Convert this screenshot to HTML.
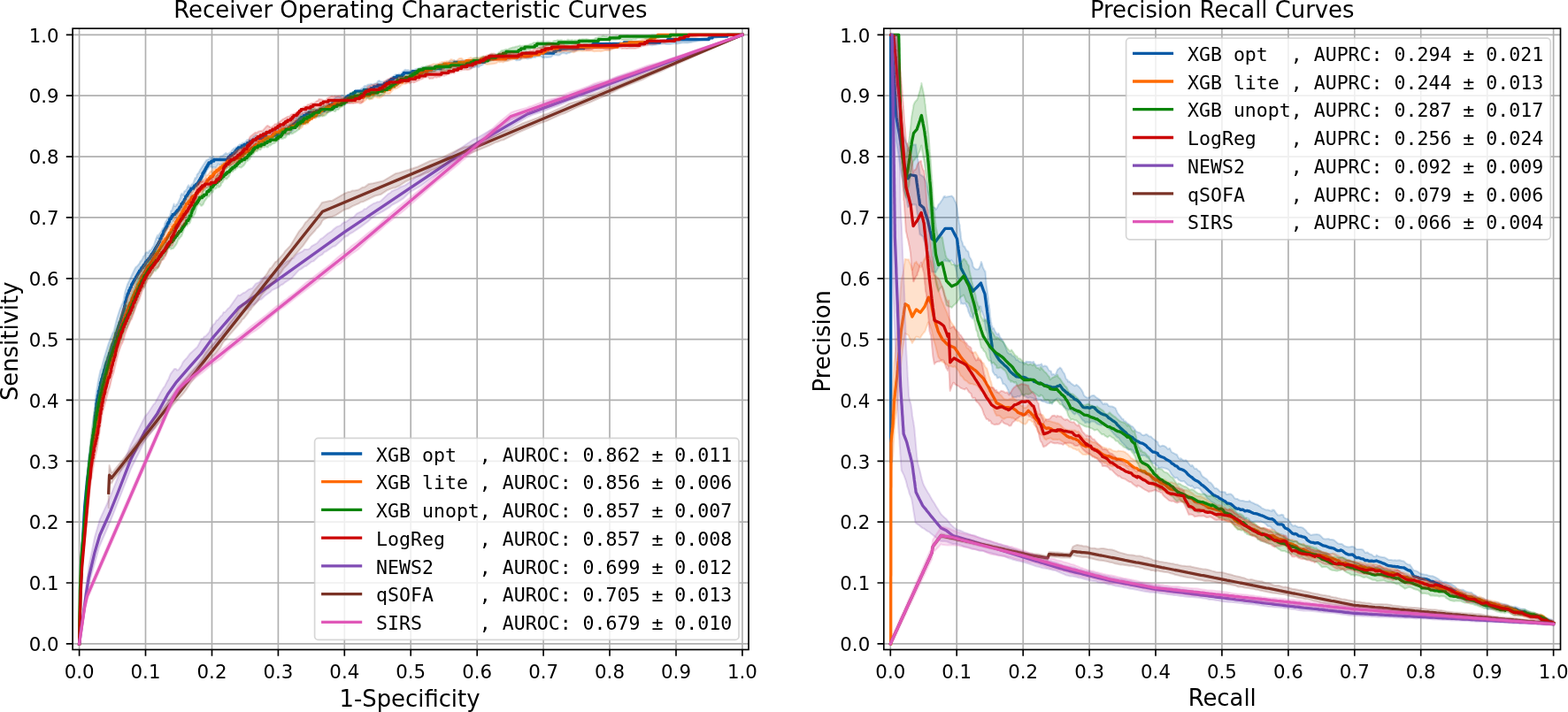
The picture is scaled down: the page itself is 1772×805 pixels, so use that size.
<!DOCTYPE html><html><head><meta charset="utf-8"><title>ROC and PR curves</title>
<style>html,body{margin:0;padding:0;background:#fff;width:1772px;height:805px;overflow:hidden}svg{display:block}text{font-family:"DejaVu Sans","Liberation Sans",sans-serif;fill:#000}.mono{font-family:"DejaVu Sans Mono","Liberation Mono",monospace;white-space:pre}</style></head><body>
<svg width="1772" height="805" viewBox="0 0 1772 805">
<rect width="1772" height="805" fill="#fff"/>
<clipPath id="clip_roc"><rect x="82.1" y="32.2" width="763.9" height="702.3"/></clipPath>
<clipPath id="clip_pr"><rect x="998.8" y="32.2" width="764.7" height="702.3"/></clipPath>
<path d="M89.6 32.2 V734.5 M82.1 727.8 H846 M164.5 32.2 V734.5 M82.1 659 H846 M239.5 32.2 V734.5 M82.1 590.1 H846 M314.4 32.2 V734.5 M82.1 521.3 H846 M389.3 32.2 V734.5 M82.1 452.4 H846 M464.2 32.2 V734.5 M82.1 383.6 H846 M539.2 32.2 V734.5 M82.1 314.8 H846 M614.1 32.2 V734.5 M82.1 245.9 H846 M689 32.2 V734.5 M82.1 177.1 H846 M764 32.2 V734.5 M82.1 108.2 H846 M838.9 32.2 V734.5 M82.1 39.4 H846" stroke="#b0b0b0" stroke-width="1.67" fill="none"/>
<g clip-path="url(#clip_roc)">
<path d="M89.6 727.8 L90.9 672.7 L93.2 615.9 L95.7 572.9 L98.5 543.7 L101.5 521.3 L101.5 517.8 L104.1 502.3 L104.6 495.5 L105.1 495.5 L105.1 492 L105.6 492 L105.6 488.6 L106.1 488.6 L106.1 485.1 L106.5 485.1 L107.5 469.6 L108 469.6 L108 466.2 L108.5 466.2 L108.5 461 L109 461 L109 455.9 L109.5 455.9 L109.5 452.4 L110 452.4 L110 450.7 L110.5 450.7 L110.5 447.3 L111 447.3 L111 445.6 L111.4 445.6 L111.4 442.1 L111.9 442.1 L112.9 437 L113.4 437 L113.4 433.5 L113.9 433.5 L113.9 431.8 L114.4 431.8 L114.9 428.3 L115.4 428.3 L116.3 423.2 L116.8 423.2 L117.8 418 L118.3 418 L119.3 412.9 L119.8 412.9 L119.8 411.1 L120.3 411.1 L120.3 409.4 L121.2 409.4 L121.2 407.7 L121.7 407.7 L122.2 404.3 L122.7 404.3 L123.7 399.1 L124.7 399.1 L125.2 395.6 L125.7 395.6 L125.7 393.9 L126.1 393.9 L126.1 392.2 L126.6 392.2 L126.6 390.5 L127.1 390.5 L127.1 388.8 L128.1 388.8 L128.1 387 L128.6 387 L128.6 385.3 L129.1 385.3 L129.1 383.6 L129.6 383.6 L129.6 381.9 L130.1 381.9 L131 376.7 L132 376.7 L132.5 373.3 L133 373.3 L133 371.6 L133.5 371.6 L133.5 369.8 L134 369.8 L134 368.1 L134.5 368.1 L135 364.7 L135.9 364.7 L135.9 362.9 L136.4 362.9 L136.9 359.5 L137.4 359.5 L137.4 357.8 L137.9 357.8 L137.9 356.1 L138.4 356.1 L138.4 354.3 L138.9 354.3 L138.9 352.6 L139.4 352.6 L139.4 350.9 L139.9 350.9 L139.9 349.2 L140.3 349.2 L140.8 345.7 L141.3 345.7 L141.3 342.3 L141.8 342.3 L141.8 340.6 L142.3 340.6 L143.3 335.4 L143.8 335.4 L143.8 333.7 L144.3 333.7 L144.3 332 L145.2 332 L145.7 328.5 L146.7 328.5 L146.7 326.8 L147.2 326.8 L147.2 325.1 L148.2 325.1 L148.7 321.6 L149.7 321.6 L149.7 319.9 L150.6 319.9 L150.6 318.2 L151.6 318.2 L151.6 316.5 L152.6 316.5 L152.6 314.8 L153.6 314.8 L153.6 313 L154.6 313 L154.6 311.3 L155.5 311.3 L155.5 309.6 L156.5 309.6 L156.5 307.9 L157.5 307.9 L157.5 306.2 L159 306.2 L159 304.4 L159.9 304.4 L159.9 302.7 L161.4 302.7 L161.4 301 L162.4 301 L162.4 299.3 L163.9 299.3 L163.9 297.5 L164.8 297.5 L164.8 295.8 L166.3 295.8 L166.3 294.1 L167.8 294.1 L167.8 292.4 L169.2 292.4 L169.2 290.7 L170.2 290.7 L170.2 288.9 L171.2 288.9 L171.2 287.2 L172.7 287.2 L172.7 285.5 L173.7 285.5 L173.7 283.8 L174.6 283.8 L174.6 282.1 L175.6 282.1 L175.6 280.3 L176.6 280.3 L176.6 278.6 L177.6 278.6 L177.6 276.9 L178.6 276.9 L178.6 275.2 L179.5 275.2 L179.5 273.5 L180.5 273.5 L181 270 L182 270 L182.5 266.6 L183.5 266.6 L183.5 264.9 L184.4 264.9 L184.9 261.4 L185.9 261.4 L185.9 259.7 L186.9 259.7 L186.9 258 L187.9 258 L187.9 256.2 L188.8 256.2 L189.3 252.8 L190.3 252.8 L190.3 251.1 L191.3 251.1 L191.8 247.6 L193.3 247.6 L193.3 245.9 L194.2 245.9 L194.2 244.2 L195.2 244.2 L195.2 242.5 L197.7 242.5 L197.7 240.8 L199.1 240.8 L199.1 239 L200.6 239 L200.6 237.3 L202.1 237.3 L202.1 235.6 L203 235.6 L203 233.9 L204.5 233.9 L205 230.4 L206.5 230.4 L206.5 228.7 L207.9 228.7 L207.9 227 L208.4 227 L208.4 225.3 L209.4 225.3 L209.9 221.8 L211.4 221.8 L211.4 220.1 L212.4 220.1 L212.4 218.4 L213.3 218.4 L213.3 216.7 L214.8 216.7 L214.8 214.9 L215.8 214.9 L215.8 213.2 L218.7 213.2 L218.7 211.5 L219.7 211.5 L219.7 209.8 L221.7 209.8 L221.7 208.1 L223.6 208.1 L223.6 206.3 L224.6 206.3 L224.6 204.6 L225.6 204.6 L225.6 202.9 L226.6 202.9 L226.6 201.2 L227.5 201.2 L227.5 199.5 L228.5 199.5 L229 196 L230 196 L230 194.3 L231 194.3 L231 192.6 L232 192.6 L232 190.8 L232.9 190.8 L232.9 189.1 L233.9 189.1 L233.9 187.4 L234.9 187.4 L234.9 185.7 L235.9 185.7 L235.9 184 L238.8 184 L238.8 182.2 L241.7 182.2 L241.7 180.5 L257.4 180.5 L257.4 178.8 L258.4 178.8 L258.4 177.1 L260.4 177.1 L260.4 175.4 L262.3 175.4 L262.3 173.6 L264.8 173.6 L264.8 171.9 L266.2 171.9 L266.2 170.2 L267.7 170.2 L267.7 168.5 L269.2 168.5 L269.2 166.8 L273.1 166.8 L273.1 165 L276 165 L276 163.3 L279.5 163.3 L279.5 161.6 L282.4 161.6 L282.4 159.9 L285.8 159.9 L285.8 158.1 L289.3 158.1 L289.3 156.4 L297.6 156.4 L297.6 154.7 L307.9 154.7 L307.9 153 L312.8 153 L312.8 151.3 L314.7 151.3 L314.7 149.5 L318.7 149.5 L318.7 147.8 L321.6 147.8 L321.6 146.1 L326 146.1 L326 144.4 L328.5 144.4 L328.5 142.7 L330.9 142.7 L330.9 140.9 L332.9 140.9 L332.9 139.2 L334.8 139.2 L334.8 137.5 L336.8 137.5 L336.8 135.8 L338.7 135.8 L338.7 134.1 L340.7 134.1 L340.7 132.3 L343.2 132.3 L343.2 130.6 L346.1 130.6 L346.1 128.9 L349 128.9 L349 127.2 L357.4 127.2 L357.4 125.4 L366.2 125.4 L366.2 123.7 L368.1 123.7 L368.1 122 L370.6 122 L370.6 120.3 L372.1 120.3 L372.1 118.6 L375.5 118.6 L375.5 116.8 L378.4 116.8 L378.4 115.1 L385.8 115.1 L385.8 113.4 L389.7 113.4 L389.7 111.7 L391.2 111.7 L391.2 110 L393.1 110 L393.1 108.2 L396.5 108.2 L396.5 106.5 L399.5 106.5 L399.5 104.8 L401.4 104.8 L401.4 103.1 L411.2 103.1 L411.2 101.4 L419.1 101.4 L419.1 99.6 L422.5 99.6 L422.5 97.9 L426.9 97.9 L426.9 96.2 L434.3 96.2 L434.3 94.5 L437.2 94.5 L437.2 92.8 L440.1 92.8 L440.1 91 L442.1 91 L442.1 89.3 L445 89.3 L445 87.6 L448.5 87.6 L448.5 85.9 L454.8 85.9 L454.8 84.1 L456.3 84.1 L456.3 82.4 L466.1 82.4 L466.1 80.7 L475.4 80.7 L475.4 79 L479.3 79 L479.3 77.3 L498.4 77.3 L498.4 75.5 L502.4 75.5 L502.4 73.8 L507.3 73.8 L507.3 72.1 L513.6 72.1 L513.6 70.4 L547.4 70.4 L547.4 68.7 L550.9 68.7 L550.9 66.9 L554.3 66.9 L554.3 65.2 L574.9 65.2 L574.9 63.5 L589.6 63.5 L589.6 61.8 L594 61.8 L594 60.1 L625.8 60.1 L625.8 58.3 L628.3 58.3 L628.3 56.6 L633.2 56.6 L633.2 54.9 L659.6 54.9 L659.6 53.2 L666.5 53.2 L666.5 51.4 L669.9 51.4 L669.9 49.7 L705.2 49.7 L705.2 48 L745.8 48 L745.8 46.3 L754.6 46.3 L754.6 44.6 L801.2 44.6 L801.2 42.8 L805.1 42.8 L805.1 41.1 L821.8 41.1 L821.8 39.4 L838.9 39.4" fill="none" stroke="#065aa6" stroke-width="3.3" stroke-linejoin="round" stroke-linecap="square"/>
<path d="M89.6 727.8 L90.4 686.6 L93.3 608.7 L94.6 582.9 L96.5 557.1 L99.5 524.4 L106.4 466.3 L108.2 447.6 L111.3 428.4 L113.5 418.7 L114.7 416.2 L117.5 405.1 L122.6 388.6 L127.4 376.4 L128.5 374.8 L132.1 360.3 L135.9 348.3 L135.9 349 L137.7 343.8 L138.1 344.1 L139.6 339.3 L141.4 329.8 L143.9 321.7 L152.4 303.8 L153.6 301.9 L154.8 301.2 L157.4 298.1 L158.8 295.3 L159.8 294.6 L161.6 291.4 L161.7 290.4 L163.5 288.5 L164.6 285.8 L166.1 285.1 L167.5 285.9 L169 283 L169 283.6 L170.8 282.3 L172.7 278.9 L173.2 279.3 L176.4 269.6 L178.2 265.8 L178.3 269.1 L180 264.5 L181.9 262.1 L183.9 258 L185 257.3 L185.6 256.2 L186.1 253 L187.4 250.2 L189.4 247 L190.6 246.8 L191.1 244.8 L191.8 244.6 L192.9 240.7 L193 238.6 L194.3 237.8 L196.6 230.5 L196.9 233.1 L198.3 232.9 L198.4 233.3 L199.7 230.8 L200.3 231.2 L201.1 229.5 L204 222.9 L204 221.2 L205.4 218.7 L205.8 219.6 L206.9 220.4 L208.4 216 L209.5 216.2 L210 214.9 L211.3 213.6 L211.5 212 L213.1 209.3 L213.2 211.6 L214.6 210.5 L215 211.6 L216.8 208.2 L217.8 208.5 L220.5 201.1 L220.9 201.8 L222.4 199.6 L222.4 197.8 L223.9 195.8 L224.2 196 L226.1 192.1 L233.4 180.9 L235 180.4 L235.3 179.7 L236.7 179.9 L237.1 178 L238.7 178.5 L238.9 179 L240.8 176.6 L241 178 L243.4 179.8 L244.5 178.9 L246.3 179.3 L248.1 179.1 L248.4 177.7 L250 176.4 L250.9 176.6 L255.5 172.9 L255.7 174.1 L257.9 173.7 L259.2 172.9 L261 171.7 L261.8 170.2 L264.7 167.6 L265.4 168.4 L266.5 166.5 L268.4 166.1 L269 164.9 L270.9 163.3 L272.9 163.1 L273.9 161.5 L275 161.8 L277.2 160.6 L279.4 158 L279.4 158.7 L281.6 157.5 L283.1 157.7 L283.9 156.7 L284.9 156.7 L286.8 154.2 L288.6 153.5 L288.6 152.5 L290.5 153.1 L290.9 153.9 L292.3 154.4 L294.1 153 L295.8 152.9 L298.2 149.7 L300.6 149.5 L301.5 150.1 L303.1 149.7 L303.3 150.3 L307 148.6 L307.9 147.5 L308.9 147.7 L310.3 145.8 L310.7 147 L312.5 146.2 L312.6 147.7 L314.4 146.8 L314.9 145.3 L316.2 145.6 L319.5 141.7 L321.7 142.7 L323.6 141.6 L326.1 141.5 L330.3 137.3 L331 135.5 L332.3 134.5 L332.8 133.4 L334.3 132.8 L334.6 133.4 L336.2 132.7 L338.2 130.3 L338.3 131.9 L340.2 129 L342 127.6 L342.1 128.7 L343.8 128 L344.2 127.1 L346.3 125.7 L349.4 124.6 L350.9 123 L355.7 123.7 L356.7 124.4 L360.4 123 L360.6 122.1 L363 120.5 L364.1 121.3 L365.9 119.6 L367.5 119.3 L367.8 120 L369.6 118.5 L369.6 117.8 L373.3 116.9 L373.8 115.7 L376.1 114.2 L378.8 110.3 L382.5 109.2 L382.8 109.7 L384.3 110 L386.2 107.5 L387.4 107.7 L388 108.3 L389.7 108.4 L389.8 108.8 L391.7 108.8 L393.5 108 L395.4 105.1 L396.7 105.7 L397.2 104.7 L399 104.1 L399 105.1 L400.9 103.9 L401.3 104.7 L404.6 101.9 L406.4 102.1 L408.2 100.1 L410.1 99.4 L411.9 97.2 L412.8 97 L413.8 97.5 L415.6 95.8 L417.5 95.4 L417.5 95.8 L419.3 94.9 L422.2 95.7 L423 94.5 L424.8 94.3 L426.7 92.9 L426.9 91.8 L428.5 91.1 L430.3 92.3 L434.1 92.6 L435.9 91.7 L437.7 89.9 L438.7 90.3 L441.4 88.7 L446.9 84.3 L450 84.3 L450.6 83.6 L452.3 83.9 L452.4 83.4 L454.3 82.8 L454.5 81.5 L457.9 78.7 L459.8 79.2 L461.5 78.9 L461.6 79.4 L464 80.1 L465.3 79.7 L466.4 78.7 L467.1 79.2 L468.9 79 L469 78.3 L474.5 76.9 L478.2 76.6 L480 77.4 L481.9 76.2 L483.7 75.9 L483.8 75.4 L485.5 74.3 L487.4 75 L491.1 75 L491.2 75.8 L492.9 74.6 L494.7 74.4 L496.6 73.4 L498.4 73.1 L500.8 71.3 L502.1 71.8 L503.9 70.8 L507.6 70.5 L507.9 69.5 L509.5 69.2 L510.3 69.7 L513.2 68.1 L515.2 69.4 L516.8 68.7 L518.7 69.8 L520.2 69.7 L520.5 69 L522.4 68.2 L522.7 68.9 L524.2 68.8 L525.2 67.9 L526 68.9 L527.9 69.9 L529.7 68.9 L533.4 68.9 L535.1 70.2 L535.2 71.1 L537.1 71 L537.6 71.3 L538.9 71 L542.6 67.7 L548.3 66.1 L553.6 61.8 L559.2 63.1 L561 61.9 L562.8 62.4 L562.9 62 L564.7 61.2 L566.5 61.4 L568.4 60.7 L572.9 60.2 L579.4 61.7 L580.3 60.8 L582.8 60.4 L583.1 60 L585.3 60.8 L587.8 61 L590.3 60.5 L590.4 59.5 L595.3 58.8 L597.8 59.9 L597.8 59.1 L601.5 61.1 L603.3 60.5 L605.2 60.8 L605.3 60.2 L610.3 59.1 L610.7 59.7 L612.5 60.1 L615.3 59.9 L617.7 59.2 L618.1 58.6 L623.6 58.8 L627.3 57.8 L627.6 57.1 L630.9 57.5 L634.6 56.8 L636.5 55.7 L638.3 55.5 L639.9 54.6 L640.1 54 L642.3 54 L644.8 52.9 L647.5 53.2 L651.2 52.6 L652.2 53.3 L656.7 52.5 L660.4 49.9 L662.2 49.8 L664.5 50.6 L665.9 50.1 L667.7 50.1 L669.5 50.6 L669.6 49.9 L671.4 49.6 L671.9 50.2 L675.1 48.8 L676.9 49.6 L678.8 49.1 L681.9 49.8 L682.5 48.8 L684.3 48.9 L684.4 48.5 L689.4 48.6 L691.7 49.1 L691.9 48.4 L693.5 48.1 L699 48.5 L699.4 47.9 L700.9 47.4 L701.9 48.1 L706.9 48.8 L711.9 47.4 L719.3 48.4 L726.9 47 L734 47.3 L734.4 47.9 L735.8 47.4 L736.9 47.9 L739.4 47.6 L744.4 46.5 L745 46.9 L752.4 47.2 L759.4 46.1 L765.3 47 L771.9 45.9 L774.5 46.5 L778.2 46.3 L783.7 45.7 L784.3 45.2 L792.9 43.6 L813.1 41.1 L838.9 39.4 L838.9 39.4 L811.5 42.3 L806.5 43.5 L791.7 45.6 L785.5 47.1 L781.9 47.4 L781.8 47.8 L776.9 48.5 L771.9 48.2 L765.3 49.5 L761.9 49 L756.9 50 L752.4 49.9 L750.6 49.2 L736.9 51.2 L734.4 51.1 L734 50.3 L730.3 50.1 L728.5 50.3 L726.6 51.2 L721.1 51 L715.6 52.2 L711.9 52.4 L708.2 51.8 L706.9 52.2 L704.6 51.5 L702.7 52 L700.9 51.2 L697.2 51.6 L691.9 53.1 L691.7 53.5 L689.4 53 L686.1 53.2 L684.4 52.7 L682.5 52.9 L681.9 52.4 L679.4 52.4 L678.8 53.4 L674.4 53.5 L673.3 54 L669.5 53.6 L667 53.9 L665.9 54.7 L664.5 54.5 L664.1 55.1 L662 55.5 L660.4 55.6 L659.5 54.7 L652.2 56.3 L651.2 57.3 L649.3 58 L647.5 58.2 L647.2 57.6 L643.8 59.7 L642.3 59.8 L640.1 60.9 L637.4 60.1 L635 60.3 L632.5 62.2 L630.9 62.5 L625.4 62.1 L622.7 64.4 L620.2 64.8 L617.7 65 L616.2 64.6 L615.3 65.5 L614.4 64.9 L612.8 65 L612.5 64.4 L610.3 63.4 L607 63.7 L605.3 64.2 L605.2 65 L602.8 64.8 L599.6 66.1 L597.8 65.5 L597.8 66.3 L596 66.5 L592.8 65.3 L592.3 65.7 L590.4 65.4 L590.3 66.1 L588.6 66.8 L587.8 67.9 L583.1 68.2 L582.8 67.5 L580.3 66.2 L579.4 66.8 L577.6 66.3 L572.9 68.6 L572 68.2 L570.4 68.8 L570.2 68.4 L566.5 68 L565.4 68.4 L561 67.8 L560.4 67.2 L557.9 67.4 L557.3 68.1 L550.5 69.5 L548.3 71.4 L548.1 70.8 L546.3 71.9 L546.3 72.6 L544.4 73.9 L542.6 74.4 L540.8 76.3 L540 75.1 L537.6 75.4 L535.2 76.3 L535.1 75.7 L533.4 77 L531.6 77 L530.1 76.4 L529.7 75.6 L527.9 75.4 L527.6 74.3 L522.4 73.8 L520.2 75.9 L518.7 75.6 L517.7 76.3 L515.2 76.4 L515 74.9 L511.3 74.2 L509.5 74.7 L507.6 76.6 L505.8 77.2 L502.1 77.4 L498.4 79.5 L496.1 79.9 L494.7 79.4 L492.9 80.3 L486.3 81 L485.5 81.8 L478.8 83.7 L476.3 85.4 L471.4 86 L470.8 85 L469 85.2 L467.1 84.6 L463.5 87.1 L461.6 86.7 L459.8 86.9 L457.9 88.3 L456.8 88.1 L456.1 88.9 L452.4 89 L452.3 88.4 L450 89.5 L448.7 91 L447.8 90.8 L445.1 93.6 L443.3 94.4 L443.2 94 L441.4 95.2 L438.7 96 L437.7 97.3 L435.9 97.8 L431.7 100.6 L429.3 101.2 L428.5 100.8 L426.9 101.3 L426.7 101 L424.8 101.3 L423 103.2 L422.2 103.5 L421.1 103.2 L419.8 104.3 L419.3 103.9 L417.5 105.4 L417.5 105.9 L415.6 106.7 L411.9 107.9 L410.1 107.3 L408.2 108.5 L408.2 107.5 L406.4 108.5 L405.9 107.9 L404.6 108.2 L401.3 111.9 L399 113.2 L399 114 L394.4 115.9 L393.5 115.7 L391.7 117.2 L386.2 119.4 L384.3 118.1 L382.8 120.6 L382.5 119.9 L380.6 121.9 L378.3 123.2 L375.1 123.7 L373.8 125.5 L371.7 126.7 L371.4 126.3 L369.6 127.4 L367.5 125.7 L365.9 126.5 L364.1 129.1 L363 129.3 L362.2 130.6 L360.6 131 L360.4 132.6 L358.2 131.8 L354.9 132.2 L351.2 131.4 L349.4 132.6 L347.5 135.1 L345.7 134.9 L344.2 136.8 L342.1 137.5 L342 137 L340.2 140 L340.1 141.4 L338.2 143 L336.2 143.1 L334.6 143.8 L334.3 143 L331 147.6 L326.1 151.9 L323.6 151.3 L321.8 152.7 L321.7 151.3 L319.9 150.8 L317.2 154 L316.2 153.9 L314.9 154.9 L314.4 156.4 L312.6 157.2 L312.5 156.3 L310.7 156.8 L308.9 158.2 L307.9 158.3 L307 157.8 L305.5 159 L303.3 158.4 L303.1 157.7 L301.5 157.9 L299.7 160.5 L298.2 160.3 L297.8 161.1 L296 161.6 L295.8 162.4 L294.1 161.3 L293.3 161.4 L292.3 162.7 L290.5 162.1 L288.6 162.2 L288.6 162.9 L286.8 163.9 L286.2 162.4 L283.9 164.9 L283.1 166.7 L281.6 168 L281.3 167.2 L279.4 168.9 L277.6 168.7 L277.2 167.9 L275.7 167.4 L272.9 170.1 L272.1 172.6 L270.9 172.5 L270.2 175.2 L269 175.8 L267.2 178.8 L266.5 178.9 L265.4 180.6 L264.7 179.7 L263.6 182.3 L261.8 181.8 L261 182.3 L259.9 181.5 L259.2 183.3 L257.3 183.7 L253.7 187.3 L251.8 185.7 L248.4 186 L248.1 186.5 L246.3 185.3 L245.9 187.1 L243.4 189.7 L241 188.9 L240.8 190.2 L238.9 188.8 L238.7 187.7 L237.1 188.4 L233.4 193.3 L232 197.8 L230.6 199.1 L229.7 199.4 L229.3 202.3 L228 204.7 L227.9 205.9 L226.7 205.6 L225.3 208 L222.4 209.7 L222.4 211.9 L220.9 211.7 L220.5 213.4 L219.3 215.6 L218.7 215.7 L216.8 218.6 L216.2 221.2 L215 223.1 L214.6 225.4 L213.2 227.9 L210 232.2 L209.5 231.3 L208.4 232.4 L207.6 235.3 L206.9 236.3 L204 238.8 L202.5 239.3 L200.3 244 L199.7 246.8 L198.4 248.3 L198.3 246.8 L195.6 250.6 L194.8 250.4 L194.3 250.7 L192.9 253.6 L189.4 257.5 L183.9 269.6 L182.8 276.3 L179.4 284.1 L178.3 285.1 L178.2 283.7 L176.4 286.2 L174.5 286.8 L173.2 291.2 L172.7 291.6 L171.8 291.1 L169 297.1 L169 295.4 L167.5 298.2 L167.2 300.8 L166.1 302.9 L160.2 311.5 L158.8 312.5 L154.8 318.7 L153.6 322.7 L150 329.7 L147.8 335.3 L143.2 348.6 L143.1 347.6 L141.2 354.9 L139.6 364 L137.4 369.4 L135.2 377.2 L133.6 380.5 L131.3 390.1 L121.9 420.2 L121.1 421.7 L121.1 420.9 L117.5 436.7 L117.5 436.2 L116.1 438 L115.4 439.6 L110.8 459.6 L109.2 469.7 L106.4 497.4 L99.2 547.3 L95.7 579.5 L94.2 599.2 L92.7 630.6 L90.4 688.1 L89.6 727.8 Z" fill="#065aa6" fill-opacity="0.2" stroke="#065aa6" stroke-opacity="0.2" stroke-width="2" stroke-linejoin="round"/>
<path d="M89.6 727.8 L90.9 665.8 L92.4 633.1 L98.5 559.1 L102 523 L103.6 514.4 L104.6 504.1 L105.1 504.1 L105.1 500.6 L105.6 500.6 L105.6 497.2 L106.1 497.2 L106.1 493.7 L106.5 493.7 L106.5 490.3 L107 490.3 L107 488.6 L107.5 488.6 L108.5 478.3 L109 478.3 L109 476.5 L109.5 476.5 L109.5 473.1 L110 473.1 L110 471.4 L110.5 471.4 L110.5 467.9 L111 467.9 L111.4 462.8 L111.9 462.8 L111.9 461 L112.4 461 L112.4 457.6 L112.9 457.6 L112.9 455.9 L113.4 455.9 L113.4 452.4 L113.9 452.4 L114.9 447.3 L115.4 447.3 L115.4 443.8 L115.9 443.8 L115.9 442.1 L116.3 442.1 L116.3 440.4 L116.8 440.4 L116.8 438.7 L117.3 438.7 L117.3 435.2 L117.8 435.2 L117.8 433.5 L118.3 433.5 L118.3 431.8 L118.8 431.8 L118.8 430.1 L119.3 430.1 L119.3 428.3 L119.8 428.3 L119.8 426.6 L120.3 426.6 L120.3 424.9 L120.8 424.9 L120.8 421.5 L121.2 421.5 L121.2 419.7 L121.7 419.7 L121.7 418 L122.2 418 L122.2 416.3 L122.7 416.3 L122.7 414.6 L123.2 414.6 L123.7 411.1 L124.2 411.1 L124.2 409.4 L124.7 409.4 L125.2 406 L125.7 406 L125.7 404.3 L126.1 404.3 L126.1 402.5 L126.6 402.5 L126.6 400.8 L127.1 400.8 L127.6 397.4 L128.6 397.4 L128.6 395.6 L129.1 395.6 L129.1 393.9 L129.6 393.9 L129.6 392.2 L130.1 392.2 L131 387 L131.5 387 L132 383.6 L133 383.6 L133 381.9 L133.5 381.9 L134 378.4 L134.5 378.4 L134.5 376.7 L135 376.7 L135 375 L135.4 375 L135.4 373.3 L136.4 373.3 L136.9 369.8 L137.4 369.8 L137.4 368.1 L137.9 368.1 L137.9 366.4 L138.9 366.4 L139.9 361.2 L140.8 361.2 L141.8 356.1 L142.8 356.1 L143.8 350.9 L144.8 350.9 L145.7 345.7 L146.7 345.7 L147.2 342.3 L148.2 342.3 L149.2 337.1 L150.1 337.1 L150.1 335.4 L150.6 335.4 L150.6 333.7 L151.6 333.7 L152.1 330.2 L153.1 330.2 L153.1 328.5 L154.1 328.5 L154.1 326.8 L154.6 326.8 L154.6 325.1 L155.5 325.1 L156 321.6 L157 321.6 L157 319.9 L158 319.9 L158 318.2 L159 318.2 L159.5 314.8 L160.4 314.8 L160.4 313 L161.4 313 L161.4 311.3 L162.9 311.3 L163.4 307.9 L164.4 307.9 L164.4 306.2 L165.8 306.2 L166.3 302.7 L167.3 302.7 L167.3 301 L168.8 301 L168.8 299.3 L169.7 299.3 L169.7 297.5 L170.7 297.5 L170.7 295.8 L172.2 295.8 L172.2 294.1 L173.2 294.1 L173.2 292.4 L174.6 292.4 L174.6 290.7 L175.6 290.7 L175.6 288.9 L176.6 288.9 L176.6 287.2 L177.6 287.2 L177.6 285.5 L178.6 285.5 L178.6 283.8 L179.5 283.8 L179.5 282.1 L180.5 282.1 L180.5 280.3 L181.5 280.3 L181.5 278.6 L182.5 278.6 L182.5 276.9 L183.5 276.9 L183.5 275.2 L184.4 275.2 L184.4 273.5 L185.9 273.5 L185.9 271.7 L186.9 271.7 L186.9 270 L188.4 270 L188.4 268.3 L189.3 268.3 L189.3 266.6 L190.3 266.6 L190.3 264.9 L191.3 264.9 L191.3 263.1 L192.8 263.1 L193.3 259.7 L194.7 259.7 L195.2 256.2 L196.7 256.2 L196.7 254.5 L198.2 254.5 L198.6 251.1 L199.6 251.1 L199.6 249.4 L200.6 249.4 L200.6 247.6 L202.1 247.6 L202.1 245.9 L203 245.9 L203 244.2 L204 244.2 L204 242.5 L205 242.5 L205 240.8 L206 240.8 L206 239 L207 239 L207 237.3 L207.9 237.3 L207.9 235.6 L208.9 235.6 L208.9 233.9 L209.9 233.9 L210.4 230.4 L212.4 230.4 L212.4 228.7 L213.8 228.7 L213.8 227 L215.3 227 L215.3 225.3 L216.3 225.3 L216.3 223.5 L217.7 223.5 L217.7 221.8 L220.2 221.8 L220.2 220.1 L221.7 220.1 L221.7 218.4 L223.6 218.4 L223.6 216.7 L225.1 216.7 L225.1 214.9 L226.1 214.9 L226.1 213.2 L228.5 213.2 L228.5 211.5 L230 211.5 L230 209.8 L231.5 209.8 L231.5 208.1 L232.9 208.1 L232.9 206.3 L233.9 206.3 L233.9 204.6 L234.9 204.6 L234.9 202.9 L236.4 202.9 L236.4 201.2 L237.8 201.2 L237.8 199.5 L240.3 199.5 L240.3 197.7 L241.3 197.7 L241.3 196 L242.7 196 L242.7 194.3 L244.7 194.3 L244.7 192.6 L247.1 192.6 L247.1 190.8 L249.1 190.8 L249.1 189.1 L251.5 189.1 L251.5 187.4 L253.5 187.4 L253.5 185.7 L256 185.7 L256 184 L257.4 184 L257.4 182.2 L261.3 182.2 L261.3 180.5 L265.3 180.5 L265.3 178.8 L270.7 178.8 L270.7 177.1 L272.6 177.1 L272.6 175.4 L274.6 175.4 L274.6 173.6 L277 173.6 L277 171.9 L280.4 171.9 L280.4 170.2 L281.4 170.2 L281.4 168.5 L284.9 168.5 L284.9 166.8 L287.3 166.8 L287.3 165 L289.3 165 L289.3 163.3 L292.2 163.3 L292.7 159.9 L297.6 159.9 L297.6 158.1 L299.6 158.1 L299.6 156.4 L303 156.4 L303 154.7 L307.9 154.7 L307.9 153 L308.9 153 L308.9 151.3 L310.8 151.3 L310.8 149.5 L315.7 149.5 L315.7 147.8 L319.1 147.8 L319.1 146.1 L326.5 146.1 L326.5 144.4 L329.9 144.4 L329.9 142.7 L334.3 142.7 L334.3 140.9 L338.3 140.9 L338.3 139.2 L344.1 139.2 L344.1 137.5 L347.6 137.5 L347.6 135.8 L349.5 135.8 L349.5 134.1 L352.5 134.1 L352.5 132.3 L354.9 132.3 L354.9 130.6 L357.4 130.6 L357.4 128.9 L358.3 128.9 L358.3 127.2 L361.8 127.2 L361.8 125.4 L364.2 125.4 L364.2 123.7 L368.1 123.7 L368.1 122 L370.6 122 L370.6 120.3 L374.5 120.3 L374.5 118.6 L377.9 118.6 L377.9 116.8 L385.8 116.8 L385.8 115.1 L391.6 115.1 L391.6 113.4 L393.6 113.4 L393.6 111.7 L398.5 111.7 L398.5 110 L411.2 110 L411.2 108.2 L417.6 108.2 L417.6 106.5 L422 106.5 L422 104.8 L427.4 104.8 L427.4 103.1 L434.8 103.1 L434.8 101.4 L440.6 101.4 L440.6 99.6 L442.1 99.6 L442.1 97.9 L445.5 97.9 L445.5 96.2 L448 96.2 L448 94.5 L449.9 94.5 L449.9 92.8 L454.8 92.8 L454.8 91 L461.7 91 L461.7 89.3 L464.2 89.3 L464.2 87.6 L466.6 87.6 L466.6 85.9 L469.5 85.9 L469.5 84.1 L473.5 84.1 L473.5 82.4 L477.4 82.4 L477.4 80.7 L482.8 80.7 L482.8 79 L487.7 79 L487.7 77.3 L492.1 77.3 L492.1 75.5 L496 75.5 L496 73.8 L501.9 73.8 L501.9 72.1 L518.5 72.1 L518.5 70.4 L526.9 70.4 L526.9 68.7 L543.5 68.7 L543.5 66.9 L571.4 66.9 L571.4 65.2 L584.7 65.2 L584.7 63.5 L600.8 63.5 L600.8 61.8 L609.6 61.8 L609.6 60.1 L614.1 60.1 L614.1 58.3 L616.5 58.3 L616.5 56.6 L619.4 56.6 L619.4 54.9 L630.2 54.9 L630.2 53.2 L697.8 53.2 L697.8 51.4 L701.2 51.4 L701.2 49.7 L711 49.7 L711 48 L731.1 48 L731.1 46.3 L734.1 46.3 L734.1 44.6 L736 44.6 L736 42.8 L740.4 42.8 L740.4 41.1 L743.4 41.1 L743.4 39.4 L838.9 39.4" fill="none" stroke="#ff6a00" stroke-width="3.3" stroke-linejoin="round" stroke-linecap="square"/>
<path d="M89.6 727.8 L90.8 668.6 L92.3 632 L99.2 540.8 L101.8 513.4 L104.4 489.5 L106.4 479.5 L108.6 461.7 L110.1 454.4 L110.9 452.6 L113.8 435.9 L118.9 417.1 L119.5 413.1 L121.4 405 L122.8 401.8 L123.4 397.6 L128.5 380.5 L132.2 372.2 L138 352 L139.6 347.9 L139.7 348.6 L142.3 342.6 L143.2 341.6 L143.2 340.5 L146.8 331.8 L149.7 326.4 L153.7 315.2 L155.8 311.1 L156.1 311.7 L158 309 L163.8 297.8 L166.4 294.8 L170.4 288.6 L170.8 288.7 L174.5 283.4 L175.9 281 L176.4 278.7 L177.3 277.7 L180 271.7 L181.3 271.6 L181.9 272.4 L182.6 272.2 L185.2 266.3 L187.4 258.5 L187.8 259.4 L189 258.3 L189.2 258.8 L190.3 257.3 L191.1 255 L191.6 256.9 L192.9 255.8 L192.9 253.3 L194.8 253.1 L195.5 252.1 L196.8 246 L198.1 246.1 L198.4 243.5 L200.3 240.7 L202.1 239.3 L202.2 238.3 L203.5 237 L207.6 230 L207.6 228.8 L209.5 225.8 L210.5 226.8 L212 222.5 L213.5 222 L215 220 L215.1 218 L216.6 217 L216.8 218.2 L218.2 216.6 L218.7 214.9 L220.5 213 L222.4 208.6 L224.2 206.5 L226.1 204.5 L226.1 206.6 L227.9 206 L229.7 202.9 L231 203 L231.6 201.1 L233.4 198.3 L235.3 197.3 L237.8 193.6 L238.9 194.1 L239.6 193.8 L240.8 191.8 L242.6 191 L243.2 191.7 L244.5 189.8 L245.1 190.5 L248.1 187.4 L250 186.5 L250.8 185 L252.8 183.5 L253.7 183.7 L258.9 178.2 L262.9 175.8 L263.1 174.4 L265.2 171.5 L266.5 170.9 L267.4 169.6 L268.4 170 L270.2 168.6 L271.7 168.5 L275.7 165.2 L276 166.9 L277.6 165.9 L278.2 164.3 L280.4 162.3 L283.1 160.7 L284.7 160.2 L284.9 161.2 L286.8 160.6 L286.9 160 L288.6 160.4 L291.2 159.4 L293.4 159.5 L296 155.2 L297.7 153.5 L297.8 154.3 L299.7 153 L299.9 153.9 L301.5 154 L302.1 154.8 L308.9 150.6 L314.4 148.3 L318.1 144.3 L319.8 143.1 L319.9 142.1 L321.8 140.1 L329.1 136.6 L334.6 136 L337.8 134.6 L338.3 133.5 L340 134 L342 132.7 L343.8 132.1 L344.5 132.5 L346.7 130.8 L347.5 131.2 L349.4 130.9 L351.2 128.6 L351.2 127.3 L354.9 124.1 L356.7 126.2 L357.8 125.5 L358.6 126 L360.4 125.1 L362.2 122.6 L364.1 122.9 L364.4 121.9 L366.5 120.3 L367.8 118.5 L368.7 118.6 L369.6 117.8 L373.3 117.5 L375.4 115.4 L377 114.7 L382.4 114.3 L384.3 112.7 L384.8 113.4 L386.2 113.3 L388 112.2 L389.8 112.2 L391.7 111.3 L392 109.9 L394.5 109.9 L396.9 108.5 L397.2 107.5 L399 108.8 L400.9 107.1 L401.8 107.6 L404.2 107 L404.6 105.4 L406.4 106 L408.2 104.7 L411.6 104.4 L411.9 103.7 L413.8 103.9 L414 104.3 L417.5 105.4 L421.1 103.3 L421.3 102.7 L423.7 100.7 L435.7 97.4 L437.7 96.3 L438 97.7 L440.3 96.1 L443.2 96.2 L446.9 93.7 L446.9 92.6 L449.1 92.2 L451.3 91 L453.5 90.8 L455.7 88.6 L457.9 88.6 L457.9 88 L459.8 87.7 L463.5 84.2 L464.6 83.7 L465.3 82.2 L466.8 81.5 L467.1 81.9 L470.8 79.6 L472.7 79.5 L473.6 78.7 L474.5 78.9 L475.8 78.1 L476.3 78.8 L478.1 79.2 L480 77.8 L480.3 77 L481.9 76.4 L483.7 74.7 L489.5 72.3 L492.9 72.6 L494.7 71.9 L496.6 72 L496.7 71.1 L498.4 70.8 L499.2 70 L501.6 70.1 L502.1 69.6 L503.9 70.2 L504.1 69.3 L506.6 69.2 L509.1 67.8 L509.5 67.1 L511.3 67.5 L511.5 68.1 L514 68.6 L515 69.4 L519 65.9 L521.5 65.7 L524 67.7 L524.2 68.5 L526.5 68.1 L529.7 66.1 L531.5 65.6 L531.6 64.9 L534 66 L539 65.5 L541.5 65.7 L542.6 64.5 L544.4 64.8 L546.5 63.9 L548.1 63.8 L549 65.3 L550 65.4 L551.8 64.2 L554 64.7 L555.5 64 L556.5 64 L557.3 65.1 L561.5 65.5 L564 64.7 L564.7 65.1 L566.5 64.3 L566.5 63.6 L570.2 62.9 L571.4 62 L579.4 61.1 L581.2 61.1 L581.4 61.6 L583.1 60.8 L584.9 61.8 L588.6 61.4 L588.8 62.1 L590.4 61.2 L592.3 61 L594.1 59.1 L596 58.4 L597.8 58.4 L598.6 57.9 L605.2 58.4 L606 57.9 L608.4 57.8 L608.9 57.3 L614.4 55.2 L615.6 55.1 L616.2 55.6 L618 54.7 L618.1 55.3 L623 53.2 L623.6 53.6 L628 53.2 L629.1 53.7 L630.5 53.1 L630.9 53.7 L632.8 53.1 L634.6 53.3 L635.5 52.8 L636.5 53.3 L638 52.9 L638.3 54.2 L642 54.7 L647.5 54.5 L648 54 L650.5 53.4 L655.5 53.1 L656.7 53.4 L658 53.1 L658.5 53.8 L660.4 53.3 L660.5 53.7 L664.1 54.7 L668 54.7 L673.3 53.6 L675.1 53.6 L675.5 54.3 L676.9 54.6 L678.8 54.5 L683 53 L688 52.9 L690.4 51.4 L695.2 49.8 L695.3 50.2 L697.2 50.1 L697.7 49.5 L699 49.4 L700.1 50 L707.4 47 L719.3 46.7 L723 45.7 L724.8 45.7 L724.8 45.1 L726.6 44.4 L727.2 44.9 L730.3 43.6 L732.2 44 L739.4 41.4 L746.9 39.5 L838.9 39.4 L838.9 39.4 L818.7 39.6 L811.3 40.1 L805.8 39.9 L798.8 40.4 L791 39.9 L783.7 41 L776.3 40.2 L767.1 40.6 L761.6 42 L756.3 41.8 L756.1 41 L753.8 41.8 L752.4 41.3 L746.9 41.7 L739.5 44.7 L734.7 47.2 L730.3 47.1 L727.2 47.7 L722.3 49.1 L719.8 49.4 L717.4 50.6 L717.3 50.2 L712.4 51.4 L711.9 51 L706.4 51.2 L704.6 52.1 L700.9 52.6 L695.3 54.3 L695.2 54 L689.8 56.7 L688 57.2 L684.3 56.9 L678.8 58.2 L676.9 57.8 L671.4 58.3 L667.7 57.3 L658 57.7 L654.9 57.3 L650.5 58.2 L649.3 59 L648 59.3 L645.7 58.4 L642 57.9 L638.3 57.8 L638 58.2 L635.5 58.1 L634.6 58.7 L632.8 58.9 L630.9 58.5 L629.1 59.2 L625.5 58.5 L623.6 58.8 L621.7 58.1 L619.9 59.8 L618.1 60.1 L618 59.6 L615.6 60.5 L613.3 60.2 L612.5 60.9 L608.9 61.8 L607 62.9 L606 62.6 L603.3 63.5 L601.1 63.5 L599.6 64.4 L596.2 64.9 L592.3 66.2 L590.4 66.2 L588.8 66.9 L586.8 66 L581.2 66.8 L573.9 69.1 L570.2 69.5 L568.9 70.4 L566.5 69.9 L564.7 70.4 L562.8 69.7 L561 71.5 L559.2 71.7 L559 72.1 L550 72.9 L546.5 71.6 L546.3 70.6 L544.4 70.5 L542.6 72.1 L541.5 72.1 L540.8 72.5 L538.9 72.5 L535.2 71 L534 71.4 L531.6 71.3 L531.5 72 L529.7 71.5 L527.9 71.8 L526 73.5 L524.2 73.8 L524 75 L519 75.5 L518.7 74.7 L516.8 74.6 L515 73.7 L514 74.7 L511.5 75.6 L511.3 74.8 L509.5 74.8 L509.1 74.1 L507.6 73.8 L504.1 74.3 L503.9 75.1 L501.6 77.3 L500.3 77.3 L499.2 78 L496.6 77.2 L494.7 78 L494.3 77.4 L492.9 77.4 L491.9 78.2 L491.1 77.7 L489.5 77.9 L485.5 79.7 L482.6 83 L474.5 87.7 L469.1 88.8 L466.8 88.7 L464.6 89.6 L462.3 91.5 L461.6 92.8 L460.1 93.2 L459.8 94.2 L457.9 95 L455.7 95 L453.5 96.1 L452.4 97.6 L449.1 99.7 L448.7 99.4 L446.9 100.6 L446.9 99.7 L444.7 100.8 L440.3 106 L439.5 105.8 L438 106.4 L437.7 105.5 L435.7 105.9 L430.9 109.9 L428.5 110.7 L428.5 110 L426.7 110.5 L423.7 109.3 L421.3 111.2 L421.1 111.9 L419.3 111.9 L417.5 112.6 L416.4 110.9 L414 111.2 L413.8 112.7 L410.1 115.6 L408.2 115.7 L406.7 114.6 L401.8 115.8 L399.3 115.2 L399 115.5 L397.2 115.5 L396.9 115 L395.4 115.3 L389.8 116.7 L389.6 117.5 L386.2 120.3 L384.3 120.8 L382.5 120.3 L382.4 119.3 L377 121.2 L375.4 122.7 L375.1 124.4 L373.2 125 L369.6 127.4 L367.8 128.1 L364.4 130.9 L364.1 130.1 L362.2 130.3 L360.4 131.5 L360 131.1 L358.6 131.4 L357.8 133 L356.7 133.8 L355.6 134.3 L354.9 133.3 L353.4 134 L353 134.9 L351.2 135.2 L351.2 136 L349.4 136.9 L348.9 139.4 L347.5 140.2 L346.7 139.2 L345.7 140.9 L344.5 139.7 L343.8 140.9 L342.2 141.7 L342 143.2 L340.2 145 L340 144.3 L338.3 145.9 L335.5 143.6 L334.6 143.5 L333.3 144.5 L332.8 144.4 L331.1 145.4 L327.3 149.4 L326.6 150.9 L322.1 152.3 L321.8 151 L319.9 151.5 L319.8 153.1 L318.1 154.2 L317.6 153.4 L316.2 154.5 L314.4 157.5 L313.1 157.2 L310.9 159.6 L310.7 158.9 L306.5 159.1 L304.3 161.5 L303.3 160.9 L297.8 163.6 L297.7 164.8 L293.4 167.3 L286.9 172.1 L286.8 170.1 L281.3 172.6 L280.4 175.2 L279.4 175.2 L277.6 177.2 L275.7 176.5 L273.9 177.2 L273.8 178.4 L272.1 178.9 L269.5 183.6 L268.4 184 L267.4 185.4 L265.2 184.1 L262.9 185.4 L261 185.7 L259.2 188.6 L258.9 187.7 L257.3 188.5 L256.9 189.4 L255.5 189.7 L254.8 191.3 L252.8 193.1 L251.8 193.7 L250.8 192.2 L248.9 195.1 L247 196 L244.5 201.4 L242.6 200.8 L240.8 204.1 L238.9 205.9 L237.8 205.3 L237.1 207 L236.1 207.3 L235.3 206.5 L233.4 208.4 L232.7 211.2 L229.7 215.7 L227.9 220.5 L226.1 221.8 L226.1 222.8 L224.5 223.8 L224.2 223.4 L222.4 226.6 L220.5 227.6 L219.7 230.7 L218.7 232.3 L218.2 230.5 L216.8 231.3 L215.1 234.7 L215 233.7 L213.5 234 L213.2 236.3 L210.5 239 L209.1 242.8 L206.3 247.2 L205.8 249.5 L203.5 250.9 L202.2 254.3 L202.1 256.2 L200.8 256.7 L199.5 256.4 L198.4 258.3 L198.1 258 L196.8 258.3 L195.5 260.6 L194.8 263.1 L194.2 262.8 L192.9 264.7 L192.9 266 L191.6 267 L189.2 271 L185.2 283.7 L183.7 284.6 L182.6 286.6 L181.9 286.2 L180 290.3 L180 292 L178.6 295.6 L178.2 295.3 L177.3 298 L176.4 298.6 L175.9 299.8 L174.5 300.7 L172.7 303.2 L171.8 302.8 L170.8 305.1 L167.7 308.6 L167.2 310.9 L165.1 313.6 L162.6 319.3 L161.4 320.3 L160.2 323.1 L159.1 324.4 L156.9 330.2 L156.1 330.6 L152.4 342 L150.6 345 L147.8 354 L141.4 368.1 L139.6 375.6 L138 379.6 L137.7 378.6 L137.2 380.1 L133.1 395.4 L130.7 402.3 L130.4 402.3 L130 403.4 L127 415.1 L125.5 418.5 L122.8 430.6 L117.7 448.4 L111.8 473.7 L106.2 506.1 L101.3 541.5 L92.4 635.4 L90.8 671.1 L89.6 727.8 Z" fill="#ff6a00" fill-opacity="0.2" stroke="#ff6a00" stroke-opacity="0.2" stroke-width="2" stroke-linejoin="round"/>
<path d="M89.6 727.8 L90.4 667.6 L91.9 629.7 L94.9 598.7 L98.2 552.3 L100.8 524.7 L103.1 509.2 L103.1 505.8 L104.6 495.5 L105.1 495.5 L105.1 492 L105.6 492 L105.6 488.6 L106.1 488.6 L106.1 485.1 L106.5 485.1 L106.5 483.4 L107 483.4 L107.5 476.5 L108 476.5 L108 474.8 L108.5 474.8 L109 469.6 L109.5 469.6 L109.5 466.2 L110 466.2 L110 464.5 L110.5 464.5 L110.5 461 L111 461 L111 459.3 L111.4 459.3 L111.4 455.9 L111.9 455.9 L111.9 454.2 L112.4 454.2 L112.4 452.4 L112.9 452.4 L112.9 449 L113.4 449 L113.4 447.3 L113.9 447.3 L113.9 445.6 L114.4 445.6 L114.4 443.8 L114.9 443.8 L114.9 440.4 L115.4 440.4 L116.3 435.2 L116.8 435.2 L116.8 433.5 L117.3 433.5 L117.3 431.8 L117.8 431.8 L117.8 428.3 L118.3 428.3 L119.3 423.2 L119.8 423.2 L120.8 418 L121.2 418 L121.2 416.3 L121.7 416.3 L122.2 412.9 L122.7 412.9 L123.7 407.7 L124.2 407.7 L125.2 402.5 L126.1 402.5 L126.6 399.1 L127.1 399.1 L127.1 397.4 L127.6 397.4 L128.1 393.9 L128.6 393.9 L128.6 392.2 L129.6 392.2 L130.5 387 L131 387 L131 385.3 L132 385.3 L133 380.2 L134 380.2 L135 375 L135.9 375 L135.9 373.3 L136.9 373.3 L137.4 369.8 L138.4 369.8 L138.9 366.4 L139.9 366.4 L139.9 364.7 L140.8 364.7 L141.3 361.2 L142.3 361.2 L142.3 359.5 L143.3 359.5 L143.8 356.1 L144.8 356.1 L144.8 354.3 L145.7 354.3 L145.7 352.6 L146.2 352.6 L146.2 350.9 L147.2 350.9 L147.7 347.5 L148.7 347.5 L148.7 345.7 L149.2 345.7 L149.2 344 L150.1 344 L150.6 340.6 L151.6 340.6 L152.6 335.4 L153.6 335.4 L154.1 332 L155 332 L156 326.8 L157 326.8 L157.5 323.4 L158.5 323.4 L158.5 321.6 L159.5 321.6 L159.9 318.2 L160.9 318.2 L160.9 316.5 L161.9 316.5 L162.4 313 L163.4 313 L163.4 311.3 L164.8 311.3 L164.8 309.6 L165.8 309.6 L165.8 307.9 L166.8 307.9 L166.8 306.2 L167.8 306.2 L167.8 304.4 L169.2 304.4 L169.2 302.7 L170.7 302.7 L170.7 301 L172.2 301 L172.2 299.3 L173.7 299.3 L173.7 297.5 L175.1 297.5 L175.1 295.8 L176.6 295.8 L176.6 294.1 L178.6 294.1 L178.6 292.4 L179.5 292.4 L179.5 290.7 L181 290.7 L181 288.9 L182 288.9 L182 287.2 L183 287.2 L183 285.5 L184.9 285.5 L184.9 283.8 L186.4 283.8 L186.4 282.1 L187.4 282.1 L187.4 280.3 L188.8 280.3 L188.8 278.6 L190.3 278.6 L190.3 276.9 L191.3 276.9 L191.3 275.2 L192.3 275.2 L192.3 273.5 L194.7 273.5 L194.7 271.7 L196.2 271.7 L196.2 270 L197.2 270 L197.2 268.3 L198.6 268.3 L198.6 266.6 L200.1 266.6 L200.1 264.9 L201.1 264.9 L201.1 263.1 L202.6 263.1 L202.6 261.4 L204.5 261.4 L204.5 259.7 L205.5 259.7 L205.5 258 L206.5 258 L206.5 256.2 L207.9 256.2 L207.9 254.5 L208.9 254.5 L208.9 252.8 L210.4 252.8 L210.9 249.4 L212.8 249.4 L212.8 247.6 L213.8 247.6 L214.3 244.2 L215.8 244.2 L216.3 240.8 L216.8 240.8 L216.8 239 L217.3 239 L217.3 237.3 L218.2 237.3 L218.2 235.6 L219.2 235.6 L219.2 233.9 L219.7 233.9 L219.7 232.2 L220.7 232.2 L220.7 230.4 L222.2 230.4 L222.2 228.7 L223.6 228.7 L223.6 227 L224.6 227 L224.6 225.3 L225.6 225.3 L225.6 223.5 L228.5 223.5 L228.5 221.8 L230.5 221.8 L230.5 220.1 L233.4 220.1 L233.9 216.7 L235.9 216.7 L235.9 214.9 L237.8 214.9 L238.3 211.5 L240.3 211.5 L240.3 209.8 L241.7 209.8 L241.7 208.1 L243.7 208.1 L243.7 206.3 L245.7 206.3 L245.7 204.6 L247.6 204.6 L247.6 202.9 L249.6 202.9 L249.6 201.2 L251.1 201.2 L251.1 199.5 L253 199.5 L253 197.7 L255 197.7 L255 196 L256.9 196 L256.9 194.3 L259.4 194.3 L259.4 192.6 L260.9 192.6 L260.9 190.8 L262.8 190.8 L262.8 189.1 L265.3 189.1 L265.3 187.4 L267.2 187.4 L267.2 185.7 L268.7 185.7 L268.7 184 L270.7 184 L270.7 182.2 L273.1 182.2 L273.1 180.5 L276.5 180.5 L276.5 178.8 L279 178.8 L279 177.1 L280.4 177.1 L280.4 175.4 L281.9 175.4 L281.9 173.6 L283.9 173.6 L283.9 171.9 L285.3 171.9 L285.3 170.2 L286.3 170.2 L286.3 168.5 L287.8 168.5 L287.8 166.8 L291.2 166.8 L291.2 165 L295.1 165 L295.1 163.3 L299.1 163.3 L299.1 161.6 L302 161.6 L302 159.9 L305.4 159.9 L305.4 158.1 L312.3 158.1 L312.3 156.4 L314.3 156.4 L314.3 154.7 L317.2 154.7 L317.2 153 L318.7 153 L318.7 151.3 L319.6 151.3 L319.6 149.5 L322.1 149.5 L322.1 147.8 L323.1 147.8 L323.1 146.1 L328.9 146.1 L328.9 144.4 L333.8 144.4 L333.8 142.7 L335.3 142.7 L335.3 140.9 L336.8 140.9 L336.8 139.2 L339.7 139.2 L339.7 137.5 L342.2 137.5 L342.2 135.8 L343.6 135.8 L343.6 134.1 L347.1 134.1 L347.1 132.3 L350 132.3 L350 130.6 L352.9 130.6 L352.9 128.9 L354.9 128.9 L354.9 127.2 L360.3 127.2 L360.3 125.4 L361.8 125.4 L361.8 123.7 L375.5 123.7 L375.5 122 L377.4 122 L377.4 120.3 L380.9 120.3 L380.9 118.6 L385.8 118.6 L385.8 116.8 L389.2 116.8 L389.2 115.1 L391.6 115.1 L391.6 113.4 L393.6 113.4 L393.6 111.7 L396.1 111.7 L396.1 110 L401 110 L401 108.2 L407.8 108.2 L407.8 106.5 L418.1 106.5 L418.1 104.8 L426.9 104.8 L426.9 103.1 L432.3 103.1 L432.3 101.4 L437.2 101.4 L437.2 99.6 L440.1 99.6 L440.1 97.9 L442.1 97.9 L442.1 96.2 L444.6 96.2 L444.6 94.5 L447 94.5 L447 92.8 L449 92.8 L449 91 L452.9 91 L452.9 89.3 L458.3 89.3 L458.3 87.6 L463.2 87.6 L463.2 85.9 L466.1 85.9 L466.1 84.1 L469 84.1 L469 82.4 L471.5 82.4 L471.5 80.7 L473 80.7 L473 79 L478.4 79 L478.4 77.3 L491.6 77.3 L491.6 75.5 L509.2 75.5 L509.2 73.8 L527.3 73.8 L527.3 72.1 L532.2 72.1 L532.2 70.4 L535.2 70.4 L535.2 68.7 L551.3 68.7 L551.3 66.9 L552.8 66.9 L552.8 65.2 L560.2 65.2 L560.2 63.5 L563.6 63.5 L563.6 61.8 L568.5 61.8 L568.5 60.1 L571.9 60.1 L571.9 58.3 L586.1 58.3 L586.1 56.6 L588.6 56.6 L588.6 54.9 L593 54.9 L593 53.2 L604.3 53.2 L604.3 51.4 L606.7 51.4 L606.7 49.7 L631.2 49.7 L631.2 48 L654.2 48 L654.2 46.3 L676.3 46.3 L676.3 44.6 L689 44.6 L689 42.8 L700.3 42.8 L700.3 41.1 L757.6 41.1 L757.6 39.4 L838.9 39.4" fill="none" stroke="#0a850a" stroke-width="3.3" stroke-linejoin="round" stroke-linecap="square"/>
<path d="M89.6 727.8 L90.4 666.9 L91.5 634.9 L93.1 610.6 L100.7 514.1 L102.7 495.1 L106.4 466.7 L110.9 446.3 L113.8 429.9 L120.9 402.3 L121.6 401.9 L124.8 390.6 L127.5 384.6 L130.4 374.2 L135.3 363 L136.3 359.4 L140.5 351.6 L142.6 346.5 L146.9 340.2 L148.8 334.8 L152.4 326.9 L154.5 319.9 L157.4 313.2 L159.5 310.5 L160.6 309.8 L165.3 299.7 L166.9 299.1 L167.2 297.5 L168.4 295.9 L169 296.3 L172.7 290.6 L174.3 286.1 L175.8 284 L176.4 284.3 L178.2 283.1 L179 283.3 L180 281.7 L180.5 282.1 L181.9 278 L182.1 279.2 L183.7 277.8 L187.4 273.1 L189.2 268.2 L189.7 268.7 L192.9 261.9 L194.3 262.3 L195.9 258.3 L200.3 253.1 L202.1 251.1 L202.1 251.8 L204 249.9 L205.8 249.4 L206.6 248.7 L208.1 245.7 L209.5 245.3 L209.5 246.1 L210.9 244.3 L211.3 245.1 L214.8 238.1 L216.8 231.8 L217 232.6 L218.7 230.2 L220.4 226.6 L220.5 227.9 L223.5 222.6 L226.1 221 L227 220.9 L228.9 216.6 L230.8 214.6 L231.6 214.5 L233.4 211.9 L234.5 212.1 L235.3 210.4 L236.2 210.9 L237.1 208.6 L238 209.9 L239.7 209.5 L240.8 207.8 L241.4 205.1 L242.6 204.3 L243.1 201.7 L244.5 200.6 L244.8 198.8 L246.3 197.1 L246.4 198.2 L248.1 197.6 L249.8 193.9 L250 194.6 L251.5 193.4 L253.3 189.7 L255 189.4 L255.5 190.3 L257.3 188.5 L258.6 188.8 L260.5 186.1 L261 183.6 L262.9 182.8 L264.4 180.8 L264.7 181.3 L268.4 178.5 L270.2 178.2 L270.4 177.4 L272.1 175.8 L272.4 176 L273.9 174.9 L275.7 172.8 L278.3 174 L279.4 173.4 L280.2 171.8 L284.9 165.9 L285.9 167.4 L286.8 167 L288.6 165.1 L290.5 164.5 L292.3 161.3 L294.1 161 L294.3 162 L296 161.3 L296.5 160.1 L298.7 158.9 L301.5 155.9 L303.1 155.6 L303.3 156.1 L305.2 156.5 L305.3 156 L307 155.8 L307.5 154.7 L308.9 154.1 L311.9 150.7 L314.1 150.9 L314.4 150 L316.2 149.9 L316.3 148.9 L318.5 146.7 L319.9 146.9 L323.6 144.9 L325 145.2 L325.4 143.8 L327.3 141.3 L329.1 140.3 L329.2 141.5 L331 139.5 L331.2 140.3 L333.2 140.3 L334.6 139.3 L338.3 132.2 L340.2 131.2 L343.8 132.4 L347.5 128.6 L347.5 127.4 L349.4 125.9 L349.6 126.9 L351.8 123.5 L353 122.7 L354 123.2 L356.3 122.3 L356.7 123.5 L358.6 123.4 L358.6 124.5 L360.4 122.2 L361 122.4 L365.8 119.4 L365.9 121.4 L367.8 120.3 L370.6 119.9 L371.4 120.2 L373 118.2 L373.3 118.4 L375.1 117.7 L375.4 118.8 L377 119.3 L378.8 118.7 L380.1 117.8 L382.5 114.2 L384.3 112.6 L386.2 111.6 L388 111.4 L389.8 110 L390.9 110.7 L392.8 109.7 L396.9 105.1 L397.2 105.2 L399 103.7 L399.2 104.2 L400.9 103.4 L401.6 104.2 L404.1 104.3 L404.6 104.8 L406.4 103.8 L408.2 103.5 L411.9 100.8 L416.5 100.4 L419 102.3 L419.3 103.3 L421.1 102.5 L421.4 103.2 L423.9 102.3 L426.7 102.1 L428.5 101 L428.7 100 L430.3 99.8 L433.3 97.7 L435.6 97.9 L435.9 96.9 L437.7 95.6 L437.8 95.9 L439.5 94.2 L442.2 94.1 L444.4 93.1 L446.5 91.6 L450.6 86.8 L450.8 87.2 L452.9 85.8 L454.3 85.9 L456.1 86.8 L464 82.3 L465.3 82.3 L468.7 80.2 L470.8 80.1 L471 79.1 L473.4 77.6 L475.8 77 L476.3 75.9 L478.2 75.4 L478.2 75.8 L480 75.9 L480.7 75.1 L481.9 74.6 L490.5 75.4 L492.9 73.9 L492.9 73.4 L498.4 72.7 L500.3 71.8 L502.1 72.5 L503.9 72.3 L505.3 72.8 L505.8 73.5 L509.5 72.7 L511.3 70.9 L515 70.3 L515.2 69.8 L516.8 69.9 L517.7 71.1 L520.2 70.3 L522.6 71 L524.2 70.3 L526 70.7 L532.4 68.2 L535.2 65.8 L538.9 65.2 L542.2 66.2 L544.4 64.9 L544.6 64 L546.3 63.6 L547 64.3 L549.4 64.7 L551.8 63.9 L555.5 61.4 L556.6 61.1 L557.3 62.5 L559.2 61.4 L562.8 60.8 L563.6 59.3 L564.7 59.1 L566.5 57.2 L568.3 56.7 L568.4 57.1 L572 55.7 L573.9 56.1 L575.4 55 L579.4 53.6 L581.2 53.6 L582.7 52.7 L584.9 52.6 L587.5 51.4 L588.6 51.9 L596 51.3 L599.6 49.7 L601.5 49.5 L602.2 48.6 L603.3 48.2 L605.2 48.3 L607 47.5 L607.2 47 L610.7 47.4 L612.1 46.8 L614.6 47.4 L619.9 46.9 L623.6 47.7 L624.5 47.6 L625.4 46.5 L627.3 45.9 L629.1 46 L629.5 45.2 L630.9 45.2 L632 45.8 L632.8 45.2 L634.5 45.3 L636.5 46 L638.3 45.7 L639.5 46.2 L642 44.7 L643.8 45.4 L647 45.1 L647.5 46.1 L649.5 45.2 L652 45.4 L654.9 44.5 L656.7 44.9 L657 44.4 L658.5 44.2 L662 44.6 L662.2 44 L667 45.2 L671.4 44.6 L673.3 42.8 L674.3 43 L676.7 41.8 L679 41.7 L681.5 40.5 L684.3 41.2 L686.1 41.1 L686.5 41.9 L694 41.1 L696.5 40.4 L702.7 41.2 L709 40 L711.9 41.1 L719 40.4 L726.5 40.7 L726.6 41 L730.3 40.4 L731.5 40.6 L734 39.9 L735.8 40 L736.5 39.6 L741.4 39.5 L743.2 40.2 L744 39.8 L746.4 40 L748.7 39.4 L838.9 39.4 L838.9 39.4 L820.5 39.6 L813.1 40.1 L805.8 39.8 L796.6 40.5 L791 39.9 L783.7 40.1 L781.8 40.7 L774.5 40.5 L769 40.9 L768.9 41.2 L765.3 41.9 L761.4 42.2 L753.9 42.2 L751.4 41.6 L746.9 41.9 L744 42.7 L741.4 42.8 L739 43.7 L734 44.3 L728.5 43.7 L726.6 43.1 L721.1 43.3 L719.3 43.8 L719 44.4 L715.6 44.4 L713.8 45.1 L711.9 44.7 L710.1 45.1 L702.7 44.9 L701.5 44.1 L695.3 44.9 L691.7 44.9 L691.5 44.6 L689 45 L686.5 44.2 L679 45 L675.1 47.7 L674.3 47.1 L673.3 47.8 L669.5 47.8 L664.5 49.4 L664.1 49.9 L657 49 L656.7 49.5 L653 50.1 L647 49.7 L645.7 50.2 L644.5 49.9 L642 50.8 L638.3 51.4 L636.5 50.8 L632.8 51.1 L629.5 52.1 L623.6 51.1 L619.6 51.3 L617.1 51.9 L612.1 54.6 L610.7 54.7 L608.9 53.9 L607.2 54.3 L604.7 53.1 L602.2 54.7 L599.8 54.7 L599.6 55.8 L597.8 56.4 L597.3 55.9 L596 55.9 L594.1 57.2 L590.4 57.1 L590 57.5 L587.5 56.6 L585.1 57.6 L584.9 57.3 L580.3 59.9 L579.4 59.5 L577.8 60.7 L575.4 61.4 L573.9 61.3 L573 61.9 L570.7 61.9 L570.2 61.5 L568.4 62 L562.8 64.1 L561 66 L556.6 68 L555.5 67.6 L554.2 68.8 L551.8 69.8 L549.4 70.4 L548.1 69.9 L544.6 71.2 L544.4 70.4 L542.6 71.9 L538.9 72.7 L537.3 73.6 L537.1 73.3 L535.2 73.7 L534.9 73.1 L531.6 74.4 L530 74.1 L527.5 74.9 L525.1 76.4 L522.6 76.3 L522.4 77.4 L520.5 77.7 L520.2 77.2 L518.7 77.1 L516.8 78.2 L515.2 77.4 L515 78 L513.2 77.3 L507.6 79.5 L505.8 79.3 L502.8 80.7 L502.1 80.2 L500.3 80.8 L498.4 80.2 L497.9 79.1 L496.6 78.4 L492.9 79.5 L490.5 81.4 L489.2 81.3 L485.5 83.5 L483.1 83 L478.2 83.3 L476.3 85.3 L474.5 84.8 L471 86.5 L470.8 87.3 L469 87.5 L467.1 86.6 L464 86.8 L461.7 88.8 L461.6 90.2 L459.8 91.7 L459.4 91.1 L457.9 92.1 L457.2 91.3 L456.1 91 L455.1 92 L454.3 91.8 L452.9 93.3 L452.4 92.9 L450.8 94.8 L450.6 95.8 L446.9 97.2 L446.5 99 L445.1 99.1 L444.4 98.5 L443.2 99 L442.2 100.5 L441.4 100.9 L440.1 100.4 L437.7 103 L435.9 103.3 L434 105.9 L433.3 105.8 L428.7 108.7 L428.5 107.4 L426.7 108.4 L426.3 107.6 L424.8 107 L419 111.6 L416.5 111.4 L415.6 110.5 L414 111.3 L413.8 110.2 L411.5 109.2 L406.6 109.6 L406.4 110.5 L402.7 112.3 L401.6 111.9 L400.9 113.6 L397.2 115.3 L396.9 114.3 L395.4 114.6 L394.8 113.6 L390.9 116.6 L389.8 118.6 L388.9 118.2 L386.9 120.7 L386.2 120.2 L384.3 121.7 L382.5 124 L380.6 123.9 L378.8 126.1 L375.4 124.9 L373.3 126.2 L373 125.2 L370.6 127.1 L368.2 130.1 L365.9 131.3 L365.8 131 L364.1 131.5 L363.4 131 L362.2 131.5 L358.6 130.6 L358.6 131.5 L356.7 132.8 L356.3 132.1 L354 131.9 L353 132.9 L351.8 132.6 L349.4 135.8 L347.5 137.3 L347.5 138.7 L345.7 139.4 L343.8 138.6 L342 141.2 L341.3 140.6 L339.3 143.2 L338.3 145.9 L333.2 149.8 L332.8 149.4 L331 151 L329.2 151.4 L329.1 150 L327.3 151.3 L327.1 152.4 L325.4 151.4 L322.8 155.4 L321.8 156.1 L320.7 155.7 L319.9 156.8 L318.5 157.1 L318.1 156.3 L316.2 157 L310.7 161.7 L309.7 162.2 L308.9 162 L305.3 164.6 L305.2 163.7 L303.3 165.1 L303.1 166.2 L301.5 166.4 L300.9 165.4 L299.7 165.7 L298.7 166.7 L297.8 166.1 L296 167.1 L294.3 169.4 L292.3 169.1 L290.5 171.3 L289.9 170.8 L288.6 171.2 L287.8 171.8 L286.8 174.1 L284.9 175.1 L282.1 180.1 L281.3 179.6 L280.2 181.7 L279.4 182.2 L278.3 181.8 L277.6 184 L275.7 187 L272.4 189.6 L270.4 189.1 L270.2 188.6 L268.4 188.9 L268.4 189.8 L266.5 190.2 L266.4 191.8 L264.4 192.4 L262.9 194.3 L262.4 193.5 L260.5 195.4 L258.6 200 L257.3 200.8 L256.8 202.1 L255.5 202.7 L255 201.6 L253.3 202.9 L251.5 206.3 L250 207.6 L249.8 209.4 L248.1 211.4 L246.4 211.7 L246.3 209.3 L244.5 212.8 L243.1 213.7 L242.6 212.3 L241.4 213.9 L240.8 217 L239.7 217.8 L238.9 217.3 L236.2 222.4 L235.3 221.7 L230.8 228.3 L229.7 231 L227.9 232.7 L227 232.6 L226.1 230.8 L224.2 230.6 L222.4 233.9 L220.5 241.4 L219.2 243.8 L218.7 243.4 L218.1 245.2 L217 245.6 L216.8 245.2 L214.8 251.8 L213.6 252.9 L213.2 252.3 L211.3 255.4 L210.9 254.7 L209.5 255.4 L205.1 267.1 L204 268 L202.1 270.7 L202.1 268.9 L200.3 274.3 L199 276.7 L195.9 280.8 L192.9 281.7 L192.8 280 L191.3 280.4 L189.7 281.7 L186.7 288.9 L185.6 288.2 L183.7 293.3 L182.1 294.3 L180 300.3 L177.4 304.5 L176.4 305.2 L175.8 306.5 L174.5 306 L174.3 305.2 L169.8 312.9 L168.4 312.2 L167.2 313.7 L166.9 315.3 L165.3 317.4 L163 324.5 L161.7 325.5 L161.6 324.7 L158.4 330.9 L150.6 353.9 L149.8 354.8 L143.7 369.9 L141.6 372.9 L139.6 376.9 L137.7 382.8 L134 390.7 L127.5 410.8 L123 426.7 L120.2 432.8 L117 447.9 L115.6 451.1 L112.5 468.1 L109.5 479.1 L100.4 538.1 L94.9 601 L92.8 620.8 L91.5 638.6 L90.4 668.6 L89.6 727.8 Z" fill="#0a850a" fill-opacity="0.2" stroke="#0a850a" stroke-opacity="0.2" stroke-width="2" stroke-linejoin="round"/>
<path d="M89.6 727.8 L91.1 672.7 L92.6 641.8 L101.3 543.7 L102 540.2 L102.8 529.9 L104.6 517.8 L105.1 517.8 L105.1 514.4 L105.6 514.4 L105.6 511 L106.1 511 L106.1 509.2 L106.5 509.2 L106.5 505.8 L107 505.8 L107 504.1 L107.5 504.1 L107.5 502.3 L108 502.3 L108 498.9 L108.5 498.9 L109 495.5 L109.5 495.5 L109.5 492 L110 492 L110 490.3 L110.5 490.3 L111 483.4 L111.4 483.4 L111.4 481.7 L111.9 481.7 L111.9 478.3 L112.4 478.3 L113.4 467.9 L113.9 467.9 L113.9 464.5 L114.4 464.5 L114.4 462.8 L114.9 462.8 L114.9 459.3 L115.4 459.3 L115.4 455.9 L115.9 455.9 L115.9 454.2 L116.3 454.2 L116.3 450.7 L116.8 450.7 L117.8 445.6 L118.3 445.6 L118.3 443.8 L118.8 443.8 L118.8 440.4 L119.3 440.4 L119.3 438.7 L119.8 438.7 L119.8 437 L120.3 437 L120.8 433.5 L121.2 433.5 L122.2 428.3 L122.7 428.3 L122.7 426.6 L123.7 426.6 L124.7 421.5 L125.2 421.5 L125.2 419.7 L125.7 419.7 L125.7 416.3 L126.1 416.3 L126.1 414.6 L126.6 414.6 L126.6 412.9 L127.1 412.9 L128.1 407.7 L128.6 407.7 L129.1 404.3 L129.6 404.3 L129.6 402.5 L130.1 402.5 L130.1 400.8 L130.5 400.8 L130.5 397.4 L131 397.4 L132 392.2 L132.5 392.2 L132.5 390.5 L133 390.5 L133 388.8 L133.5 388.8 L134.5 383.6 L135 383.6 L135 381.9 L135.9 381.9 L136.9 376.7 L137.4 376.7 L137.4 375 L138.4 375 L139.4 369.8 L140.3 369.8 L140.8 366.4 L141.8 366.4 L142.3 362.9 L143.3 362.9 L143.3 361.2 L143.8 361.2 L143.8 359.5 L144.8 359.5 L145.2 356.1 L146.2 356.1 L146.2 354.3 L147.2 354.3 L147.2 352.6 L147.7 352.6 L147.7 350.9 L148.7 350.9 L149.2 347.5 L150.1 347.5 L151.1 342.3 L152.1 342.3 L152.6 338.9 L153.6 338.9 L154.1 335.4 L155 335.4 L155.5 332 L156.5 332 L157 328.5 L158 328.5 L158.5 325.1 L159.5 325.1 L159.5 323.4 L160.4 323.4 L160.9 319.9 L161.9 319.9 L162.4 316.5 L163.4 316.5 L163.4 314.8 L164.4 314.8 L164.4 313 L165.3 313 L165.3 311.3 L166.3 311.3 L166.3 309.6 L167.3 309.6 L167.3 307.9 L168.8 307.9 L168.8 306.2 L169.7 306.2 L169.7 304.4 L170.7 304.4 L170.7 302.7 L172.2 302.7 L172.2 301 L173.2 301 L173.2 299.3 L174.6 299.3 L174.6 297.5 L175.6 297.5 L175.6 295.8 L177.1 295.8 L177.1 294.1 L178.6 294.1 L178.6 292.4 L179.5 292.4 L179.5 290.7 L180.5 290.7 L180.5 288.9 L182 288.9 L182 287.2 L183 287.2 L183 285.5 L184.4 285.5 L184.4 283.8 L185.9 283.8 L185.9 282.1 L186.9 282.1 L186.9 280.3 L187.9 280.3 L187.9 278.6 L188.8 278.6 L188.8 276.9 L189.8 276.9 L189.8 275.2 L191.3 275.2 L191.3 273.5 L192.8 273.5 L193.7 268.3 L194.7 268.3 L194.7 266.6 L195.7 266.6 L195.7 264.9 L196.7 264.9 L196.7 263.1 L197.2 263.1 L197.2 261.4 L198.2 261.4 L198.6 258 L199.6 258 L199.6 256.2 L200.6 256.2 L200.6 254.5 L201.6 254.5 L201.6 252.8 L202.6 252.8 L202.6 251.1 L203.5 251.1 L203.5 249.4 L204.5 249.4 L204.5 247.6 L206 247.6 L206 245.9 L207 245.9 L207 244.2 L207.9 244.2 L207.9 242.5 L209.4 242.5 L209.4 240.8 L210.4 240.8 L210.4 239 L211.9 239 L211.9 237.3 L212.8 237.3 L212.8 235.6 L213.8 235.6 L213.8 233.9 L214.8 233.9 L214.8 232.2 L216.3 232.2 L216.8 228.7 L218.2 228.7 L218.7 225.3 L219.7 225.3 L219.7 223.5 L220.7 223.5 L221.7 218.4 L222.6 218.4 L222.6 216.7 L223.6 216.7 L223.6 214.9 L225.6 214.9 L225.6 213.2 L227.1 213.2 L227.1 211.5 L228.5 211.5 L228.5 209.8 L231.5 209.8 L231.5 208.1 L238.3 208.1 L238.3 206.3 L243.7 206.3 L243.7 204.6 L244.7 204.6 L244.7 202.9 L247.1 202.9 L247.1 201.2 L248.6 201.2 L248.6 199.5 L249.6 199.5 L250.1 196 L251.1 196 L251.1 194.3 L252 194.3 L253 189.1 L254 189.1 L254 187.4 L255.5 187.4 L255.5 185.7 L257.9 185.7 L257.9 184 L259.4 184 L259.4 182.2 L260.9 182.2 L260.9 180.5 L264.3 180.5 L264.3 178.8 L267.2 178.8 L267.2 177.1 L268.7 177.1 L268.7 175.4 L271.1 175.4 L271.1 173.6 L273.1 173.6 L273.1 171.9 L274.6 171.9 L274.6 170.2 L276 170.2 L276 168.5 L279 168.5 L279.5 165 L281.4 165 L281.4 163.3 L282.9 163.3 L282.9 161.6 L284.4 161.6 L284.4 159.9 L285.8 159.9 L285.8 158.1 L289.3 158.1 L289.3 156.4 L291.2 156.4 L291.2 154.7 L294.2 154.7 L294.2 153 L297.6 153 L297.6 151.3 L301 151.3 L301 149.5 L304.9 149.5 L304.9 147.8 L307.9 147.8 L307.9 146.1 L311.3 146.1 L311.3 144.4 L313.8 144.4 L313.8 142.7 L316.2 142.7 L316.2 140.9 L320.6 140.9 L320.6 139.2 L322.6 139.2 L322.6 137.5 L325 137.5 L325 135.8 L328.5 135.8 L328.5 134.1 L330.4 134.1 L330.4 132.3 L331.9 132.3 L331.9 130.6 L335.3 130.6 L335.3 128.9 L336.8 128.9 L336.8 127.2 L338.3 127.2 L338.3 125.4 L340.2 125.4 L340.2 123.7 L345.6 123.7 L345.6 122 L351 122 L351 120.3 L353.9 120.3 L353.9 118.6 L362.3 118.6 L362.3 116.8 L365.2 116.8 L365.2 115.1 L371.1 115.1 L371.1 113.4 L401.4 113.4 L401.4 111.7 L406.3 111.7 L406.3 110 L408.8 110 L408.8 108.2 L411.2 108.2 L411.7 104.8 L413.2 104.8 L413.2 103.1 L417.1 103.1 L417.1 101.4 L428.9 101.4 L428.9 99.6 L432.3 99.6 L432.3 97.9 L434.8 97.9 L434.8 96.2 L436.7 96.2 L436.7 94.5 L439.7 94.5 L439.7 92.8 L451.9 92.8 L451.9 91 L462.2 91 L462.2 89.3 L469.5 89.3 L469.5 87.6 L473.9 87.6 L473.9 85.9 L480.8 85.9 L480.8 84.1 L498.9 84.1 L498.9 82.4 L506.8 82.4 L506.8 80.7 L512.6 80.7 L512.6 79 L517.5 79 L517.5 77.3 L521.5 77.3 L521.5 75.5 L527.8 75.5 L527.8 73.8 L534.2 73.8 L534.2 72.1 L537.6 72.1 L537.6 70.4 L542.5 70.4 L542.5 68.7 L546.4 68.7 L546.4 66.9 L548.9 66.9 L548.9 65.2 L552.8 65.2 L552.8 63.5 L586.1 63.5 L586.1 61.8 L589.6 61.8 L589.6 60.1 L606.7 60.1 L606.7 58.3 L612.1 58.3 L612.1 56.6 L616 56.6 L616 54.9 L623.4 54.9 L623.4 53.2 L653.2 53.2 L653.2 51.4 L722.8 51.4 L722.8 49.7 L728.7 49.7 L728.7 48 L731.6 48 L731.6 46.3 L762.5 46.3 L762.5 44.6 L767.9 44.6 L767.9 42.8 L773.3 42.8 L773.3 41.1 L778.2 41.1 L778.2 39.4 L838.9 39.4" fill="none" stroke="#cc0404" stroke-width="3.3" stroke-linejoin="round" stroke-linecap="square"/>
<path d="M89.6 727.8 L91.1 671.3 L92.6 639.5 L94.3 615.3 L102.5 518.8 L105.7 493.9 L106.2 491.6 L106.6 491.8 L108.2 487.3 L114.9 443.6 L119.3 425 L119.8 424.7 L121.9 418.4 L124 408.4 L130.4 387.2 L133 375.6 L134 374 L137.7 361.7 L143.2 349.1 L145.5 345.2 L149.5 336.5 L150.4 335.5 L152.3 329.9 L154.2 326.3 L154.3 327.5 L155.1 325.1 L156.1 324.3 L156.1 323.1 L158 317.9 L158 315.3 L159.8 309.8 L161.6 307.2 L162.2 307.3 L165.8 300 L167.1 299.1 L168.4 299.2 L169 297.7 L169.8 297.8 L170.8 296.1 L171.1 293.3 L172.7 288.7 L174.5 286.4 L175.4 285.9 L176.4 286.1 L176.9 287.8 L178.2 287.4 L178.4 285.9 L179.8 284 L180 282.6 L182.7 281.2 L185.5 277.6 L185.6 276.7 L186.9 274.6 L187.4 271.5 L189.2 267.7 L189.5 268.5 L190.8 265.2 L192.2 264.8 L192.9 263.5 L193.5 264 L194.8 260.1 L194.8 261.3 L196.6 257.8 L198.4 252.9 L199.9 253.8 L200.3 253.6 L201.2 250.4 L203.8 247.7 L204 244.8 L205 242.7 L205.8 242.6 L207.6 239.8 L209.5 238.7 L211.5 235.5 L216.5 221.6 L218.7 219.7 L218.7 221.5 L219.6 220 L222.4 213.9 L224.2 207.5 L225.6 205.9 L226.1 204.7 L227.6 205.3 L229.7 204.7 L229.7 205.5 L231.6 204.3 L233.4 201.9 L234.4 203.9 L235.3 203.7 L237.1 201.6 L239 201.9 L242.6 198 L243.5 199 L244.5 198.3 L245.5 196.9 L246.3 196.7 L247.2 194.8 L248.1 194.7 L248.6 193.5 L249.9 192.4 L250 193.5 L251 190.6 L251.8 190.1 L253.4 187.1 L257.5 177.5 L259.2 176 L259.4 176.6 L261 176 L261.4 175.2 L262.9 175.7 L264.7 174.6 L266.5 172.5 L267.9 172.9 L268.4 170.7 L270 170.4 L273.9 167.7 L273.9 169.7 L275.7 166.4 L277.2 166 L278.8 164 L279.4 161.7 L281.3 158.7 L282 155.4 L283.1 154.1 L288.6 149.8 L290.5 149.9 L291.7 148.7 L296 147.8 L296 148.7 L301.5 142.4 L302.7 141.9 L303.3 142.7 L304.9 143.1 L305.2 144.1 L307.1 143.7 L309.3 142.2 L310.7 140.3 L311.5 140.6 L313.7 139.5 L319.9 134.4 L320.3 134.6 L324.7 132.1 L327.3 131.6 L329.1 129.4 L331 129.1 L334.6 127.3 L335.1 127.6 L339.3 124.7 L340.2 123.4 L343.6 120.6 L345.8 120.5 L348.1 118.1 L349.4 118.6 L351.2 116.9 L353 116.6 L354.9 117.4 L354.9 116.2 L356.7 115.7 L357.2 114.6 L359.6 113.6 L360.4 111.9 L364.4 112.7 L365.9 114.1 L367.8 113.2 L369.3 113.2 L369.6 111.2 L375.1 108.6 L376.7 109.5 L377 109.1 L378.8 108.4 L379.2 108.9 L384.2 108.5 L384.3 109.3 L386.7 110.1 L388 109.9 L389.1 111 L393.5 109.5 L394.1 110.7 L395.4 109.6 L396.6 110.1 L397.2 109.2 L399.1 109.4 L400.9 107.8 L404.1 108.7 L404.6 107.3 L406.4 106.8 L410.1 104.5 L410.4 105.7 L414.9 100.1 L415.6 98.1 L421.1 95.8 L423 95.7 L426.7 94.5 L426.9 95.5 L429.3 96.5 L431.7 95.4 L434 93.2 L434 92.3 L435.9 91.2 L436.2 91.8 L438.5 89.5 L439.5 89.6 L440.8 88.4 L443.1 87.4 L447.9 89.2 L450.3 87.8 L450.6 87.2 L456.1 87 L457.8 86.4 L457.9 85.8 L461.6 86.4 L463.5 87.2 L465.3 86.9 L470 85.7 L472.4 82.9 L472.7 83.3 L474.5 82.2 L478.2 81.5 L479.7 80 L483.7 79.4 L484.6 79.3 L485.5 80.4 L487.1 80 L487.4 80.8 L489.6 79.5 L491.1 80.3 L492.1 80 L492.9 81.5 L494.6 80.8 L496.6 81.2 L497.1 80 L500.3 78.3 L502 78.3 L502.1 79 L503.9 79.3 L504.5 78.8 L506.9 78.4 L509.3 76.8 L509.5 76.2 L511.7 75.2 L513.2 74.8 L516.5 75.2 L516.8 76.3 L518.7 75.9 L520.5 74.5 L521.3 74.8 L524.2 72.4 L526 72.4 L526 73.1 L527.9 71.5 L528.4 71.7 L529.7 70.8 L530.7 71.3 L533.1 70.4 L533.4 70.7 L535.4 70.3 L544.4 66.1 L546.8 63.7 L549.1 63.5 L550 62.5 L553.6 61.9 L554 61.1 L555.5 60.5 L556.5 61 L557.3 60.5 L559 60.8 L559.2 61.5 L561.5 62.2 L566.5 59.5 L569 59.4 L571.5 60 L572 60.9 L573.9 60.5 L574 60.1 L575.7 60.2 L577.6 59.1 L578.9 59.3 L579.4 60.1 L581.2 59.6 L583.1 60.5 L583.9 60 L584.9 60.3 L588.9 59.2 L590.4 59.9 L591.4 59.2 L593.8 59.4 L596 58.5 L596.3 59 L599.6 57.6 L601.2 57.7 L603.6 55.5 L605.2 55.6 L610.7 53.9 L610.7 53.5 L615.4 52.3 L616.2 51.3 L620.2 49.5 L621.7 49.3 L625.4 50.4 L629.1 50.3 L630.9 51.2 L632.8 50 L634.6 50.2 L635.2 50.6 L637.7 50.6 L638.3 51.3 L640.2 51.8 L645.2 51.7 L651.2 49.7 L652.7 50.2 L655.2 49.6 L657.7 50.7 L660.2 50.4 L660.4 51 L662.7 51.2 L664.1 50.8 L665.9 51.5 L669.6 50.1 L672.7 49.8 L675.1 50.2 L675.2 50.7 L677.7 51.9 L682.5 51.9 L685.2 51.5 L687.7 51.9 L689.8 51.3 L691.7 50 L692.7 50.4 L697.2 50 L697.7 50.5 L700.2 50.8 L702.7 50.5 L702.7 51.1 L706.4 50.8 L708.2 51.4 L712.7 50.3 L713.8 50.8 L717.7 50.4 L719.3 50.7 L720.1 49.9 L722.6 50.1 L728.5 48.7 L732.4 46.7 L737.3 46.4 L739.8 45.5 L743.2 45.4 L746.9 45.9 L749.7 45.3 L756.1 45.1 L761.6 43.7 L767 43.3 L770.8 41.8 L781.4 39.5 L786.4 39.9 L798.9 39.5 L803.9 40.2 L813.1 40.3 L838.9 39.4 L838.9 39.4 L815 41.2 L791 41.2 L785.5 42 L776.3 42.1 L772.6 43.4 L769.4 45.2 L759.7 47.1 L757.2 47.1 L750.6 48.8 L744.8 48.3 L743.2 48.4 L741.4 49.7 L739.5 50 L734 50.1 L732.4 50.7 L732.2 51.2 L730.3 51.2 L727.5 51.9 L725 51.8 L724.8 52.6 L721.1 54.1 L717.7 54.7 L711.9 54.5 L708.2 55.1 L706.4 54.6 L702.7 55 L702.7 54.2 L697.7 54.1 L687.7 55.7 L684.3 55.6 L680.6 54.6 L675.2 54.3 L675.1 54.7 L671.4 54.8 L669.6 55.7 L665.9 56.6 L662.7 56.6 L662.2 56.1 L660.4 56 L657.7 54.5 L653 55.5 L651.2 56.4 L647.7 56.7 L647.5 56.1 L642.7 55.3 L640.2 56.5 L640.1 56.9 L635.2 57 L634.6 56.2 L630.9 55.3 L630.2 54.6 L629.1 54.6 L625.2 56.9 L620.2 57.6 L617.8 57 L615.4 58.4 L613 58.5 L612.5 59.2 L610.7 59.7 L610.7 58.9 L607 59.5 L603.3 60.8 L601.2 62.6 L599.6 63.1 L598.8 64.3 L596 64.9 L593.8 65.3 L591.4 64.3 L590.4 63.5 L588.9 65.5 L586.8 65.4 L583.9 66.5 L583.1 65.4 L581.2 66.3 L578.9 65.8 L576.5 66.5 L574 66 L573.9 66.5 L572 66.8 L570.2 65.9 L568.4 66.3 L566.5 65.6 L564 66.5 L562.8 66.4 L561 67.6 L559 68 L557.3 68.2 L555.5 67.3 L554 67.6 L553.6 68.1 L551.8 67.9 L551.6 67.3 L550 67.9 L549.1 69.1 L548.1 68.6 L546.8 69 L546.3 70.1 L544.5 71.1 L542.6 71.1 L540.8 72.3 L538.9 72.7 L535.4 75.9 L535.2 75.3 L533.4 76.2 L533.1 77 L531.6 78.2 L528.4 79.1 L526 78.8 L526 78.2 L524.2 79 L523.7 78.3 L522.4 79.3 L518.7 79.8 L516.8 80.8 L516.5 80.4 L515 80.8 L513.2 82.7 L511.7 82.1 L509.3 83.2 L507.6 83 L504.5 85 L502.1 85.2 L502 85.8 L500.3 85.1 L496.6 87.2 L494.7 86.7 L494.6 87.2 L492.9 87.7 L492.1 86.9 L491.1 87.2 L489.2 88.8 L487.1 88.5 L485.5 89.2 L483.7 87.1 L482.2 86.8 L481.9 87.4 L480 87.2 L477.3 89.3 L476.3 89.6 L474.8 89.3 L474.5 90.3 L467.6 93.4 L467.1 92.4 L465.3 92.8 L462.7 94.3 L461.6 93.1 L459.8 93.8 L457.9 93.8 L457.8 92.8 L456.1 92.3 L455.3 93.6 L452.8 93.9 L452.4 93.2 L447.9 94.3 L446.9 94.1 L445.5 94.7 L445.1 94.4 L443.2 95.8 L443.1 95.1 L441.4 95.6 L439.5 97.1 L437.7 97.8 L435.9 100.3 L432.2 102.8 L430.3 101.5 L429.3 102 L426.9 102 L424.4 105.5 L415.6 108 L413 108.1 L411.6 110.2 L410.1 114.9 L408.2 116.7 L406.5 116.9 L406.4 116.5 L402.7 116 L401.6 116.6 L400.9 116.2 L399.1 117.1 L397.2 116.6 L396.6 117.1 L394.1 117 L389.8 115.5 L388 116.5 L386.7 116.8 L384.2 118.6 L379.2 119 L378.8 118.3 L377 118.2 L375.1 119.3 L374.3 119 L371.8 119.4 L371.4 118.6 L369.6 119.4 L369.3 118.6 L367.8 119.2 L366.8 118.9 L364.4 121.9 L364.1 121.2 L360.4 124.2 L359.6 123.9 L356.7 125.9 L354.9 126.3 L354.9 125.9 L353 127.1 L351.2 126.4 L349.4 128.2 L347.5 127.5 L345.8 127.5 L345.7 128.5 L343.8 127.6 L342 129.4 L341.4 129 L336.5 132.1 L333 138.8 L325.4 144 L323.6 142.4 L322.5 144.4 L321.8 144.9 L320.3 144.9 L319.9 143.4 L318.1 144 L318.1 144.7 L316.2 145.7 L315.9 144.9 L309.3 148.6 L308.9 149.8 L307.1 151.6 L305.2 152 L303.3 151.7 L301.5 152.6 L298.2 156.8 L297.8 156.3 L296 157.1 L296 158.4 L294.1 158.1 L293.9 157.6 L289.6 161.3 L288.6 163.4 L287.6 163.8 L286.8 163.5 L285.6 165.9 L284.9 165.9 L283.7 167.2 L281.3 171.5 L280.4 170.9 L277.6 173.6 L277.2 172.8 L275.7 175.8 L275.6 177.4 L273.9 178 L273.9 176.8 L272.1 180 L270.2 179.2 L268.4 183 L267.9 183.1 L266.5 182.3 L265.7 184 L261 186.8 L257.5 187.3 L257.3 186.9 L253.7 192.8 L252.2 196 L251 200.7 L248.1 206.3 L246.3 205.5 L245.5 206.7 L244.5 206.6 L236.7 210.8 L232 212.3 L227.9 216.4 L227.6 215.9 L224.2 218.6 L223.9 220.8 L222.6 222.4 L220.5 228.9 L219.6 228.7 L218.7 232.3 L216.5 234.2 L214 239.6 L211.5 243.3 L211.3 244.7 L210.2 246.5 L209.5 249.6 L207.6 254.1 L207.6 255.3 L205.8 254.4 L205 254.8 L204 257.1 L203.8 259.9 L202.5 261.6 L202.1 262.9 L200.3 265.7 L199.9 265.3 L198.6 265.7 L198.4 265.4 L197.3 268.4 L196.6 273.1 L196.1 272.9 L194.8 277.8 L194.8 277.1 L193.5 278 L192.2 278.2 L191.1 280 L190.8 279.4 L189.5 281.5 L189.2 284.4 L186.9 289.9 L185.6 291.4 L185.5 292.7 L184.1 293.1 L183.7 294 L182.7 294.3 L181.3 297.8 L180 299.5 L179.8 300.9 L178.4 302.9 L178.2 302.2 L175.4 303.5 L174 305.4 L172.7 308.7 L172.6 308.2 L169.8 312.6 L167.1 315.8 L165.8 319.5 L164.6 321 L162.2 326.5 L161.1 328 L157.1 339.6 L154.3 345.2 L148.8 360.9 L148.5 360.8 L147.5 362.6 L145.1 368 L141.5 377.5 L139.6 384.5 L137.8 388.9 L137.7 388 L133.7 399.4 L128.5 421.1 L126.6 426.4 L124 437.7 L122.6 441.5 L115.7 467.4 L109.6 507.8 L106.4 521.7 L102.2 548 L98.4 582.4 L92.9 641.2 L91.1 674.4 L89.6 727.8 Z" fill="#cc0404" fill-opacity="0.2" stroke="#cc0404" stroke-opacity="0.2" stroke-width="2" stroke-linejoin="round"/>
<path d="M89.6 727.8 L97.5 670.4 L100.3 653 L107.1 624.2 L112.8 605 L124 580 L134 555 L147.9 519.2 L163.8 487.4 L177.7 467.6 L189.6 445.7 L199.5 431.8 L213.4 415.9 L227.4 400 L239.6 382.9 L269.4 348.2 L314.5 315.8 L365.5 279.3 L389.3 262.4 L464.2 212.2 L539.2 161.9 L596.1 128.9 L838.9 39.4" fill="none" stroke="#804cb4" stroke-width="3.3" stroke-linejoin="round" stroke-linecap="square"/>
<path d="M89.6 727.8 L97.4 661.7 L100.3 640.8 L107.1 607 L112.8 587.3 L124 562.9 L147.8 502.7 L163.8 471 L167.7 466.3 L173.5 457.2 L174.9 456.3 L181.4 444 L185 438 L186.1 437 L189.6 429.7 L189.8 430.2 L192.7 422.8 L197 417.1 L198.5 416.9 L199.5 417.5 L200 418.5 L201.6 418.3 L204.9 413.6 L206.5 409.9 L208.2 407.6 L211.5 404.2 L214.8 399.7 L223 392.2 L227.9 383 L229.4 382.7 L230.8 380.5 L232.3 380.2 L235.2 377 L236.7 375 L238.1 370.9 L239.6 370 L239.6 369.3 L241.2 366.8 L242.8 365.8 L244.5 362.4 L246.1 361.8 L249.4 357.5 L251 356.4 L252.6 353.1 L254.3 353 L257.5 349 L259.2 347.8 L268.9 334 L269.4 333.6 L270.9 334.1 L274.9 331.2 L277 330.5 L281 327.2 L285.1 325.8 L289.1 320.7 L293.2 318.8 L295.2 315.5 L299.3 313 L301.3 313.3 L303.4 311.8 L307.4 310.3 L313.5 305.1 L315.5 302.1 L317.6 301.3 L319.6 298.8 L321.6 297.8 L323.7 295.8 L327.8 294 L329.8 291.9 L331.8 291.8 L333.9 289 L335.9 287.1 L342 284 L344 282 L348.1 282 L350.1 280.8 L352.2 278.3 L358.3 274.9 L362.4 270.2 L364.4 269.2 L370.5 264 L374.6 261.6 L376.7 259.4 L380.7 256.4 L384.8 254.9 L386.9 252.6 L389.3 251.1 L391 250.9 L395.1 247.6 L399.3 245.7 L403.5 241.3 L409.7 238.4 L411.8 236.3 L413.8 236.1 L415.9 234.1 L422.2 230 L424.2 229.5 L426.3 228.3 L428.4 228.2 L430.5 227 L438.8 219.1 L440.9 218.1 L442.9 216 L449.2 213.6 L453.3 211.1 L457.5 209.6 L464.2 205.1 L467.9 201.6 L480.4 194 L488.7 187.6 L501.1 180.2 L503.2 178.3 L509.5 175 L534.4 158 L540.7 155.1 L553.7 147.3 L558 145.8 L562.3 142.6 L566.7 140.7 L568.8 138.7 L571 137.4 L588.3 129.2 L594.8 125.1 L604.1 122.3 L618.2 115.5 L625.2 113 L634.6 111 L672.2 95.8 L683.9 92.8 L698 86.6 L716.8 81.2 L730.9 75.4 L742.6 72.1 L759.1 66 L773.2 61.9 L784.9 57.5 L838.9 39.4 L838.9 39.4 L749.7 74.1 L712.1 88.3 L700.4 93.3 L679.2 101.1 L674.5 102.3 L667.5 105.7 L665.1 106.3 L658.1 109.3 L644 113.7 L629.9 119.9 L625.2 121.2 L611.1 127.1 L608.8 127.5 L601.7 129.8 L594.8 133.1 L568.8 148.8 L549.3 159.2 L538.6 166.2 L530.2 172.5 L507.4 186.8 L499.1 193.6 L488.7 200.3 L476.2 209.8 L464.2 216.6 L455.4 224.7 L449.2 228.6 L442.9 231.9 L440.9 233.8 L432.5 239.2 L426.3 242.3 L420.1 246.6 L415.9 250.5 L407.6 256.6 L399.3 262.3 L395.1 264.5 L393.1 266.5 L389.3 268 L386.9 271 L378.7 278.2 L376.7 278.7 L368.5 284.3 L366.4 285.2 L364.4 287.7 L360.3 289.8 L354.2 295.4 L352.2 295.9 L346.1 300.7 L344 301.4 L340 304.4 L337.9 305.3 L329.8 314.4 L321.6 319.7 L319.6 321.5 L317.6 322.2 L314.5 324.9 L307.4 328.1 L305.4 330.3 L299.3 334.5 L295.2 338.5 L293.2 339 L291.2 340.4 L287.1 344.4 L285.1 344.5 L281 349.1 L279 349.7 L274.9 352.4 L272.9 354.6 L269.4 354.4 L268.9 355.7 L255.9 372.1 L251 379.2 L249.4 380 L246.1 385 L241.2 390.2 L239.6 392.9 L239.6 392.4 L238.1 393.7 L227.9 409.3 L227.4 409.3 L224.7 412.3 L223 414.8 L219.7 418.1 L216.4 422.8 L211.5 427.5 L203.3 436.7 L200 441.1 L195.6 448.4 L191.2 453.9 L187.3 461.4 L181.4 470.9 L177.7 479.1 L174.9 483.9 L167.7 492.5 L163.8 498.3 L147.8 530.4 L125 588.7 L112.1 618.5 L100.2 661.6 L97.1 678.6 L89.6 727.8 Z" fill="#804cb4" fill-opacity="0.2" stroke="#804cb4" stroke-opacity="0.2" stroke-width="2" stroke-linejoin="round"/>
<path d="M122.7 557.3 L123.6 537.1 L126 540.6 L364.4 239.2 L838.9 39.4" fill="none" stroke="#7a3226" stroke-width="3.3" stroke-linejoin="round" stroke-linecap="square"/>
<path d="M122.7 541 L123.6 525.9 L126 534.6 L128 533.2 L129.5 531.2 L160.6 492.5 L169.9 479.8 L180.8 466.3 L197.8 443.3 L204.1 436.1 L213.4 423.5 L222.7 413.4 L228.9 404.7 L232 399 L238.2 391.7 L241.3 388.8 L246 382 L249.1 379.2 L252.2 374.7 L255.3 371.4 L258.4 366.4 L266.2 356.7 L267.7 353.3 L273.9 344.6 L275.5 343.1 L277 342.9 L283.3 334.6 L286.4 329.4 L295.7 318.2 L297.2 315.3 L301.9 309.1 L305 303.7 L306.6 302.7 L311.2 296.1 L312.8 295.3 L320.5 286.7 L322.1 284.1 L328.3 277.6 L337.6 261.9 L342.3 256.3 L345.4 251.3 L346.9 250.2 L350 246.5 L354.7 242.2 L356.2 239.2 L359.3 235.7 L364 228.9 L373 226.9 L375.3 226.9 L389.2 218.8 L393.8 216.9 L396.1 216.7 L398.4 215.4 L400.7 215.4 L405.3 214.5 L409.9 211.7 L412.2 211.4 L416.8 207.9 L421.5 207.2 L433 204.6 L446.8 196.3 L451.4 195.2 L472.2 188.5 L486 181.9 L499.9 177.9 L518.3 168.9 L525.2 166.3 L529.9 165.2 L539.1 161.6 L541.4 160.1 L557.5 154.2 L571.4 147.8 L576 146.5 L589.8 139.8 L608.3 132.9 L615.2 129.5 L619.8 128.2 L638.2 119.8 L642.9 117.1 L656.7 113.2 L670.5 106.5 L684.4 101.2 L686.7 99.8 L700.5 95 L719 86.7 L730.5 82.6 L744.3 76.7 L755.9 72.7 L781.2 62.1 L838.9 39.4 L838.9 39.4 L762.8 73.5 L758.2 75.2 L746.6 80.8 L735.1 85.4 L725.9 90 L700.5 100 L684.4 108.4 L677.5 110.8 L668.2 115.1 L652.1 121.4 L638.2 128.1 L633.6 129.6 L617.5 136.9 L608.3 140.1 L585.2 150 L569.1 158.2 L566.8 158.6 L562.1 160.6 L559.8 161.1 L552.9 164.6 L534.5 172.2 L520.6 178.6 L509.1 182.6 L490.6 191.5 L488.3 192.1 L483.7 195 L481.4 195.6 L474.5 198.9 L469.9 200.1 L458.4 205.3 L451.4 210 L446.8 212.2 L444.5 212.4 L437.6 215.1 L430.7 219.7 L423.8 221.5 L409.9 228.3 L407.6 228.6 L405.3 230.2 L398.4 233.1 L393.8 235.8 L389.2 237.1 L379.9 243.2 L375.3 245 L370.7 245.8 L366.1 248 L364.4 249.4 L362.5 253.3 L359.3 257.1 L357.8 258.2 L356.2 260.5 L350 267.2 L342.3 278.1 L332.9 288.9 L325.2 298.9 L320.5 303.6 L317.4 308.5 L312.8 313.6 L311.2 316.9 L306.6 321.6 L303.4 326.2 L301.9 326.5 L295.7 333.4 L291 340.9 L284.8 347.8 L283.3 350.3 L281.7 351.5 L280.2 354.2 L275.5 360.2 L273.9 361.3 L272.4 363.8 L258.4 379.8 L255.3 384 L252.2 387 L249.1 393.1 L244.4 398.9 L241.3 402 L239.8 402.8 L230.5 416.2 L221.1 425.8 L214.9 433.7 L210.3 440.9 L205.6 446.8 L196.3 456.7 L188.5 466.8 L185.4 471.6 L169.9 489.8 L131.1 539 L128 543 L126 546.6 L125 546.3 L123.6 548.1 L122.7 574.1 Z" fill="#7a3226" fill-opacity="0.2" stroke="#7a3226" stroke-opacity="0.2" stroke-width="2" stroke-linejoin="round"/>
<path d="M89.6 727.8 L95.5 687.7 L98.4 674.2 L196 449.3 L201.2 440.4 L208 433.5 L400 281 L577.4 131.6 L838.9 39.4" fill="none" stroke="#e058b8" stroke-width="3.3" stroke-linejoin="round" stroke-linecap="square"/>
<path d="M89.6 727.8 L95.5 684.4 L98.4 670.2 L166.5 513 L182.4 477.2 L189.4 459.6 L196 445 L201.2 436.2 L208 429.2 L212.6 426.1 L224.4 416.3 L236.2 407.6 L246 398.9 L257.7 389.8 L261.6 386.1 L275.4 376.3 L283.2 369.2 L300.8 356.1 L312.6 346 L314.6 345.2 L320.4 340.2 L324.4 337.7 L326.3 335.7 L332.2 331.7 L345.9 319.6 L373.4 298.5 L381.2 291.2 L394.9 280.5 L396.9 278.4 L402.7 274.4 L416.1 263.2 L427.6 254.6 L433.3 248.7 L448.7 235.4 L475.5 213.6 L502.3 190.3 L506.1 187.7 L513.8 181 L517.6 177 L525.3 171.7 L540.6 159.2 L555.9 145.9 L565.5 137 L577.4 127.3 L581.6 125.6 L595.8 121.7 L598.1 120.5 L600.5 120 L612.3 115.5 L614.6 114.1 L628.8 110.5 L645.3 103.9 L654.8 101.2 L664.2 97.8 L671.3 94.5 L678.4 92.3 L685.5 90.9 L732.7 73.7 L749.2 69.3 L784.6 57.1 L838.9 39.4 L838.9 39.4 L775.2 63.7 L753.9 71.2 L749.2 73.6 L739.8 77.4 L704.3 89.2 L690.2 95.2 L676 99.6 L661.9 105.4 L659.5 105.7 L645.3 111.4 L638.2 113.3 L626.4 118.5 L607.6 124.9 L602.8 125.9 L598.1 127.7 L595.8 129.1 L593.4 129.5 L577.4 135.5 L559.7 150.1 L550.2 159.4 L538.7 167.9 L527.2 178.1 L521.4 182.5 L519.5 184.6 L508 193.9 L506.1 196 L492.7 206.2 L456.3 238.3 L435.3 254.8 L429.5 260.2 L416.1 271.1 L404.6 282.2 L396.9 287.5 L385.1 297.6 L379.3 301.2 L365.5 313 L334.2 336.6 L320.4 347.6 L318.5 348.6 L310.6 354.7 L295 369.1 L289.1 373.7 L283.2 377.2 L271.4 387.6 L261.6 393.9 L255.8 399 L249.9 405.3 L240.1 411.7 L228.3 421.8 L208.7 436.1 L201.6 444.3 L199 448.4 L194.4 457.2 L98.4 678.3 L95.5 691 L89.6 727.8 Z" fill="#e058b8" fill-opacity="0.2" stroke="#e058b8" stroke-opacity="0.2" stroke-width="2" stroke-linejoin="round"/>
</g>
<path d="M1006.3 32.2 V734.5 M998.8 727.8 H1763.5 M1081.2 32.2 V734.5 M998.8 659 H1763.5 M1156.2 32.2 V734.5 M998.8 590.1 H1763.5 M1231.1 32.2 V734.5 M998.8 521.3 H1763.5 M1306 32.2 V734.5 M998.8 452.4 H1763.5 M1380.9 32.2 V734.5 M998.8 383.6 H1763.5 M1455.9 32.2 V734.5 M998.8 314.8 H1763.5 M1530.8 32.2 V734.5 M998.8 245.9 H1763.5 M1605.7 32.2 V734.5 M998.8 177.1 H1763.5 M1680.7 32.2 V734.5 M998.8 108.2 H1763.5 M1755.6 32.2 V734.5 M998.8 39.4 H1763.5" stroke="#b0b0b0" stroke-width="1.67" fill="none"/>
<g clip-path="url(#clip_pr)">
<path d="M1006.7 493.9 L1006.7 491.7 L1006.7 488.6 L1006.7 486 L1006.7 484.3 L1006.7 481.5 L1006.7 478.1 L1006.7 475 L1006.7 473 L1006.7 470.2 L1006.7 467.8 L1006.7 465.3 L1006.7 463.2 L1006.7 461 L1006.7 457.8 L1006.7 456.4 L1006.7 454.3 L1006.7 452 L1006.7 448.9 L1006.7 446.3 L1006.7 444.9 L1006.7 441.7 L1006.7 439.2 L1006.7 436.9 L1006.7 435.1 L1006.7 432.5 L1006.7 429.8 L1006.7 427.3 L1006.7 423.8 L1006.7 421 L1006.7 417.7 L1006.7 415.8 L1006.7 412.3 L1006.7 410.4 L1006.7 409.1 L1006.7 406.4 L1006.7 404.5 L1006.7 401.3 L1006.7 399.4 L1006.7 396.9 L1006.7 393.6 L1006.7 390.2 L1006.7 387.8 L1006.7 384.9 L1006.7 382.7 L1006.7 379.8 L1006.7 377.7 L1006.7 376.4 L1006.7 374.3 L1006.7 371.9 L1006.7 369.4 L1006.7 367.1 L1006.7 363.8 L1006.7 361.4 L1006.7 358.1 L1006.7 355.9 L1006.7 353 L1006.7 350 L1006.7 347.4 L1006.7 344.5 L1006.7 342 L1006.7 339.2 L1006.7 337 L1006.7 334.2 L1006.7 333.2 L1006.7 330.4 L1006.7 327.9 L1006.7 325.9 L1006.7 323.2 L1006.7 320.3 L1006.7 316.6 L1006.7 314 L1006.7 311.9 L1006.7 309.5 L1006.7 307.4 L1006.7 306.1 L1006.7 303.9 L1006.7 301.4 L1006.7 298.8 L1006.7 296.3 L1006.7 294.1 L1006.7 290.8 L1006.7 288.2 L1006.7 286 L1006.7 283.2 L1006.7 280.2 L1006.7 277.8 L1006.7 275.8 L1006.7 272.9 L1006.7 270.6 L1006.7 268.1 L1006.7 265.1 L1006.7 262.7 L1006.7 260 L1006.7 257.6 L1006.7 254.4 L1006.7 252.1 L1006.7 251 L1006.7 248.5 L1006.7 246.2 L1006.7 244.6 L1006.7 241.9 L1006.7 239.8 L1006.7 236.4 L1006.7 233.3 L1006.7 230.8 L1006.7 227.6 L1006.7 226.4 L1006.7 223.7 L1006.7 221.5 L1006.7 219.2 L1006.7 216.6 L1006.7 214.1 L1006.7 210.6 L1006.7 208.2 L1006.7 205.8 L1006.7 202.9 L1006.7 200.6 L1006.7 198.4 L1006.7 196 L1006.7 192.9 L1006.7 190.7 L1006.7 188.9 L1006.7 186.2 L1006.7 183.1 L1006.7 181.2 L1006.7 179.3 L1006.7 176.4 L1006.7 172.5 L1006.7 170.2 L1006.7 168.3 L1006.7 165.9 L1006.7 162.6 L1006.7 160.5 L1006.7 159.7 L1006.7 157.7 L1006.7 155.5 L1006.7 152.9 L1006.7 150.9 L1006.7 148.1 L1006.7 145.4 L1006.7 142.2 L1006.7 139.7 L1006.7 136.9 L1006.7 134.3 L1006.7 132 L1006.7 129.6 L1006.7 127.6 L1006.7 124.6 L1006.7 121.7 L1006.7 119.1 L1006.7 116.3 L1006.7 113.1 L1006.7 109.9 L1006.7 107.3 L1006.7 104.8 L1006.7 102.3 L1006.7 100.1 L1006.7 97.3 L1006.7 94.7 L1006.7 92.2 L1006.7 89.8 L1006.7 87.7 L1006.7 84.9 L1006.7 83.4 L1006.7 81 L1006.7 78.8 L1006.7 76.6 L1006.7 73.6 L1006.7 71.4 L1006.7 69 L1006.7 67 L1006.7 64.2 L1006.7 61.7 L1006.7 59.5 L1006.7 57.3 L1006.7 53.8 L1006.7 51.2 L1006.7 48.4 L1006.7 47 L1006.7 44.8 L1006.7 42.4 L1006.7 40.7 L1006.7 39.4 L1006.7 39.4 L1006.7 39.4 L1006.7 39.4 L1006.7 39.4 L1006.7 39.4 L1006.7 39.4 L1006.7 39.4 L1006.7 39.4 L1006.7 39.4 L1006.7 39.4 L1006.8 39.4 L1007.1 39.4 L1007.3 39.4 L1007.6 39.4 L1007.8 39.4 L1007.8 39.4 L1008 39.4 L1008.2 39.4 L1008.3 39.4 L1008.5 39.4 L1008.7 39.4 L1008.9 39.4 L1009 39.9 L1009.2 41.9 L1009.4 43.9 L1009.5 46.6 L1009.7 49.1 L1009.9 51 L1010.1 53.4 L1010.2 56.4 L1010.4 58.5 L1010.4 58.6 L1010.5 60.4 L1010.7 63.2 L1010.8 65.3 L1011 67.7 L1011.1 71 L1011.2 73.1 L1011.4 76.2 L1011.5 79.1 L1011.6 81.9 L1011.8 84.2 L1011.9 86.6 L1012 89.5 L1012.2 92.4 L1012.3 94.3 L1012.4 96.4 L1012.6 99 L1012.7 101.5 L1012.8 102.7 L1012.9 102.8 L1013.4 105.4 L1013.8 108.4 L1014.3 110.5 L1014.7 112.7 L1015.1 115.4 L1015.6 117.7 L1016 119.9 L1016.5 121.2 L1016.9 124.1 L1017.2 125.3 L1017.3 126.3 L1017.7 128.4 L1018 130.5 L1018.4 133.9 L1018.8 135.6 L1019.1 138.5 L1019.5 140.6 L1019.9 143.4 L1020.2 146.4 L1020.6 149.2 L1020.9 151.9 L1021.3 154.3 L1021.3 154.2 L1022 156.1 L1022.6 157.9 L1023.3 158.9 L1023.9 160.9 L1024.6 162.8 L1025.2 166.2 L1025.9 169.6 L1026.1 170.5 L1027 168.7 L1028.3 166.2 L1028.8 165.5 L1030.5 163.9 L1032.9 163.4 L1035.1 163.5 L1035.1 164.7 L1035.5 167.8 L1035.8 170.5 L1036.1 173.8 L1036.5 175.5 L1036.8 177.9 L1037.2 179.9 L1037.5 181.3 L1037.8 183.3 L1038.2 185.9 L1038.5 189 L1038.9 191.5 L1039.2 193.6 L1039.5 196.3 L1039.6 197.3 L1041.4 198.2 L1043.3 199.7 L1043.8 199.5 L1044.4 201 L1045.2 203.1 L1045.9 204 L1046.7 206.6 L1047.5 209.7 L1048.3 212.6 L1048.6 214.2 L1048.9 216 L1049.4 218.6 L1050 220.4 L1050.5 222.2 L1051 224.8 L1051.6 226.6 L1052.1 228.9 L1052.6 231.6 L1053.1 234.3 L1053.5 233.6 L1055.6 234.6 L1057.6 235.8 L1057.7 236.9 L1059.2 234.7 L1060.6 231.3 L1062.1 230 L1063.6 227.5 L1065 225.7 L1066.5 222.5 L1068 221.7 L1068 223 L1070.4 222.4 L1072.9 222.1 L1075.4 221.4 L1075.5 221.5 L1076.6 222.6 L1077.8 224 L1078.9 227 L1080.1 228.9 L1081.2 232.5 L1081.5 234.2 L1081.8 235.1 L1082.1 238.7 L1082.4 241.4 L1082.8 245.2 L1083.1 247 L1083.5 249.8 L1083.8 251.6 L1084.1 253.3 L1084.5 254.1 L1084.8 257.9 L1085.1 260.8 L1085.5 262.9 L1085.8 266.3 L1086 268.2 L1086.4 271.3 L1087.6 274.1 L1088.7 278.5 L1089.9 278.5 L1091 280.8 L1092 282.6 L1092.1 283.4 L1093.3 283.6 L1094.4 284.8 L1095.6 290.5 L1096.7 292 L1097.9 294.3 L1099 297.3 L1099.5 301 L1100.6 302.6 L1102.3 304.3 L1104.1 304.6 L1105.9 304.3 L1107.7 300.7 L1108.5 298.1 L1108.9 296 L1109.8 298.3 L1110.7 302.3 L1111.5 303.8 L1112.4 305.6 L1113 306.8 L1113.1 307.2 L1113.4 306.4 L1113.7 309.2 L1114.1 313.8 L1114.4 318.7 L1114.7 322.6 L1115.1 324.7 L1115.4 326.7 L1115.7 328.9 L1116.1 332 L1116.4 335.1 L1116.7 336.3 L1117 341.3 L1117.4 343.7 L1117.5 345.5 L1117.7 344.2 L1118.1 348.1 L1118.4 350.1 L1118.8 355.1 L1119.2 359.3 L1119.5 360.8 L1119.9 364.3 L1120.3 365 L1120.6 369.4 L1121 368.7 L1121.3 368.5 L1121.6 371.9 L1121.9 370.8 L1123.2 371.3 L1124.5 374.4 L1125.8 376.6 L1127.1 378.4 L1128.4 376.9 L1129.1 378.4 L1129.9 380.8 L1131.7 383.1 L1133.4 385.7 L1135.2 389.4 L1137 393.9 L1138.8 398.8 L1139.5 398.7 L1140.5 400.3 L1142.3 400 L1144.1 402.4 L1145.8 402.8 L1147.6 404.8 L1148.5 407.1 L1149.7 406.6 L1152.2 409 L1154.7 409.6 L1157.2 410.3 L1159 409.7 L1159.6 408.7 L1161.9 409 L1164.1 408.9 L1166.4 409.8 L1168 408.7 L1168.7 410.6 L1171.2 412.9 L1173.7 412.5 L1176.2 412.2 L1176.9 411.3 L1178.5 414.5 L1180.8 413.4 L1183.2 414.5 L1185.5 418.9 L1187.8 419.8 L1188.9 423.7 L1190.2 422.9 L1192.7 424.1 L1195.1 418 L1197.6 415.9 L1197.9 415.5 L1199.5 417 L1201.2 420.4 L1203 422.7 L1204.8 428.5 L1206.6 429.7 L1206.9 431.5 L1208.5 431.3 L1210.5 433.6 L1212.5 434.9 L1214.4 436.3 L1215.8 435.6 L1216.4 434.8 L1218.3 436.2 L1220.2 438.1 L1222.1 440.5 L1224 444 L1224.8 446.7 L1226.3 448.3 L1228.8 449.8 L1231.3 449.2 L1233.8 447.2 L1236.2 447 L1236.8 447.4 L1238.4 449 L1240.5 450.3 L1242.7 451.9 L1244.8 454.5 L1246.9 457 L1248.8 455.9 L1249 456.9 L1251 456.2 L1253 459.1 L1255 459.4 L1257 459.6 L1259 460.5 L1260.7 461.5 L1261 462.3 L1262.8 466.7 L1264.6 469 L1266.4 471.2 L1268.3 473.8 L1269.5 473.8 L1270.1 475.8 L1272.1 476.5 L1274.1 478.6 L1276.1 479.9 L1278 481.4 L1280 482.3 L1282 484.9 L1282.4 485.3 L1284.1 487.8 L1286.2 488.7 L1288.4 489.4 L1290.5 491.6 L1292.6 492.2 L1294.8 491.3 L1295.4 490.9 L1296.8 491.7 L1298.8 493.5 L1300.8 493.6 L1302.8 495.8 L1304.8 497.2 L1306.8 498.9 L1308.3 499.8 L1308.9 502.5 L1311.1 504.8 L1313.3 503.8 L1315.5 504.1 L1317.7 505.3 L1319.9 507.9 L1321.2 507.1 L1322 506.8 L1324 511.2 L1326 512.1 L1328 513.2 L1330 514 L1332 518 L1334.1 519.5 L1334.1 518.1 L1336.1 519.5 L1338.1 520.9 L1340.1 520.2 L1342.1 522.3 L1344.1 524.8 L1346.1 527.2 L1347 525.7 L1348.1 526.8 L1350.1 530 L1352.1 529.8 L1354.1 532.1 L1356.1 533.1 L1358.1 537.5 L1360 539.6 L1360.1 539.2 L1362.1 540.7 L1364.1 542 L1366.1 544.9 L1368.1 545.7 L1370.1 547.9 L1372.1 551.1 L1372.9 552.2 L1374.2 551.8 L1376.3 553.1 L1378.4 555.5 L1380.5 556.1 L1382.6 556.3 L1384.7 556.5 L1385.8 558.7 L1386.8 558.9 L1388.9 558.5 L1391 558.4 L1393.2 560.2 L1395.3 563.5 L1397.4 564 L1398.7 564.1 L1399.6 565 L1402 565.9 L1404.5 566 L1406.9 566.7 L1409.4 566.9 L1411.7 567.1 L1411.8 566 L1414.2 567.9 L1416.5 568.8 L1418.8 570 L1421.2 570.8 L1423.5 572.3 L1424.6 573 L1425.9 574.4 L1428.2 575.4 L1430.5 576.4 L1432.9 576.5 L1435.2 577.3 L1437.4 577.9 L1437.6 576.4 L1439.8 576.6 L1442 579.9 L1444.2 582.5 L1446.4 582.5 L1448.6 581.7 L1450.4 582.4 L1450.8 584.8 L1452.8 586.2 L1454.8 586.5 L1456.8 588.8 L1458.8 591.9 L1460.8 594.4 L1462.8 594.4 L1463.4 593.9 L1465.1 595 L1467.4 596 L1469.7 596 L1472.1 596.6 L1474.4 598.6 L1476.3 600.2 L1476.8 601.6 L1479.1 603.3 L1481.4 605 L1483.8 604.6 L1486.1 604.3 L1488.5 604.1 L1489.1 604.3 L1490.8 604.6 L1493.2 606.6 L1495.5 609 L1497.8 609.4 L1500.2 609.3 L1502.1 609.3 L1502.5 610 L1505 609.9 L1507.4 610.4 L1509.8 612.4 L1512.2 614.6 L1514.6 615.1 L1515 614.8 L1516.9 615.3 L1519.2 617.3 L1521.5 617.9 L1523.8 618.4 L1526 618.3 L1528.3 617.8 L1530.6 618.7 L1530.8 619.1 L1533 620.9 L1535.5 620.9 L1537.9 621 L1540.3 621.5 L1542.8 624.9 L1545.2 624.4 L1547.6 626.3 L1550.1 627 L1552.5 629 L1555 629.2 L1555.6 627.6 L1557.4 628.7 L1559.8 629.6 L1562.2 629.9 L1564.6 630.2 L1567.1 631.6 L1569.5 633.1 L1571.9 633 L1574.3 633.4 L1576.7 633.2 L1578 633.7 L1579.2 633.5 L1581.6 633.2 L1584 634 L1586.4 634.4 L1588.8 636.8 L1591.2 638.2 L1593.6 638.6 L1593.6 639 L1595 640.8 L1596.4 643.3 L1597.7 644.6 L1598.1 645 L1599.9 645.2 L1602.3 646.3 L1604.7 648.2 L1607.2 649 L1609.6 649.4 L1612 649.7 L1614.5 650.8 L1616 651 L1616.8 651.2 L1619.2 651.3 L1621.5 652.3 L1623.8 653.6 L1626.1 655 L1627.1 656.2 L1628.4 656.4 L1630.7 657.9 L1632.9 657.8 L1635.2 658.5 L1637.5 659.8 L1639.8 660.3 L1642.1 661.7 L1644.3 663 L1646.6 665.6 L1648.9 666.5 L1651.2 666.8 L1653.5 666.8 L1655.7 668.3 L1656.2 668.5 L1658.1 669.3 L1660.4 669.7 L1662.8 669.7 L1665.1 671.8 L1667.5 673 L1669.8 675.1 L1672.2 675.7 L1674.5 676.1 L1676.9 676.8 L1679.2 678.4 L1680.7 679.2 L1681.6 680.1 L1684.1 679.8 L1686.5 680.9 L1689 680.8 L1691.4 680.9 L1693.9 681.9 L1696.4 682.2 L1698.8 682.8 L1701.3 683.2 L1703.8 684 L1706.2 685.2 L1708.7 685.7 L1711.1 686 L1712.1 685.7 L1713.5 686.3 L1715.9 687.2 L1718.2 688.2 L1720.5 688.4 L1722.9 688.7 L1725.2 690.1 L1727.6 691.3 L1729.9 692.5 L1732.2 693 L1734.6 693.2 L1736.9 693.9 L1739.2 695.4 L1741.6 697.1 L1743.9 698.6 L1746.3 698.9 L1748.6 698.7 L1750.9 699.8 L1753.3 700.5 L1755.6 702.5 L1755.6 706.5 L1753.3 704.7 L1750.9 704.1 L1748.6 703.1 L1746.3 703.7 L1743.9 703.1 L1741.6 702 L1739.2 700.5 L1736.9 699.4 L1734.6 698.5 L1732.2 698.4 L1729.9 698.2 L1727.6 697.6 L1725.2 696.8 L1722.9 695.3 L1720.5 695.5 L1718.2 695.2 L1715.9 694.2 L1713.5 692.6 L1712.1 691.6 L1711.1 692.1 L1708.7 691.4 L1706.2 690.8 L1703.8 690.1 L1701.3 689.6 L1698.8 689.6 L1696.4 689.1 L1693.9 688.9 L1691.4 688.3 L1689 688.1 L1686.5 688.5 L1684.1 688.3 L1681.6 688.9 L1680.7 688 L1679.2 687 L1676.9 685.5 L1674.5 684.9 L1672.2 684 L1669.8 683.3 L1667.5 682.3 L1665.1 681.6 L1662.8 680.3 L1660.4 680.1 L1658.1 679.8 L1656.2 679.5 L1655.7 679 L1653.5 678.2 L1651.2 677.3 L1648.9 676.7 L1646.6 675.9 L1644.3 673.6 L1642.1 672.5 L1639.8 671.2 L1637.5 671 L1635.2 670.2 L1632.9 669.8 L1630.7 669.7 L1628.4 668.6 L1627.1 668.1 L1626.1 667.2 L1623.8 666.9 L1621.5 665.3 L1619.2 663.6 L1616.8 662.9 L1616 662.8 L1614.5 662.5 L1612 661 L1609.6 660.7 L1607.2 660.9 L1604.7 660.6 L1602.3 658.5 L1599.9 658.1 L1598.1 658 L1597.7 658.1 L1596.4 655.8 L1595 653.6 L1593.6 651.6 L1593.6 651.8 L1591.2 651.6 L1588.8 649.7 L1586.4 648.7 L1584 648 L1581.6 648.3 L1579.2 648.1 L1578 648.2 L1576.7 648.7 L1574.3 648.7 L1571.9 648.3 L1569.5 648.4 L1567.1 647.4 L1564.6 645.5 L1562.2 644.8 L1559.8 643.5 L1557.4 642.2 L1555.6 641.6 L1555 641.9 L1552.5 643 L1550.1 642.1 L1547.6 642.7 L1545.2 641.9 L1542.8 640.7 L1540.3 638.9 L1537.9 639 L1535.5 638.1 L1533 638.2 L1530.8 637.4 L1530.6 638 L1528.3 635 L1526 634.5 L1523.8 634.9 L1521.5 634.3 L1519.2 632.5 L1516.9 630.4 L1515 630.7 L1514.6 631.3 L1512.2 630.4 L1509.8 628.3 L1507.4 626.9 L1505 626 L1502.5 626.5 L1502.1 626.6 L1500.2 626.7 L1497.8 627.1 L1495.5 626.9 L1493.2 626.7 L1490.8 624.8 L1489.1 624.4 L1488.5 623.9 L1486.1 624.7 L1483.8 624.2 L1481.4 623.1 L1479.1 621.8 L1476.8 620.5 L1476.3 619 L1474.4 616.9 L1472.1 616.4 L1469.7 615.5 L1467.4 614.8 L1465.1 612.1 L1463.4 612.2 L1462.8 612.5 L1460.8 613.1 L1458.8 612.1 L1456.8 610.5 L1454.8 609.5 L1452.8 609.2 L1450.8 608 L1450.4 604.6 L1448.6 604.1 L1446.4 604.6 L1444.2 603.9 L1442 602.3 L1439.8 598.8 L1437.6 598.2 L1437.4 597.1 L1435.2 595.2 L1432.9 595 L1430.5 592.5 L1428.2 591.1 L1425.9 590.1 L1424.6 589.2 L1423.5 589.8 L1421.2 589.3 L1418.8 589.2 L1416.5 589.8 L1414.2 589.4 L1411.8 588.1 L1411.7 586.9 L1409.4 585.5 L1406.9 587.2 L1404.5 585.4 L1402 584.7 L1399.6 584.7 L1398.7 586.6 L1397.4 586.9 L1395.3 585.8 L1393.2 582.9 L1391 581.1 L1388.9 580 L1386.8 580.8 L1385.8 580 L1384.7 577.8 L1382.6 577.6 L1380.5 576.9 L1378.4 575.5 L1376.3 573 L1374.2 571.2 L1372.9 570.3 L1372.1 569 L1370.1 567.9 L1368.1 566.6 L1366.1 564.8 L1364.1 563.2 L1362.1 559.8 L1360.1 558.2 L1360 557.9 L1358.1 556.1 L1356.1 553 L1354.1 551.9 L1352.1 551.4 L1350.1 552.4 L1348.1 550.6 L1347 549.1 L1346.1 550.2 L1344.1 549 L1342.1 548.4 L1340.1 546.2 L1338.1 544.1 L1336.1 544.2 L1334.1 544.1 L1334.1 543.7 L1332 542.7 L1330 539.9 L1328 540.5 L1326 538.7 L1324 536.4 L1322 533 L1321.2 531.7 L1319.9 530.7 L1317.7 529.8 L1315.5 529.3 L1313.3 528.6 L1311.1 529.1 L1308.9 529.1 L1308.3 526.8 L1306.8 526.3 L1304.8 524.1 L1302.8 523.8 L1300.8 521.4 L1298.8 518.8 L1296.8 517.5 L1295.4 516.4 L1294.8 515.5 L1292.6 514.7 L1290.5 515.1 L1288.4 515 L1286.2 513.3 L1284.1 511.8 L1282.4 512.2 L1282 512.1 L1280 508.8 L1278 508.1 L1276.1 508.7 L1274.1 507.9 L1272.1 504.2 L1270.1 502.7 L1269.5 501.5 L1268.3 500.8 L1266.4 498.4 L1264.6 495.4 L1262.8 494.5 L1261 493 L1260.7 492.2 L1259 491 L1257 488.5 L1255 486.2 L1253 484.8 L1251 481.4 L1249 481.1 L1248.8 480.8 L1246.9 480.1 L1244.8 480.8 L1242.7 480.2 L1240.5 479.6 L1238.4 478 L1236.8 476.5 L1236.2 476.7 L1233.8 476.3 L1231.3 478.1 L1228.8 477.2 L1226.3 478 L1224.8 475.5 L1224 475.7 L1222.1 473.3 L1220.2 470.3 L1218.3 468 L1216.4 466.3 L1215.8 467.4 L1214.4 468.6 L1212.5 466.9 L1210.5 464.2 L1208.5 463 L1206.9 463.7 L1206.6 462.5 L1204.8 462 L1203 460.7 L1201.2 458 L1199.5 453.6 L1197.9 451.9 L1197.6 451.2 L1195.1 450.4 L1192.7 451.9 L1190.2 453.9 L1188.9 456.8 L1187.8 454.8 L1185.5 456 L1183.2 455.5 L1180.8 454.3 L1178.5 453.9 L1176.9 453.4 L1176.2 451.7 L1173.7 451.6 L1171.2 451.1 L1168.7 451.5 L1168 450.3 L1166.4 450 L1164.1 449.3 L1161.9 450 L1159.6 449 L1159 448.3 L1157.2 447 L1154.7 445.6 L1152.2 448.6 L1149.7 448.1 L1148.5 449.2 L1147.6 448.9 L1145.8 448.9 L1144.1 448.6 L1142.3 444.6 L1140.5 445.6 L1139.5 441.4 L1138.8 440.2 L1137 436.5 L1135.2 434.3 L1133.4 434 L1131.7 428.7 L1129.9 426.6 L1129.1 426.6 L1128.4 427.3 L1127.1 427.6 L1125.8 424 L1124.5 424.2 L1123.2 422.2 L1121.9 420.2 L1121.6 418.8 L1121.3 414.6 L1121 414 L1120.6 412.7 L1120.3 411.2 L1119.9 408.4 L1119.5 404.9 L1119.2 405 L1118.8 402.4 L1118.4 398.3 L1118.1 397.3 L1117.7 395.2 L1117.5 395.2 L1117.4 391.4 L1117 389.4 L1116.7 384.8 L1116.4 381.4 L1116.1 377.9 L1115.7 376.4 L1115.4 375.9 L1115.1 374 L1114.7 373.4 L1114.4 373.9 L1114.1 373.3 L1113.7 369.9 L1113.4 367.9 L1113.1 363.3 L1113 366.1 L1112.4 362 L1111.5 356.9 L1110.7 355.6 L1109.8 352.1 L1108.9 352.8 L1108.5 346.8 L1107.7 346.4 L1105.9 350.3 L1104.1 350.6 L1102.3 354.7 L1100.6 354.6 L1099.5 358.5 L1099 360.3 L1097.9 358.4 L1096.7 357.8 L1095.6 354.7 L1094.4 352.2 L1093.3 347.7 L1092.1 346 L1092 344.8 L1091 343.8 L1089.9 343 L1088.7 343.7 L1087.6 343.4 L1086.4 342.4 L1086 343.5 L1085.8 342.2 L1085.5 340.6 L1085.1 337.2 L1084.8 334.1 L1084.5 328.7 L1084.1 325.2 L1083.8 321.8 L1083.5 317.4 L1083.1 316 L1082.8 314.1 L1082.4 314.6 L1082.1 312.4 L1081.8 311.1 L1081.5 309 L1081.2 307.6 L1080.1 303.3 L1078.9 299.6 L1077.8 297.5 L1076.6 296 L1075.5 294.5 L1075.4 294.2 L1072.9 295.7 L1070.4 295.2 L1068 295 L1068 293.6 L1066.5 295.2 L1065 297.2 L1063.6 299 L1062.1 300.3 L1060.6 302.2 L1059.2 304.6 L1057.7 307.4 L1057.6 307.9 L1055.6 307.6 L1053.5 307.3 L1053.1 307.3 L1052.6 305 L1052.1 302 L1051.6 299.1 L1051 295.3 L1050.5 292 L1050 290 L1049.4 288.2 L1048.9 286.1 L1048.6 285 L1048.3 284.8 L1047.5 283.7 L1046.7 280.4 L1045.9 278 L1045.2 274.8 L1044.4 271.8 L1043.8 270.2 L1043.3 267.7 L1041.4 266.2 L1039.6 264.7 L1039.5 265.2 L1039.2 263 L1038.9 260.3 L1038.5 258 L1038.2 254.5 L1037.8 250.7 L1037.5 248.2 L1037.2 245.1 L1036.8 242.4 L1036.5 240.5 L1036.1 237.9 L1035.8 236.4 L1035.5 233.5 L1035.1 231.6 L1035.1 231.5 L1032.9 231.2 L1030.5 231.6 L1028.8 231 L1028.3 231.7 L1027 233.5 L1026.1 234.2 L1025.9 233 L1025.2 229.7 L1024.6 226 L1023.9 224.2 L1023.3 221.8 L1022.6 219.9 L1022 217.4 L1021.3 215.2 L1021.3 214.9 L1020.9 211.8 L1020.6 208.3 L1020.2 205.4 L1019.9 203.1 L1019.5 200.8 L1019.1 199.9 L1018.8 198.4 L1018.4 196.2 L1018 193.5 L1017.7 191.1 L1017.3 188.1 L1017.2 187.2 L1016.9 184.7 L1016.5 181.8 L1016 178.9 L1015.6 175.7 L1015.1 173.3 L1014.7 171 L1014.3 168.1 L1013.8 165.6 L1013.4 162.8 L1012.9 160.2 L1012.8 159.6 L1012.7 156.1 L1012.6 153.5 L1012.4 151.3 L1012.3 149.1 L1012.2 147 L1012 145 L1011.9 142.8 L1011.8 141.1 L1011.6 138.6 L1011.5 136.6 L1011.4 134 L1011.2 130.9 L1011.1 129.1 L1011 126 L1010.8 123 L1010.7 120.4 L1010.5 117.8 L1010.4 115.2 L1010.4 114.7 L1010.2 112.2 L1010.1 110.6 L1009.9 108.1 L1009.7 105.1 L1009.5 103.4 L1009.4 101.2 L1009.2 99.2 L1009 96.5 L1008.9 94.1 L1008.7 92.1 L1008.5 89.1 L1008.3 87.1 L1008.2 84.3 L1008 81.5 L1007.8 79.1 L1007.8 77.9 L1007.6 75.8 L1007.3 72.8 L1007.1 69.7 L1006.8 67.2 L1006.7 66.6 L1006.7 69.4 L1006.7 72.3 L1006.7 74.7 L1006.7 77.7 L1006.7 80.3 L1006.7 82.2 L1006.7 84.2 L1006.7 86.2 L1006.7 89 L1006.7 91.2 L1006.7 93.6 L1006.7 95.4 L1006.7 98.1 L1006.7 100.8 L1006.7 102.3 L1006.7 105.1 L1006.7 107.9 L1006.7 110.6 L1006.7 113.3 L1006.7 115.7 L1006.7 118.8 L1006.7 121.6 L1006.7 124 L1006.7 127.5 L1006.7 130 L1006.7 132.9 L1006.7 134.2 L1006.7 136.2 L1006.7 139 L1006.7 141.4 L1006.7 143.7 L1006.7 145.9 L1006.7 149.6 L1006.7 152.3 L1006.7 154.5 L1006.7 157.1 L1006.7 159.5 L1006.7 162.1 L1006.7 164.7 L1006.7 167.1 L1006.7 169.6 L1006.7 171.8 L1006.7 174.6 L1006.7 176.1 L1006.7 179 L1006.7 181.1 L1006.7 183.1 L1006.7 185.7 L1006.7 188 L1006.7 191.5 L1006.7 193.8 L1006.7 196.7 L1006.7 199.1 L1006.7 201.3 L1006.7 204.2 L1006.7 205.7 L1006.7 207.9 L1006.7 210.9 L1006.7 213.8 L1006.7 217 L1006.7 218.6 L1006.7 221.5 L1006.7 224.4 L1006.7 226.3 L1006.7 229.1 L1006.7 231.5 L1006.7 234 L1006.7 236.7 L1006.7 239 L1006.7 242.3 L1006.7 244.7 L1006.7 246.1 L1006.7 249.2 L1006.7 251.1 L1006.7 254.4 L1006.7 255.9 L1006.7 257.8 L1006.7 260.3 L1006.7 263.4 L1006.7 267.4 L1006.7 268.7 L1006.7 271.3 L1006.7 274.1 L1006.7 277.1 L1006.7 278.9 L1006.7 280.1 L1006.7 283.3 L1006.7 285.7 L1006.7 288.3 L1006.7 291 L1006.7 293.4 L1006.7 295.8 L1006.7 298 L1006.7 301.3 L1006.7 304 L1006.7 306.6 L1006.7 309.2 L1006.7 312.4 L1006.7 314.7 L1006.7 316.3 L1006.7 319.1 L1006.7 321.7 L1006.7 324.6 L1006.7 327.1 L1006.7 329.5 L1006.7 332.4 L1006.7 334.1 L1006.7 336.3 L1006.7 338.8 L1006.7 340.6 L1006.7 343.4 L1006.7 346 L1006.7 348.8 L1006.7 351.8 L1006.7 354.4 L1006.7 356.8 L1006.7 359.6 L1006.7 361.9 L1006.7 364.7 L1006.7 366.6 L1006.7 368.3 L1006.7 371.8 L1006.7 374.3 L1006.7 376.6 L1006.7 378.4 L1006.7 380.9 L1006.7 384 L1006.7 386.5 L1006.7 388.7 L1006.7 390.8 L1006.7 394.3 L1006.7 396.5 L1006.7 399.2 L1006.7 401 L1006.7 403.7 L1006.7 407.3 L1006.7 409.8 L1006.7 412.5 L1006.7 414.3 L1006.7 417 L1006.7 419.8 L1006.7 421.5 L1006.7 423.4 L1006.7 426.1 L1006.7 429.2 L1006.7 431.9 L1006.7 434 L1006.7 437.2 L1006.7 439.4 L1006.7 442.7 L1006.7 445 L1006.7 447.1 L1006.7 449.3 L1006.7 451.5 L1006.7 454.6 L1006.7 456.4 L1006.7 458.6 L1006.7 461 L1006.7 463.9 L1006.7 466.1 L1006.7 469.2 L1006.7 472 L1006.7 474.7 L1006.7 477.4 L1006.7 479.4 L1006.7 482 L1006.7 484.2 L1006.7 486.4 L1006.7 489.2 L1006.7 491.7 L1006.7 494 L1006.7 496.4 L1006.7 498.1 L1006.7 500.6 L1006.7 502.3 L1006.7 504.1 L1006.7 506.6 L1006.7 509.4 L1006.7 512 L1006.7 513.9 L1006.7 516.7 L1006.7 520.4 L1006.7 523.3 L1006.7 525.8 L1006.7 528.5 L1006.7 531.3 L1006.7 533.6 L1006.7 535.1 L1006.7 538.1 L1006.7 541 L1006.7 543.8 L1006.7 546.4 L1006.7 549.2 Z" fill="#065aa6" fill-opacity="0.2" stroke="#065aa6" stroke-opacity="0.2" stroke-width="2" stroke-linejoin="round"/>
<path d="M1006.7 521.3 L1006.7 518.8 L1006.7 516.3 L1006.7 513.8 L1006.7 511.3 L1006.7 508.8 L1006.7 506.3 L1006.7 503.8 L1006.7 501.3 L1006.7 498.8 L1006.7 496.3 L1006.7 493.8 L1006.7 491.3 L1006.7 488.8 L1006.7 486.3 L1006.7 483.8 L1006.7 481.3 L1006.7 478.8 L1006.7 476.3 L1006.7 473.8 L1006.7 471.3 L1006.7 468.8 L1006.7 466.3 L1006.7 463.8 L1006.7 461.3 L1006.7 458.8 L1006.7 456.3 L1006.7 453.8 L1006.7 451.3 L1006.7 448.8 L1006.7 446.3 L1006.7 443.8 L1006.7 441.3 L1006.7 438.8 L1006.7 436.3 L1006.7 433.8 L1006.7 431.3 L1006.7 428.8 L1006.7 426.3 L1006.7 423.8 L1006.7 421.3 L1006.7 418.8 L1006.7 416.3 L1006.7 413.8 L1006.7 411.3 L1006.7 408.8 L1006.7 406.3 L1006.7 403.8 L1006.7 401.3 L1006.7 398.8 L1006.7 396.3 L1006.7 393.8 L1006.7 391.3 L1006.7 388.8 L1006.7 386.3 L1006.7 383.8 L1006.7 381.3 L1006.7 378.8 L1006.7 376.3 L1006.7 373.8 L1006.7 371.3 L1006.7 368.8 L1006.7 366.3 L1006.7 363.8 L1006.7 361.3 L1006.7 358.8 L1006.7 356.3 L1006.7 353.8 L1006.7 351.3 L1006.7 348.8 L1006.7 346.3 L1006.7 343.8 L1006.7 341.3 L1006.7 338.8 L1006.7 336.3 L1006.7 333.8 L1006.7 331.3 L1006.7 328.8 L1006.7 326.3 L1006.7 323.8 L1006.7 321.3 L1006.7 318.8 L1006.7 316.3 L1006.7 313.8 L1006.7 311.3 L1006.7 308.8 L1006.7 306.3 L1006.7 303.8 L1006.7 301.3 L1006.7 298.8 L1006.7 296.3 L1006.7 293.8 L1006.7 291.3 L1006.7 288.8 L1006.7 286.3 L1006.7 283.8 L1006.7 281.3 L1006.7 278.8 L1006.7 276.3 L1006.7 273.8 L1006.7 271.3 L1006.7 268.8 L1006.7 266.3 L1006.7 263.8 L1006.7 261.3 L1006.7 258.8 L1006.7 256.3 L1006.7 253.8 L1006.7 251.3 L1006.7 248.8 L1006.7 246.3 L1006.7 243.8 L1006.7 241.3 L1006.7 238.8 L1006.7 236.3 L1006.7 233.8 L1006.7 231.3 L1006.7 228.8 L1006.7 226.3 L1006.7 223.8 L1006.7 221.3 L1006.7 218.8 L1006.7 216.3 L1006.7 213.8 L1006.7 211.3 L1006.7 208.8 L1006.7 206.3 L1006.7 203.8 L1006.7 201.3 L1006.7 198.8 L1006.7 196.3 L1006.7 193.8 L1006.7 191.3 L1006.7 188.8 L1006.7 186.3 L1006.7 183.8 L1006.7 181.3 L1006.7 178.8 L1006.7 176.3 L1006.7 173.8 L1006.7 171.3 L1006.7 168.8 L1006.7 166.3 L1006.7 163.8 L1006.7 161.3 L1006.7 158.8 L1006.7 156.3 L1006.7 153.8 L1006.7 151.3 L1006.7 148.8 L1006.7 146.3 L1006.7 143.8 L1006.7 141.3 L1006.7 138.8 L1006.7 136.3 L1006.7 133.8 L1006.7 131.3 L1006.7 128.8 L1006.7 126.3 L1006.7 123.8 L1006.7 121.3 L1006.7 118.8 L1006.7 116.3 L1006.7 113.8 L1006.7 111.3 L1006.7 108.8 L1006.7 106.3 L1006.7 103.8 L1006.7 101.3 L1006.7 98.8 L1006.7 96.3 L1006.7 93.8 L1006.7 91.3 L1006.7 88.8 L1006.7 86.3 L1006.7 83.8 L1006.7 81.3 L1006.7 78.8 L1006.7 76.3 L1006.7 73.8 L1006.7 71.3 L1006.7 68.8 L1006.7 66.3 L1006.7 63.8 L1006.7 61.3 L1006.7 58.8 L1006.7 56.3 L1006.7 53.8 L1006.7 51.3 L1006.7 48.8 L1006.7 46.3 L1006.7 43.8 L1006.7 41.3 L1006.7 39.4 L1006.8 40 L1007.1 42.5 L1007.3 45 L1007.6 47.5 L1007.8 49.7 L1007.8 50 L1008 52.5 L1008.2 55 L1008.3 57.5 L1008.5 60 L1008.7 62.4 L1008.9 64.9 L1009 67.4 L1009.2 69.9 L1009.4 72.4 L1009.5 74.9 L1009.7 77.4 L1009.9 79.9 L1010.1 82.4 L1010.2 84.9 L1010.4 87.4 L1010.4 87.6 L1010.5 89.9 L1010.7 92.4 L1010.8 94.9 L1011 97.4 L1011.1 99.9 L1011.2 102.4 L1011.4 104.9 L1011.5 107.4 L1011.6 109.9 L1011.8 112.4 L1011.9 114.8 L1012 117.3 L1012.2 119.8 L1012.3 122.3 L1012.4 124.8 L1012.6 127.3 L1012.7 129.8 L1012.8 131.6 L1012.9 132.3 L1013.4 134.8 L1013.8 137.2 L1014.3 139.7 L1014.7 142.2 L1015.1 144.6 L1015.6 147.1 L1016 149.5 L1016.5 152 L1016.9 154.5 L1017.2 156.4 L1017.3 156.9 L1017.7 159.4 L1018 161.9 L1018.4 164.3 L1018.8 166.8 L1019.1 169.3 L1019.5 171.8 L1019.9 174.2 L1020.2 176.7 L1020.6 179.2 L1020.9 181.7 L1021.3 184 L1021.3 184.1 L1022 186.5 L1022.6 189 L1023.3 191.4 L1023.9 193.8 L1024.6 196.2 L1025.2 198.6 L1025.9 201 L1026.1 201.9 L1027 200.5 L1028.3 198.4 L1028.8 197.7 L1030.5 198 L1032.9 198.4 L1035.1 198.8 L1035.1 199.1 L1035.5 201.6 L1035.8 204 L1036.1 206.5 L1036.5 209 L1036.8 211.5 L1037.2 214 L1037.5 216.4 L1037.8 218.9 L1038.2 221.4 L1038.5 223.9 L1038.9 226.3 L1039.2 228.8 L1039.5 231.3 L1039.6 231.5 L1041.4 232.9 L1043.3 234.5 L1043.8 234.9 L1044.4 236.7 L1045.2 239.1 L1045.9 241.5 L1046.7 243.8 L1047.5 246.2 L1048.3 248.6 L1048.6 249.4 L1048.9 251 L1049.4 253.4 L1050 255.9 L1050.5 258.3 L1051 260.8 L1051.6 263.2 L1052.1 265.7 L1052.6 268.1 L1053.1 270 L1053.5 270.3 L1055.6 271.6 L1057.6 272.8 L1057.7 272.6 L1059.2 270.5 L1060.6 268.5 L1062.1 266.5 L1063.6 264.5 L1065 262.4 L1066.5 260.4 L1068 258.4 L1068 258.3 L1070.4 258.3 L1072.9 258.3 L1075.4 258.3 L1075.5 258.3 L1076.6 260.5 L1077.8 262.7 L1078.9 264.9 L1080.1 267.1 L1081.2 269.4 L1081.5 270 L1081.8 271.8 L1082.1 274.2 L1082.4 276.7 L1082.8 279.2 L1083.1 281.7 L1083.5 284.1 L1083.8 286.6 L1084.1 289.1 L1084.5 291.6 L1084.8 294.1 L1085.1 296.5 L1085.5 299 L1085.8 301.5 L1086 303.1 L1086.4 303.9 L1087.6 306.1 L1088.7 308.3 L1089.9 310.5 L1091 312.8 L1092 314.8 L1092.1 315 L1093.3 317.2 L1094.4 319.4 L1095.6 321.7 L1096.7 323.9 L1097.9 326.1 L1099 328.3 L1099.5 329.2 L1100.6 328.2 L1102.3 326.4 L1104.1 324.7 L1105.9 322.8 L1107.7 320.9 L1108.5 320 L1108.9 321.3 L1109.8 323.9 L1110.7 326.4 L1111.5 328.7 L1112.4 330.8 L1113 332.6 L1113.1 333.2 L1113.4 335.8 L1113.7 338.1 L1114.1 340.6 L1114.4 343.1 L1114.7 345.6 L1115.1 347.9 L1115.4 350.4 L1115.7 352.8 L1116.1 355.4 L1116.4 358.1 L1116.7 360.6 L1117 363.1 L1117.4 365.4 L1117.5 366.4 L1117.7 367.7 L1118.1 370.3 L1118.4 372.6 L1118.8 375.4 L1119.2 377.8 L1119.5 380.6 L1119.9 383 L1120.3 385.4 L1120.6 387.9 L1121 390.1 L1121.3 392.5 L1121.6 394.4 L1121.9 395 L1123.2 397.3 L1124.5 399.5 L1125.8 401.6 L1127.1 403.8 L1128.4 405.7 L1129.1 407 L1129.9 407.6 L1131.7 409.6 L1133.4 411 L1135.2 413 L1137 414.3 L1138.8 416.2 L1139.5 417 L1140.5 418.7 L1142.3 420.8 L1144.1 422.2 L1145.8 423.7 L1147.6 425 L1148.5 425.9 L1149.7 425.9 L1152.2 426.4 L1154.7 426.5 L1157.2 426.5 L1159 427 L1159.6 427.6 L1161.9 428.8 L1164.1 429.1 L1166.4 429.6 L1168 430.4 L1168.7 431.5 L1171.2 432.1 L1173.7 433.2 L1176.2 433.1 L1176.9 433.8 L1178.5 434.6 L1180.8 435.7 L1183.2 435.9 L1185.5 436.9 L1187.8 437.3 L1188.9 438.7 L1190.2 437.9 L1192.7 438 L1195.1 436.7 L1197.6 436 L1197.9 435.6 L1199.5 437.9 L1201.2 440.4 L1203 441.7 L1204.8 443.5 L1206.6 444.5 L1206.9 445.6 L1208.5 446 L1210.5 448 L1212.5 449.2 L1214.4 451.3 L1215.8 451.9 L1216.4 452 L1218.3 453.4 L1220.2 455.2 L1222.1 458.1 L1224 460.4 L1224.8 460.6 L1226.3 460.8 L1228.8 460.7 L1231.3 461.4 L1233.8 460.2 L1236.2 460.7 L1236.8 460.9 L1238.4 462.9 L1240.5 464.8 L1242.7 466.4 L1244.8 467.8 L1246.9 468.6 L1248.8 469.2 L1249 469.2 L1251 470.4 L1253 472.5 L1255 473.7 L1257 475.3 L1259 476.5 L1260.7 477.8 L1261 478 L1262.8 480.5 L1264.6 482.1 L1266.4 484.1 L1268.3 485.6 L1269.5 486.7 L1270.1 487.4 L1272.1 488.8 L1274.1 491.3 L1276.1 492.5 L1278 493.8 L1280 494.8 L1282 497 L1282.4 497 L1284.1 498.5 L1286.2 499.1 L1288.4 500.6 L1290.5 501.1 L1292.6 502.1 L1294.8 503.5 L1295.4 504 L1296.8 505.7 L1298.8 507.2 L1300.8 509.3 L1302.8 511 L1304.8 511.2 L1306.8 512 L1308.3 512.6 L1308.9 514.5 L1311.1 515.9 L1313.3 516.7 L1315.5 517.5 L1317.7 519.2 L1319.9 520.4 L1321.2 521.2 L1322 521.3 L1324 523.7 L1326 524.8 L1328 526.6 L1330 527.1 L1332 529.4 L1334.1 530.4 L1334.1 530.4 L1336.1 531 L1338.1 532 L1340.1 533.5 L1342.1 535.9 L1344.1 537.7 L1346.1 539.3 L1347 539.5 L1348.1 540.9 L1350.1 542.5 L1352.1 543.6 L1354.1 544.5 L1356.1 546.2 L1358.1 548.3 L1360 549.3 L1360.1 549.6 L1362.1 551.1 L1364.1 553 L1366.1 554.9 L1368.1 556.6 L1370.1 558.6 L1372.1 560.2 L1372.9 560.1 L1374.2 561 L1376.3 561.7 L1378.4 563.6 L1380.5 564.5 L1382.6 565.9 L1384.7 567 L1385.8 568.1 L1386.8 569.1 L1388.9 569.2 L1391 569.9 L1393.2 571.6 L1395.3 573.7 L1397.4 575 L1398.7 575.3 L1399.6 575 L1402 576.3 L1404.5 576.2 L1406.9 577.8 L1409.4 577.4 L1411.7 578.3 L1411.8 577.9 L1414.2 579.2 L1416.5 580.3 L1418.8 580.6 L1421.2 581.2 L1423.5 582.1 L1424.6 582.6 L1425.9 582.9 L1428.2 583.8 L1430.5 584.9 L1432.9 586.1 L1435.2 586.6 L1437.4 587 L1437.6 586.7 L1439.8 588.1 L1442 590.8 L1444.2 592.7 L1446.4 592.9 L1448.6 592.9 L1450.4 594 L1450.8 595.3 L1452.8 597.3 L1454.8 598 L1456.8 599.3 L1458.8 601.4 L1460.8 603.2 L1462.8 603.8 L1463.4 603.4 L1465.1 603.8 L1467.4 605.8 L1469.7 606.1 L1472.1 606.9 L1474.4 607.4 L1476.3 608.9 L1476.8 610.1 L1479.1 611.8 L1481.4 613.2 L1483.8 613.4 L1486.1 614.1 L1488.5 613.6 L1489.1 613.6 L1490.8 614.4 L1493.2 615.8 L1495.5 616.9 L1497.8 617.3 L1500.2 618.3 L1502.1 619.1 L1502.5 619.1 L1505 619.5 L1507.4 620.2 L1509.8 621.7 L1512.2 622.7 L1514.6 622.6 L1515 621.9 L1516.9 622.5 L1519.2 624.5 L1521.5 626.1 L1523.8 627.1 L1526 627.1 L1528.3 626.9 L1530.6 628.6 L1530.8 629.2 L1533 630.6 L1535.5 630.5 L1537.9 631.6 L1540.3 631.9 L1542.8 633.6 L1545.2 633.4 L1547.6 634.4 L1550.1 634.1 L1552.5 634.6 L1555 634.2 L1555.6 634 L1557.4 634.7 L1559.8 635.6 L1562.2 636.6 L1564.6 637.4 L1567.1 638.8 L1569.5 639.7 L1571.9 639.9 L1574.3 640.4 L1576.7 640.5 L1578 640.9 L1579.2 640.7 L1581.6 641.3 L1584 641.7 L1586.4 641.8 L1588.8 643.2 L1591.2 644.6 L1593.6 645.3 L1593.6 644.9 L1595 646.7 L1596.4 649.5 L1597.7 651.5 L1598.1 651.7 L1599.9 652 L1602.3 652.8 L1604.7 654 L1607.2 654.4 L1609.6 654.5 L1612 654.8 L1614.5 655.8 L1616 656.6 L1616.8 657.1 L1619.2 657.5 L1621.5 658.8 L1623.8 659.6 L1626.1 660.5 L1627.1 661.2 L1628.4 661.7 L1630.7 663.5 L1632.9 663.8 L1635.2 664.7 L1637.5 665.7 L1639.8 666 L1642.1 667.4 L1644.3 668.2 L1646.6 670.8 L1648.9 671.5 L1651.2 671.9 L1653.5 672.8 L1655.7 674 L1656.2 674.3 L1658.1 674.7 L1660.4 675.3 L1662.8 675.7 L1665.1 676.8 L1667.5 677.7 L1669.8 679.3 L1672.2 679.7 L1674.5 680.4 L1676.9 680.9 L1679.2 682.7 L1680.7 683.6 L1681.6 684.3 L1684.1 684 L1686.5 684.5 L1689 684.3 L1691.4 684.6 L1693.9 685.4 L1696.4 685.9 L1698.8 686.3 L1701.3 686.5 L1703.8 687.2 L1706.2 687.8 L1708.7 688.2 L1711.1 688.6 L1712.1 688.3 L1713.5 688.9 L1715.9 690.2 L1718.2 691.3 L1720.5 691.6 L1722.9 691.7 L1725.2 693.3 L1727.6 694.5 L1729.9 695.2 L1732.2 695.6 L1734.6 695.9 L1736.9 696.5 L1739.2 697.8 L1741.6 699.5 L1743.9 700.8 L1746.3 701.4 L1748.6 701.1 L1750.9 702.3 L1753.3 702.9 L1755.6 704.8" fill="none" stroke="#065aa6" stroke-width="3.3" stroke-linejoin="round" stroke-linecap="square"/>
<path d="M1006.7 692.7 L1006.7 690.4 L1006.7 688.4 L1006.7 685.2 L1006.7 683.1 L1006.7 680 L1006.7 676.3 L1006.7 673.9 L1006.7 671.5 L1006.7 669.5 L1006.7 667.3 L1006.7 665.4 L1006.7 663.3 L1006.7 659.9 L1006.7 657 L1006.7 654.6 L1006.7 652 L1006.7 648.9 L1006.7 646.2 L1006.7 644.1 L1006.7 640.7 L1006.7 638.6 L1006.7 636.5 L1006.7 633.8 L1006.7 632 L1006.7 630.1 L1006.7 628.2 L1006.7 625.2 L1006.7 622.7 L1006.7 620.3 L1006.7 616.9 L1006.8 615 L1006.8 613.5 L1006.8 610.8 L1006.8 608.5 L1006.8 605.6 L1006.8 602.4 L1006.8 599.1 L1006.8 595.7 L1006.8 593.5 L1006.8 590.5 L1006.8 588.7 L1006.8 588 L1006.8 585.2 L1006.8 583.5 L1006.8 580.8 L1006.8 578.4 L1006.8 575.2 L1006.8 572.2 L1006.8 569.7 L1006.8 566.7 L1006.8 564.3 L1006.8 561.4 L1006.8 559.1 L1006.8 556.6 L1006.8 553.5 L1006.8 550 L1006.8 547.9 L1006.8 546.9 L1006.8 545.4 L1006.8 542.9 L1006.8 541.1 L1006.8 539.3 L1006.8 536.7 L1006.8 532.7 L1006.8 530 L1006.8 528.5 L1006.8 526.2 L1006.8 523.1 L1006.8 520.8 L1006.8 518.3 L1006.9 515.2 L1006.9 511.7 L1006.9 508.9 L1006.9 507.3 L1006.9 504.3 L1006.9 501.4 L1006.9 499.2 L1006.9 497.2 L1006.9 494.2 L1006.9 491.9 L1006.9 488.7 L1006.9 486.8 L1006.9 484 L1006.9 480.8 L1006.9 479 L1006.9 475.3 L1006.9 473.6 L1006.9 471.6 L1006.9 469.3 L1006.9 467.8 L1006.9 465.9 L1007 466.6 L1007.2 463.6 L1007.5 459.9 L1007.7 456.7 L1008 452.9 L1008.3 451.3 L1008.5 447.7 L1008.8 444 L1009 441.8 L1009.1 441.5 L1009.2 439.3 L1009.3 434.3 L1009.5 432.4 L1009.6 430.6 L1009.8 427.7 L1009.9 425 L1010.1 421.8 L1010.2 419.9 L1010.3 417.2 L1010.5 413.1 L1010.6 410 L1010.6 410.3 L1010.9 406.9 L1011.2 404.6 L1011.4 400.1 L1011.7 397.7 L1012 394.3 L1012.3 390.8 L1012.6 388.7 L1012.8 385.6 L1013.1 382.6 L1013.4 381 L1013.7 377.8 L1013.7 376.9 L1013.9 374.6 L1014.1 372.6 L1014.4 369.8 L1014.6 365.9 L1014.8 364.7 L1015 362.9 L1015.3 360.3 L1015.5 356 L1015.7 354 L1015.9 352.4 L1016.2 349.4 L1016.4 347.2 L1016.6 343.5 L1016.8 340.2 L1017.1 338.7 L1017.3 335.8 L1017.5 331.9 L1017.8 327.7 L1018 325 L1018.2 322.8 L1018.3 320.2 L1018.5 318 L1018.9 315.4 L1019.3 313.4 L1019.7 313.2 L1020 311.3 L1020.4 310.2 L1020.8 307.2 L1021.2 305.2 L1021.5 303 L1021.9 299 L1022.3 297.7 L1022.7 294.2 L1023 292.8 L1023.3 293 L1025.4 293.4 L1026.5 293.6 L1026.9 293.2 L1027.7 295.8 L1028.6 298.3 L1029.4 300 L1030.2 303 L1030.8 305.1 L1031.1 304.3 L1032.3 301.6 L1033.6 297.3 L1034.8 296.9 L1035.5 295.7 L1036.4 297.8 L1038.4 299.8 L1040 301.5 L1040.3 302.2 L1041.8 299.6 L1043.3 295.9 L1044.7 292.6 L1044.8 293.3 L1045.8 291.3 L1046.7 289.1 L1047.7 288.6 L1048.7 288.5 L1049.4 288.4 L1049.7 289.5 L1050.6 291 L1051.5 294.6 L1052.5 296.1 L1052.5 295.3 L1053 297.9 L1053.4 299.7 L1053.9 303.9 L1054.4 305.7 L1054.9 308.3 L1055.4 310.7 L1055.6 310.9 L1056 312.1 L1056.8 312.9 L1057.5 315.7 L1058.2 317.1 L1059 320.1 L1059.7 322.8 L1060.2 326.1 L1060.5 327.7 L1061.7 331.2 L1062.8 335.2 L1064 338.7 L1064.9 341.5 L1065.3 341.7 L1067 346 L1068.8 350.2 L1070.6 354.2 L1071.1 356.7 L1072.7 360.2 L1075 364.4 L1077.3 367.6 L1078.9 369.7 L1079.3 371.8 L1080.7 374.5 L1082.1 378.3 L1083.5 381 L1084.8 383.1 L1085.7 385.1 L1086.3 385 L1087.9 386 L1089.5 387.1 L1091.1 389 L1092.7 393.2 L1093.2 393.5 L1094.6 394 L1096.7 397.4 L1098.8 399 L1100.8 398.5 L1102.2 397.9 L1102.8 398.7 L1104.6 401.7 L1106.3 404.7 L1108.1 406.3 L1109.9 409.7 L1111.2 410.5 L1111.5 410.5 L1112.8 413.7 L1114 415.4 L1115.2 416.4 L1116.5 420.6 L1117.7 425.1 L1118.7 427.7 L1118.9 429.1 L1120.1 431.9 L1121.2 437.3 L1122.3 439.4 L1123.4 440.7 L1124.5 442.3 L1125.6 443.4 L1126.2 443.4 L1127.3 443.2 L1129.5 445.6 L1131.8 447.3 L1134.1 450.5 L1135.2 451.1 L1136.5 451.6 L1138.9 452 L1141.4 450.9 L1143.9 450.5 L1144.2 448.6 L1145.9 450.7 L1147.8 452 L1149.8 454.1 L1150.2 454.1 L1152 457 L1154.3 458.7 L1156.2 459.3 L1156.5 461 L1158.6 461 L1160.6 460.2 L1162.2 457 L1162.6 457.7 L1164.5 458.7 L1166.3 460.4 L1168.1 461 L1168.2 462.1 L1169.7 463.3 L1171.2 465 L1172.8 467 L1174 468.7 L1174.4 467.9 L1176.4 468.5 L1178.5 469.2 L1180.5 472.8 L1182.6 475 L1182.9 476.4 L1185 475.8 L1187.4 476.4 L1189.9 477.3 L1192.3 477.7 L1194.7 479 L1194.9 478.3 L1197 479.4 L1199.2 481.1 L1201.4 483.5 L1203.6 485.2 L1205.9 485.7 L1206.9 486.1 L1208.1 486.5 L1210.4 486.2 L1212.7 486.7 L1214.9 486.6 L1217.2 488.3 L1218.8 487.7 L1219.4 488.8 L1221.5 491 L1223.5 494 L1225.6 496.3 L1227.6 496.5 L1227.8 495.7 L1230 497.2 L1232.4 498.3 L1234.7 499.8 L1237.1 500 L1239.5 501.7 L1239.8 501.3 L1241.7 503 L1243.9 504 L1246.1 505.5 L1248.4 506.3 L1250.6 506.8 L1251.8 508.6 L1252.9 507.3 L1255.2 507.7 L1257.6 509.5 L1260 510 L1262.3 510.6 L1263.7 509.6 L1264.7 509.8 L1267.1 510.1 L1269.5 510.3 L1271.9 511.3 L1272.8 512.5 L1274.1 513 L1276.2 515.2 L1278.3 517.9 L1280.4 519 L1282.5 520.8 L1284.6 521.1 L1285.6 522.7 L1286.8 523.1 L1289.1 522.7 L1291.3 524.1 L1293.6 525.1 L1295.8 527.2 L1298.1 528.6 L1298.6 528.7 L1300.2 530.1 L1302.2 533.1 L1304.2 534.4 L1306.2 536.7 L1308.2 536.1 L1310.2 539.2 L1311.5 541 L1312.3 541.9 L1314.5 542.1 L1316.7 542.5 L1318.9 544 L1321.1 545.3 L1323.3 545.3 L1324.5 545.2 L1325.5 545.9 L1327.6 546.2 L1329.8 548.5 L1332 550 L1334.1 554 L1336.3 554.6 L1337.3 554.8 L1338.5 553.9 L1340.8 554.3 L1343.1 554.7 L1345.4 556.2 L1347.7 557.6 L1350 559.7 L1350.3 559.9 L1352.3 560.7 L1354.5 561.1 L1356.8 560.9 L1359 562.2 L1361.3 563.2 L1363.2 564.7 L1363.6 564.8 L1365.9 567 L1368.3 568.2 L1370.6 569.3 L1372.9 569.7 L1375.3 570.9 L1376.1 571.2 L1377.6 571 L1379.8 571.6 L1382.1 573.4 L1384.3 573.8 L1386.6 575.7 L1388.9 576.1 L1389 575.5 L1391 576.3 L1393.1 576.3 L1395.2 579.9 L1397.3 581.4 L1399.4 583.3 L1401.5 585 L1401.9 585 L1403.7 586.9 L1405.9 587.6 L1408.1 588.7 L1410.3 590.5 L1412.5 591.8 L1414.8 593.2 L1414.9 593.1 L1417.1 592.3 L1419.4 594.3 L1421.8 595.1 L1424.1 597 L1426.5 597.1 L1427.8 597.3 L1428.8 597.9 L1431.1 598.5 L1433.5 598.4 L1435.8 598.2 L1438.2 598.8 L1440.5 600 L1440.7 600.5 L1442.9 601.9 L1445.2 603.1 L1447.6 604.4 L1449.9 605.5 L1452.2 606.7 L1453.6 608.4 L1454.6 608.5 L1456.8 609.9 L1459.1 610.1 L1461.3 610.5 L1463.6 611.3 L1465.8 612.1 L1466.5 614.1 L1468.1 614.8 L1470.5 615.6 L1472.8 614.7 L1475.2 616.2 L1477.5 617.2 L1479.5 619.1 L1479.9 618.2 L1482.2 620.4 L1484.6 621.2 L1486.9 621.8 L1489.3 622.1 L1491.6 622.9 L1492.4 623.9 L1494 623.7 L1496.4 624.5 L1498.8 624.6 L1501.2 626 L1503.7 626.3 L1505.3 626.1 L1506.1 625.6 L1508.4 626 L1510.8 627.3 L1513.2 628.5 L1515.6 630.2 L1517.9 630.9 L1519.8 631.6 L1520.3 631.8 L1522.7 633.1 L1525.2 633.4 L1527.6 634.5 L1530 635.1 L1530.8 635.1 L1532.5 634.8 L1534.9 636 L1537.4 635.3 L1539.8 636.7 L1542.2 636 L1544.7 638 L1547.1 637 L1549.6 637.1 L1552 638 L1554.5 637.9 L1556.9 638.7 L1559.3 639.4 L1561.8 641 L1564.2 641.7 L1566.7 641.8 L1568.3 642.4 L1569.1 642.4 L1571.5 642.7 L1573.9 642.5 L1576.3 643.1 L1578.7 644.1 L1581.1 646 L1583.5 647.3 L1585.9 647.2 L1588.3 647.9 L1590.7 648.7 L1593.1 649.9 L1595.5 650.6 L1597.9 651.4 L1600.3 652.3 L1602.7 652.7 L1605.1 654.2 L1605.7 653.3 L1607.5 654.1 L1609.9 653.9 L1612.3 656.3 L1614.8 657.8 L1617.2 658.4 L1619.6 658.8 L1622 659.7 L1624.4 660.8 L1626.8 661.9 L1629.2 661 L1631.6 662.2 L1634.1 661.6 L1636.5 662.8 L1638.9 663 L1641.3 664.8 L1643.2 665.4 L1643.7 665.2 L1646.1 665.1 L1648.5 666.5 L1650.9 667.5 L1653.2 669 L1655.6 669.8 L1658 670.5 L1660.4 670.9 L1662.8 671.3 L1665.2 673 L1667.6 674.4 L1670 674.9 L1672.4 674.4 L1674.7 675.7 L1677.1 676.7 L1679.5 678.5 L1680.7 678.4 L1681.9 678.4 L1684.3 678.8 L1686.7 679.4 L1689.1 679.7 L1691.5 680.6 L1693.9 681.1 L1696.3 682.8 L1698.7 683.4 L1701.1 684.4 L1703.5 684.5 L1705.9 685.7 L1708.3 685.8 L1710.7 686.9 L1713.1 687.5 L1715.5 689.5 L1717.9 689.7 L1718.1 690.2 L1720.3 690.6 L1722.7 691.8 L1725.2 691.4 L1727.6 692.4 L1730 692.4 L1732.4 693.2 L1734.8 693.1 L1737.2 694.4 L1739.6 694.5 L1740.6 694.3 L1742 694.5 L1744.2 695.8 L1746.5 698.1 L1748.8 700 L1751.1 701.6 L1753.3 702 L1755.6 702.7 L1755.6 706.4 L1753.3 705.3 L1751.1 705 L1748.8 703.8 L1746.5 701.8 L1744.2 699.8 L1742 698.8 L1740.6 699.3 L1739.6 699.5 L1737.2 699.3 L1734.8 698.7 L1732.4 698.6 L1730 698 L1727.6 698 L1725.2 697.2 L1722.7 697.6 L1720.3 696.2 L1718.1 695.9 L1717.9 695.1 L1715.5 694.4 L1713.1 692.4 L1710.7 691.8 L1708.3 690.7 L1705.9 690.8 L1703.5 689.9 L1701.1 690.1 L1698.7 689.5 L1696.3 688.9 L1693.9 687.1 L1691.5 686.9 L1689.1 685.3 L1686.7 685.4 L1684.3 684.6 L1681.9 684.9 L1680.7 685 L1679.5 684.7 L1677.1 683.4 L1674.7 681.9 L1672.4 681 L1670 681.3 L1667.6 680.3 L1665.2 679.2 L1662.8 678.2 L1660.4 677.8 L1658 677.3 L1655.6 676.4 L1653.2 675.8 L1650.9 674.6 L1648.5 673.6 L1646.1 672.7 L1643.7 673.4 L1643.2 673.7 L1641.3 673.3 L1638.9 671.2 L1636.5 669.9 L1634.1 669.1 L1631.6 669.3 L1629.2 669.1 L1626.8 669.9 L1624.4 668.9 L1622 668.9 L1619.6 667.7 L1617.2 667.6 L1614.8 666.6 L1612.3 665.6 L1609.9 664 L1607.5 663.5 L1605.7 663 L1605.1 663.7 L1602.7 662.8 L1600.3 662.4 L1597.9 660.8 L1595.5 660.4 L1593.1 659.7 L1590.7 658.5 L1588.3 656.9 L1585.9 656.6 L1583.5 656.4 L1581.1 655.7 L1578.7 654 L1576.3 653.3 L1573.9 653.4 L1571.5 653 L1569.1 653.2 L1568.3 652.7 L1566.7 652.2 L1564.2 651.5 L1561.8 650.5 L1559.3 649.6 L1556.9 648.8 L1554.5 649.4 L1552 649.3 L1549.6 649.3 L1547.1 648.7 L1544.7 649.1 L1542.2 647.3 L1539.8 646.5 L1537.4 644.8 L1534.9 645.3 L1532.5 643.9 L1530.8 643.8 L1530 644 L1527.6 643.3 L1525.2 642.7 L1522.7 642.1 L1520.3 642.2 L1519.8 643.1 L1517.9 642.7 L1515.6 643.1 L1513.2 641.3 L1510.8 640.6 L1508.4 638.5 L1506.1 637.6 L1505.3 637.1 L1503.7 636.5 L1501.2 635.9 L1498.8 634 L1496.4 633.5 L1494 632.9 L1492.4 632.6 L1491.6 631.8 L1489.3 631.3 L1486.9 631.4 L1484.6 631.2 L1482.2 631 L1479.9 630.1 L1479.5 630.9 L1477.5 629.7 L1475.2 628.6 L1472.8 627.8 L1470.5 628.2 L1468.1 627.1 L1466.5 627.3 L1465.8 625.4 L1463.6 624.4 L1461.3 622.2 L1459.1 621.5 L1456.8 621 L1454.6 619 L1453.6 618.4 L1452.2 617.1 L1449.9 616.3 L1447.6 615.2 L1445.2 615.4 L1442.9 614.1 L1440.7 613 L1440.5 612.2 L1438.2 611.5 L1435.8 611.4 L1433.5 611.4 L1431.1 611.8 L1428.8 610.5 L1427.8 610.7 L1426.5 610 L1424.1 609.3 L1421.8 607.6 L1419.4 606.2 L1417.1 604.9 L1414.9 605.1 L1414.8 605.4 L1412.5 604.3 L1410.3 602.2 L1408.1 601 L1405.9 599.6 L1403.7 598.6 L1401.9 598.2 L1401.5 598.4 L1399.4 598.1 L1397.3 596.6 L1395.2 594.8 L1393.1 592 L1391 590.9 L1389 589.7 L1388.9 590.3 L1386.6 589.3 L1384.3 588.2 L1382.1 588 L1379.8 586.5 L1377.6 585.3 L1376.1 584 L1375.3 583.3 L1372.9 581.9 L1370.6 580 L1368.3 578.7 L1365.9 578.5 L1363.6 577 L1363.2 577.5 L1361.3 576.1 L1359 576.4 L1356.8 575.4 L1354.5 574.9 L1352.3 574.8 L1350.3 574.4 L1350 574.5 L1347.7 573 L1345.4 571.9 L1343.1 570 L1340.8 568.8 L1338.5 567.8 L1337.3 568.2 L1336.3 567 L1334.1 565.5 L1332 562.5 L1329.8 561.6 L1327.6 559.5 L1325.5 559.7 L1324.5 560.2 L1323.3 560.3 L1321.1 559.5 L1318.9 558 L1316.7 556.4 L1314.5 555.3 L1312.3 553.5 L1311.5 552.9 L1310.2 553 L1308.2 550.8 L1306.2 550.7 L1304.2 549.3 L1302.2 548.6 L1300.2 546.3 L1298.6 544.7 L1298.1 543.8 L1295.8 543.3 L1293.6 541.1 L1291.3 540.2 L1289.1 538.6 L1286.8 538.1 L1285.6 538.3 L1284.6 536.7 L1282.5 536.8 L1280.4 535.5 L1278.3 534.4 L1276.2 532.7 L1274.1 529.4 L1272.8 529.1 L1271.9 527.6 L1269.5 526.1 L1267.1 525.3 L1264.7 525.6 L1263.7 525.9 L1262.3 527.5 L1260 526.5 L1257.6 527.2 L1255.2 526.5 L1252.9 525.4 L1251.8 525.9 L1250.6 523.6 L1248.4 523.5 L1246.1 522.1 L1243.9 520.3 L1241.7 518.9 L1239.8 517.7 L1239.5 518.3 L1237.1 517 L1234.7 515.6 L1232.4 514.4 L1230 513.6 L1227.8 513.7 L1227.6 514.2 L1225.6 513.9 L1223.5 513.7 L1221.5 511.9 L1219.4 510.3 L1218.8 508.3 L1217.2 509.1 L1214.9 507.7 L1212.7 507.2 L1210.4 505.5 L1208.1 505.3 L1206.9 503.7 L1205.9 503.3 L1203.6 501.2 L1201.4 499.5 L1199.2 498.2 L1197 496.6 L1194.9 497.2 L1194.7 496.9 L1192.3 496.8 L1189.9 497.1 L1187.4 495.3 L1185 495.9 L1182.9 496.6 L1182.6 497.4 L1180.5 496.2 L1178.5 492.2 L1176.4 491.6 L1174.4 489.9 L1174 490.1 L1172.8 486.8 L1171.2 483 L1169.7 481.4 L1168.2 479.6 L1168.1 477.3 L1166.3 476.9 L1164.5 475 L1162.6 475 L1162.2 474.8 L1160.6 478 L1158.6 479.8 L1156.5 479.1 L1156.2 479 L1154.3 477.9 L1152 476.3 L1150.2 475.4 L1149.8 476.2 L1147.8 474.7 L1145.9 473.3 L1144.2 472.2 L1143.9 472.7 L1141.4 471.9 L1138.9 471.9 L1136.5 472.6 L1135.2 473.5 L1134.1 473.8 L1131.8 472.3 L1129.5 470 L1127.3 469.8 L1126.2 470 L1125.6 468.8 L1124.5 466.9 L1123.4 464.1 L1122.3 461.1 L1121.2 458.2 L1120.1 455.3 L1118.9 451.8 L1118.7 450.5 L1117.7 450.6 L1116.5 450 L1115.2 446.8 L1114 446.3 L1112.8 445.3 L1111.5 443 L1111.2 442.1 L1109.9 441.8 L1108.1 441.8 L1106.3 438.5 L1104.6 436.5 L1102.8 435.5 L1102.2 434.9 L1100.8 434.9 L1098.8 434.1 L1096.7 434 L1094.6 433 L1093.2 431.6 L1092.7 430.9 L1091.1 430.3 L1089.5 428.9 L1087.9 426.5 L1086.3 424.9 L1085.7 424.8 L1084.8 422.6 L1083.5 419.7 L1082.1 417.8 L1080.7 415.9 L1079.3 414.5 L1078.9 414.1 L1077.3 415.1 L1075 414.3 L1072.7 413.4 L1071.1 413.6 L1070.6 412.4 L1068.8 411.5 L1067 409.9 L1065.3 409.2 L1064.9 409.5 L1064 408.1 L1062.8 406.6 L1061.7 405.4 L1060.5 403.7 L1060.2 403.1 L1059.7 400.9 L1059 397.9 L1058.2 395.1 L1057.5 392 L1056.8 389.4 L1056 387 L1055.6 385.4 L1055.4 385.7 L1054.9 383 L1054.4 381.1 L1053.9 379.1 L1053.4 376.2 L1053 374.4 L1052.5 372.1 L1052.5 372.5 L1051.5 369.6 L1050.6 366.9 L1049.7 365.3 L1049.4 364.4 L1048.7 365 L1047.7 368.2 L1046.7 370.7 L1045.8 373.6 L1044.8 375.6 L1044.7 375.1 L1043.3 377 L1041.8 378.9 L1040.3 381.5 L1040 381.8 L1038.4 381.5 L1036.4 380.7 L1035.5 380.8 L1034.8 381.4 L1033.6 383.7 L1032.3 385.8 L1031.1 387.5 L1030.8 388 L1030.2 386.2 L1029.4 384.9 L1028.6 383.3 L1027.7 381.9 L1026.9 379.7 L1026.5 378.8 L1025.4 378.3 L1023.3 377.6 L1023 376.7 L1022.7 378.4 L1022.3 381.1 L1021.9 383.1 L1021.5 385.6 L1021.2 387.5 L1020.8 390.3 L1020.4 392.8 L1020 395.8 L1019.7 399.1 L1019.3 402.3 L1018.9 405.1 L1018.5 408.2 L1018.3 410.6 L1018.2 411.2 L1018 413.5 L1017.8 416.1 L1017.5 419.2 L1017.3 421 L1017.1 422.6 L1016.8 425.2 L1016.6 427.3 L1016.4 429.5 L1016.2 431.5 L1015.9 434.1 L1015.7 437 L1015.5 439.1 L1015.3 442.1 L1015 444.1 L1014.8 445.8 L1014.6 448.6 L1014.4 451.9 L1014.1 455.8 L1013.9 458.5 L1013.7 460.9 L1013.7 462.7 L1013.4 464.3 L1013.1 466.2 L1012.8 468 L1012.6 469.8 L1012.3 472 L1012 473.7 L1011.7 476.8 L1011.4 479.5 L1011.2 480.9 L1010.9 484 L1010.6 486.4 L1010.6 487.5 L1010.5 490 L1010.3 492 L1010.2 495.8 L1010.1 498.7 L1009.9 500.8 L1009.8 502.8 L1009.6 505.7 L1009.5 508.7 L1009.3 511.8 L1009.2 513.8 L1009.1 516 L1009 515.6 L1008.8 518 L1008.5 520.2 L1008.3 521.2 L1008 524.3 L1007.7 526.9 L1007.5 529.9 L1007.2 532.2 L1007 534.6 L1006.9 535.4 L1006.9 536.5 L1006.9 539.4 L1006.9 542.4 L1006.9 543.8 L1006.9 546.5 L1006.9 548.6 L1006.9 551.3 L1006.9 553.2 L1006.9 554.9 L1006.9 557.9 L1006.9 560.9 L1006.9 563.8 L1006.9 566.4 L1006.9 570 L1006.9 572.8 L1006.9 575.3 L1006.9 577.6 L1006.9 580 L1006.9 581.7 L1006.9 583 L1006.8 586.1 L1006.8 587.9 L1006.8 590.6 L1006.8 593.3 L1006.8 596.3 L1006.8 598.9 L1006.8 601.7 L1006.8 605 L1006.8 606.5 L1006.8 608.1 L1006.8 611.1 L1006.8 613.1 L1006.8 614.7 L1006.8 616.9 L1006.8 620.6 L1006.8 623.4 L1006.8 626.6 L1006.8 630.2 L1006.8 632.6 L1006.8 635.5 L1006.8 637.7 L1006.8 640.5 L1006.8 642 L1006.8 644.2 L1006.8 646.6 L1006.8 648.6 L1006.8 651.1 L1006.8 653.9 L1006.8 656.9 L1006.8 659.3 L1006.8 662 L1006.8 664.8 L1006.8 666.8 L1006.8 669.4 L1006.8 671.4 L1006.8 675.5 L1006.8 678.4 L1006.8 680.5 L1006.8 682.6 L1006.8 684.5 L1006.7 686.5 L1006.7 687.4 L1006.7 689.1 L1006.7 691.4 L1006.7 694.9 L1006.7 697.5 L1006.7 700.1 L1006.7 702.7 L1006.7 705.9 L1006.7 709.1 L1006.7 710.5 L1006.7 712.8 L1006.7 715.5 L1006.7 717.5 L1006.7 719.6 L1006.7 722.3 L1006.7 725.5 L1006.7 727.8 L1006.7 727.8 L1006.7 727.8 L1006.7 727.8 L1006.7 727.8 L1006.7 727.8 L1006.7 727.8 L1006.7 727.8 L1006.7 727.8 L1006.7 727.8 L1006.7 727.8 L1006.7 727.8 L1006.7 727.8 L1006.7 727.8 Z" fill="#ff6a00" fill-opacity="0.2" stroke="#ff6a00" stroke-opacity="0.2" stroke-width="2" stroke-linejoin="round"/>
<path d="M1006.7 727.8 L1006.7 725.3 L1006.7 722.8 L1006.7 720.3 L1006.7 717.8 L1006.7 715.3 L1006.7 712.8 L1006.7 710.3 L1006.7 707.8 L1006.7 705.3 L1006.7 702.8 L1006.7 700.3 L1006.7 697.8 L1006.7 695.3 L1006.7 692.8 L1006.7 690.3 L1006.7 687.8 L1006.7 685.3 L1006.7 682.8 L1006.7 680.3 L1006.7 677.8 L1006.7 675.3 L1006.7 672.8 L1006.7 670.3 L1006.7 667.8 L1006.7 665.2 L1006.7 662.7 L1006.7 660.2 L1006.7 657.7 L1006.7 655.2 L1006.7 652.7 L1006.8 650.2 L1006.8 647.7 L1006.8 645.2 L1006.8 642.7 L1006.8 640.2 L1006.8 637.7 L1006.8 635.2 L1006.8 632.7 L1006.8 630.2 L1006.8 627.7 L1006.8 625.2 L1006.8 622.7 L1006.8 620.2 L1006.8 617.7 L1006.8 615.2 L1006.8 612.7 L1006.8 610.2 L1006.8 607.7 L1006.8 605.2 L1006.8 602.7 L1006.8 600.2 L1006.8 597.7 L1006.8 595.2 L1006.8 592.7 L1006.8 590.2 L1006.8 587.7 L1006.8 585.2 L1006.8 582.7 L1006.8 580.2 L1006.8 577.7 L1006.8 575.2 L1006.8 572.7 L1006.8 570.2 L1006.8 567.7 L1006.8 565.2 L1006.8 562.7 L1006.8 560.2 L1006.8 557.7 L1006.8 555.2 L1006.8 552.7 L1006.9 550.2 L1006.9 547.7 L1006.9 545.2 L1006.9 542.6 L1006.9 540.1 L1006.9 537.6 L1006.9 535.1 L1006.9 532.6 L1006.9 530.1 L1006.9 527.6 L1006.9 525.1 L1006.9 522.6 L1006.9 520.1 L1006.9 517.6 L1006.9 515.1 L1006.9 512.6 L1006.9 510.1 L1006.9 507.6 L1006.9 505.1 L1006.9 502.6 L1006.9 500.6 L1007 500.1 L1007.2 497.6 L1007.5 495.1 L1007.7 492.7 L1008 490.2 L1008.3 487.7 L1008.5 485.2 L1008.8 482.7 L1009 480.2 L1009.1 480 L1009.2 477.7 L1009.3 475.2 L1009.5 472.7 L1009.6 470.2 L1009.8 467.7 L1009.9 465.2 L1010.1 462.7 L1010.2 460.2 L1010.3 457.7 L1010.5 455.2 L1010.6 452.7 L1010.6 452.4 L1010.9 450.2 L1011.2 447.8 L1011.4 445.3 L1011.7 442.8 L1012 440.3 L1012.3 437.8 L1012.6 435.3 L1012.8 432.8 L1013.1 430.4 L1013.4 427.9 L1013.7 425.4 L1013.7 424.9 L1013.9 422.9 L1014.1 420.4 L1014.4 417.9 L1014.6 415.4 L1014.8 412.9 L1015 410.4 L1015.3 407.9 L1015.5 405.4 L1015.7 403 L1015.9 400.5 L1016.2 398 L1016.4 395.5 L1016.6 393 L1016.8 390.5 L1017.1 388 L1017.3 385.5 L1017.5 383 L1017.8 380.5 L1018 378 L1018.2 375.5 L1018.3 374.7 L1018.5 373.1 L1018.9 370.6 L1019.3 368.1 L1019.7 365.6 L1020 363.2 L1020.4 360.7 L1020.8 358.2 L1021.2 355.8 L1021.5 353.3 L1021.9 350.8 L1022.3 348.3 L1022.7 345.9 L1023 343.7 L1023.3 343.8 L1025.4 345.1 L1026.5 345.7 L1026.9 346.9 L1027.7 349.3 L1028.6 351.6 L1029.4 354 L1030.2 356.3 L1030.8 358.1 L1031.1 357.6 L1032.3 355.4 L1033.6 353.2 L1034.8 351.1 L1035.5 349.9 L1036.4 350.5 L1038.4 352.1 L1040 353.3 L1040.3 353 L1041.8 351 L1043.3 349 L1044.7 347.1 L1044.8 347 L1045.8 344.7 L1046.7 342.3 L1047.7 340 L1048.7 337.7 L1049.4 336.1 L1049.7 336.8 L1050.6 339.1 L1051.5 341.4 L1052.5 343.7 L1052.5 343.7 L1053 346.2 L1053.4 348.6 L1053.9 351.1 L1054.4 353.5 L1054.9 356 L1055.4 358.5 L1055.6 359.5 L1056 360.9 L1056.8 363.3 L1057.5 365.7 L1058.2 368.1 L1059 370.4 L1059.7 372.8 L1060.2 374.7 L1060.5 375.2 L1061.7 377.4 L1062.8 379.6 L1064 381.8 L1064.9 383.6 L1065.3 384 L1067 385.7 L1068.8 387.5 L1070.6 389.3 L1071.1 389.8 L1072.7 390.5 L1075 391.5 L1077.3 392.5 L1078.9 393.2 L1079.3 393.9 L1080.7 395.9 L1082.1 398 L1083.5 400.1 L1084.8 402.2 L1085.7 403.6 L1086.3 404.2 L1087.9 406.2 L1089.5 408.1 L1091.1 410 L1092.7 411.9 L1093.2 412.5 L1094.6 413.5 L1096.7 414.9 L1098.8 416.4 L1100.8 417.8 L1102.2 418.7 L1102.8 419.2 L1104.6 421 L1106.3 422.8 L1108.1 424.6 L1109.9 426.3 L1111.2 427.7 L1111.5 428.1 L1112.8 430.3 L1114 432.2 L1115.2 434.5 L1116.5 436.6 L1117.7 439 L1118.7 440.8 L1118.9 441.6 L1120.1 443.7 L1121.2 445.9 L1122.3 448 L1123.4 450.1 L1124.5 452.1 L1125.6 454.3 L1126.2 455.7 L1127.3 456.1 L1129.5 457.2 L1131.8 458.4 L1134.1 459.8 L1135.2 460.3 L1136.5 460.6 L1138.9 460.7 L1141.4 461 L1143.9 461.2 L1144.2 461.1 L1145.9 462.4 L1147.8 463.7 L1149.8 465.7 L1150.2 466.2 L1152 467.1 L1154.3 467.7 L1156.2 468.8 L1156.5 469.3 L1158.6 468.1 L1160.6 466.1 L1162.2 464.2 L1162.6 465.3 L1164.5 466.4 L1166.3 468.7 L1168.1 469.8 L1168.2 471 L1169.7 472.6 L1171.2 474.5 L1172.8 476.2 L1174 478.9 L1174.4 478.5 L1176.4 479.6 L1178.5 480.1 L1180.5 483.1 L1182.6 484.5 L1182.9 484.2 L1185 483.9 L1187.4 484.7 L1189.9 486.3 L1192.3 486.8 L1194.7 487.3 L1194.9 486.6 L1197 486.8 L1199.2 487.8 L1201.4 489.5 L1203.6 491.3 L1205.9 493.2 L1206.9 493.6 L1208.1 494.6 L1210.4 494.6 L1212.7 495.9 L1214.9 496.1 L1217.2 497.5 L1218.8 498 L1219.4 499.3 L1221.5 501.3 L1223.5 503.1 L1225.6 504 L1227.6 504.9 L1227.8 503.8 L1230 504.7 L1232.4 505.6 L1234.7 507 L1237.1 507.9 L1239.5 508.7 L1239.8 508.9 L1241.7 510.3 L1243.9 512 L1246.1 513.7 L1248.4 514.9 L1250.6 515.5 L1251.8 516.1 L1252.9 515.6 L1255.2 516.5 L1257.6 517.8 L1260 518.1 L1262.3 519.5 L1263.7 519.2 L1264.7 519.2 L1267.1 519.5 L1269.5 520.2 L1271.9 521.2 L1272.8 521.9 L1274.1 522.4 L1276.2 524.4 L1278.3 526 L1280.4 527.6 L1282.5 529 L1284.6 529.4 L1285.6 530.3 L1286.8 531.3 L1289.1 531.8 L1291.3 532.7 L1293.6 533 L1295.8 535.2 L1298.1 536.3 L1298.6 536.2 L1300.2 537.4 L1302.2 539.8 L1304.2 541.5 L1306.2 542.9 L1308.2 542.6 L1310.2 544.8 L1311.5 545.6 L1312.3 546.3 L1314.5 547 L1316.7 548 L1318.9 550.2 L1321.1 552 L1323.3 553.2 L1324.5 553.3 L1325.5 553.6 L1327.6 553.8 L1329.8 555.1 L1332 556.4 L1334.1 559.3 L1336.3 560.4 L1337.3 560.3 L1338.5 559.6 L1340.8 560.6 L1343.1 561.3 L1345.4 563 L1347.7 564.2 L1350 566.9 L1350.3 567 L1352.3 567.5 L1354.5 567.8 L1356.8 568.6 L1359 569.8 L1361.3 570.5 L1363.2 572.1 L1363.6 572.2 L1365.9 574 L1368.3 574.2 L1370.6 575.2 L1372.9 575.7 L1375.3 576.5 L1376.1 576.6 L1377.6 577 L1379.8 578.1 L1382.1 579.6 L1384.3 580.8 L1386.6 582.4 L1388.9 583.7 L1389 583.5 L1391 584.5 L1393.1 585.3 L1395.2 587.7 L1397.3 589.4 L1399.4 590.9 L1401.5 591.8 L1401.9 591.6 L1403.7 592.7 L1405.9 593.4 L1408.1 594.7 L1410.3 596.1 L1412.5 597.8 L1414.8 598.8 L1414.9 598.5 L1417.1 598.3 L1419.4 599.8 L1421.8 600.6 L1424.1 602.7 L1426.5 603.6 L1427.8 604.1 L1428.8 604.4 L1431.1 605.5 L1433.5 605.8 L1435.8 605.6 L1438.2 605.6 L1440.5 606.8 L1440.7 607.1 L1442.9 608.3 L1445.2 609.5 L1447.6 609.8 L1449.9 610.3 L1452.2 611.1 L1453.6 612.9 L1454.6 613.4 L1456.8 614.4 L1459.1 614.7 L1461.3 615.5 L1463.6 617.1 L1465.8 618.2 L1466.5 619.8 L1468.1 620.3 L1470.5 621.5 L1472.8 621.2 L1475.2 622.4 L1477.5 623.2 L1479.5 625 L1479.9 624.5 L1482.2 625.7 L1484.6 626.4 L1486.9 627 L1489.3 627.1 L1491.6 627.3 L1492.4 627.9 L1494 627.9 L1496.4 628.3 L1498.8 628.9 L1501.2 630.3 L1503.7 631.3 L1505.3 631.5 L1506.1 631.7 L1508.4 632.3 L1510.8 633.5 L1513.2 634.4 L1515.6 636.2 L1517.9 636.6 L1519.8 637 L1520.3 636.4 L1522.7 637.4 L1525.2 638.2 L1527.6 639 L1530 639.4 L1530.8 639.7 L1532.5 639.7 L1534.9 640.9 L1537.4 640 L1539.8 641.3 L1542.2 641.2 L1544.7 642.6 L1547.1 642.3 L1549.6 642.8 L1552 643.8 L1554.5 644 L1556.9 644.2 L1559.3 644.9 L1561.8 646.3 L1564.2 646.7 L1566.7 647 L1568.3 647.4 L1569.1 647.8 L1571.5 647.9 L1573.9 647.7 L1576.3 648.3 L1578.7 649.3 L1581.1 650.9 L1583.5 651.8 L1585.9 651.9 L1588.3 652.3 L1590.7 653.3 L1593.1 654.4 L1595.5 655.3 L1597.9 655.7 L1600.3 657.2 L1602.7 657.9 L1605.1 659.2 L1605.7 658.3 L1607.5 659 L1609.9 659.4 L1612.3 661.3 L1614.8 662.4 L1617.2 663.2 L1619.6 663.1 L1622 664 L1624.4 664.6 L1626.8 665.7 L1629.2 665.1 L1631.6 665.5 L1634.1 665.5 L1636.5 666.7 L1638.9 667.6 L1641.3 669.4 L1643.2 669.6 L1643.7 669.5 L1646.1 669.3 L1648.5 670.2 L1650.9 671.3 L1653.2 672.8 L1655.6 673.8 L1658 674.5 L1660.4 674.8 L1662.8 675.2 L1665.2 676.6 L1667.6 677.4 L1670 678 L1672.4 677.7 L1674.7 678.7 L1677.1 679.8 L1679.5 681.3 L1680.7 681.7 L1681.9 681.6 L1684.3 681.7 L1686.7 682.4 L1689.1 682.8 L1691.5 684 L1693.9 684.2 L1696.3 685.9 L1698.7 686.3 L1701.1 687.4 L1703.5 687.2 L1705.9 688.1 L1708.3 688.4 L1710.7 689.4 L1713.1 690.1 L1715.5 691.7 L1717.9 692.3 L1718.1 692.9 L1720.3 693 L1722.7 694.5 L1725.2 694 L1727.6 695.2 L1730 695 L1732.4 695.8 L1734.8 695.8 L1737.2 696.7 L1739.6 696.9 L1740.6 696.5 L1742 696.6 L1744.2 697.7 L1746.5 699.8 L1748.8 701.8 L1751.1 703.3 L1753.3 703.8 L1755.6 704.6" fill="none" stroke="#ff6a00" stroke-width="3.3" stroke-linejoin="round" stroke-linecap="square"/>
<path d="M1008.4 39.4 L1010.9 39.4 L1013.4 39.4 L1015.7 39.4 L1015.7 39.4 L1015.7 39.4 L1015.8 39.4 L1015.8 39.4 L1015.9 39.4 L1015.9 39.4 L1016 39.4 L1016 40 L1016 42.5 L1016.1 44.6 L1016.1 46.4 L1016.2 48.7 L1016.2 50.3 L1016.3 53.1 L1016.3 54.8 L1016.4 57.5 L1016.4 61 L1016.5 63.5 L1016.5 66.4 L1016.6 68.6 L1016.6 71.3 L1016.7 74.4 L1016.7 76.5 L1016.8 78.1 L1016.8 80.2 L1016.8 80.9 L1016.9 83.7 L1017 86 L1017 88.2 L1017.1 91.4 L1017.2 93.5 L1017.3 95.5 L1017.3 97.5 L1017.4 99.7 L1017.5 102.3 L1017.6 105.2 L1017.7 107.7 L1017.7 110.4 L1017.8 113.2 L1017.9 115.7 L1017.9 116.8 L1018 117.5 L1018.1 120.3 L1018.3 122.7 L1018.4 125.4 L1018.5 127.7 L1018.7 130 L1018.8 132.8 L1018.9 135.4 L1019 138 L1019.2 140.5 L1019.3 142.9 L1019.4 145.7 L1019.6 148.1 L1019.7 150.2 L1019.8 152.6 L1020 155.1 L1020.1 157.1 L1020.1 157.2 L1020.4 159.3 L1020.8 162.2 L1021.1 164.5 L1021.5 165.9 L1021.8 168.2 L1022.1 170.3 L1022.4 172.2 L1022.5 172.3 L1023 174.4 L1023.6 177.1 L1023.9 178.4 L1024.1 178.1 L1024.6 174.6 L1025.1 171.6 L1025.7 168.5 L1026.2 166.7 L1026.2 167 L1026.5 163.5 L1026.9 161.3 L1027.3 158.8 L1027.6 156.4 L1028 153.2 L1028.3 149.4 L1028.7 146.8 L1029 143.9 L1029.4 140.5 L1029.7 136.5 L1030.1 133 L1030.4 131 L1030.6 130 L1030.9 128.1 L1031.4 125.2 L1031.9 122.7 L1032.4 119.5 L1032.5 118.6 L1033.8 115.7 L1035.4 113.7 L1036.3 112.9 L1036.6 112.2 L1037.4 110.3 L1038.2 107 L1039 104.4 L1039.8 101.4 L1040.5 98.6 L1041.3 95.4 L1041.4 94.1 L1041.8 96.3 L1042.3 98.6 L1042.8 101.1 L1043.2 102.8 L1043.7 105.2 L1044.2 108.1 L1044.6 110.7 L1044.8 111.2 L1045 113 L1045.3 116.4 L1045.7 118.2 L1046 121.7 L1046.3 125.1 L1046.6 128.2 L1046.9 130.2 L1047.2 132.3 L1047.6 135.1 L1047.9 137.7 L1048.2 140.4 L1048.5 143.2 L1048.6 143.6 L1048.7 145.4 L1048.9 148.6 L1049.2 150.2 L1049.4 152.1 L1049.6 154.4 L1049.8 157.5 L1050 160.1 L1050.2 162.7 L1050.4 165.5 L1050.6 168.6 L1050.8 171.2 L1051.1 173.5 L1051.3 176.3 L1051.5 178.4 L1051.5 178.4 L1051.7 180.6 L1051.8 182.6 L1052 185.7 L1052.2 187.5 L1052.3 191 L1052.5 193.1 L1052.6 195.1 L1052.8 197.3 L1053 199.2 L1053.1 201.9 L1053.3 203.4 L1053.5 206.4 L1053.6 209.3 L1053.8 212.2 L1054 214.8 L1054.1 217.8 L1054.3 220.6 L1054.5 223.2 L1054.6 224 L1054.7 226.1 L1054.9 229.1 L1055.2 231.4 L1055.5 234.3 L1055.7 237.4 L1056 240.6 L1056.2 242.6 L1056.5 244.5 L1056.7 247.9 L1057 250.5 L1057.2 252.8 L1057.5 255.3 L1057.6 256.2 L1058 258.3 L1058.6 260.7 L1059.2 263.7 L1059.8 266.6 L1060.5 268.7 L1060.5 268.8 L1062.3 268.4 L1064.4 268.3 L1064.7 267.9 L1065.2 269.7 L1065.8 273.6 L1066.4 277.2 L1066.9 279.9 L1067.5 283 L1068.1 285.3 L1068.6 288.7 L1069.2 289.8 L1069.5 291.2 L1070.2 292 L1071.9 293.5 L1073.7 295.5 L1075.4 297.8 L1075.5 298.9 L1077.6 299 L1079.9 300.2 L1081.5 300.3 L1082 300.7 L1083.6 299.2 L1085.2 298.3 L1086.8 296.1 L1088.4 293.3 L1089 292.8 L1089.7 292.5 L1090.9 294.4 L1092 295.2 L1093.2 298.4 L1094.3 299.6 L1095 301 L1095.3 304.5 L1096 307.3 L1096.7 310.8 L1097.4 313 L1098.1 317.7 L1098.8 320.2 L1099.5 323.1 L1100.2 325.5 L1100.9 328.2 L1101 328.9 L1101.5 329.9 L1102 332.4 L1102.6 334.3 L1103.1 337.4 L1103.7 341.8 L1104.3 341.4 L1104.8 343.7 L1105.1 345.2 L1105.5 345.5 L1106.3 346.9 L1107.1 347.2 L1107.9 353.2 L1108.7 357.5 L1109.5 358.9 L1110.3 360.5 L1111.1 361.4 L1111.1 362.8 L1112.4 362.5 L1113.7 361 L1115.1 363.1 L1116.4 365.7 L1117.8 368.7 L1118.6 370.6 L1119.3 371.4 L1121 374.8 L1122.8 377.3 L1124.6 380.4 L1126.1 382.9 L1126.3 381 L1128.4 382.2 L1130.4 384.6 L1132.4 385.7 L1133.6 386.1 L1134.3 387.2 L1136.1 390.2 L1137.8 392.9 L1139.6 395.1 L1141.4 397.1 L1142.5 396.2 L1143.1 395.5 L1144.7 397.8 L1146.3 400.3 L1147.9 402.3 L1149.5 402.9 L1150 404.5 L1151.4 405.3 L1153.3 405.8 L1155.2 407.9 L1157.1 410.8 L1157.5 412.1 L1159.5 410.7 L1162 412.6 L1164.5 411.5 L1167.1 413.2 L1168 411.6 L1169.4 413 L1171.5 415.8 L1173.7 416.2 L1175.4 418.3 L1175.9 414.9 L1178.1 417.3 L1180.2 419.9 L1182.4 421.7 L1184.5 424.7 L1185.9 426.1 L1186.8 429.2 L1189.3 427.1 L1191.8 425.8 L1194.2 425.2 L1194.9 423.7 L1196.2 426.7 L1197.9 428.1 L1199.7 430.7 L1201.5 433.7 L1202.4 434.3 L1203 435.9 L1204.4 436.8 L1205.7 438.4 L1207.1 441.7 L1208.4 443.2 L1209.8 446 L1209.9 445.1 L1211.9 445.4 L1214.1 447.1 L1216.3 449.1 L1218.5 451 L1218.8 453 L1220.8 456.1 L1223.1 457.3 L1225.4 458.4 L1227.6 457.4 L1227.8 457.5 L1229.9 456.5 L1232.3 458.2 L1234.6 458.8 L1236.9 459.7 L1239.2 460.2 L1239.8 459.4 L1241.3 460.9 L1243.3 462 L1245.3 463.3 L1247.3 464.9 L1248.8 467.6 L1249.3 467.7 L1251.7 468.4 L1254 466.2 L1256.3 468.6 L1258.6 470.4 L1260.7 471.6 L1260.9 471.9 L1263.1 474.1 L1265.3 475.8 L1267.5 476.9 L1269.7 477.6 L1271.9 478.5 L1274.1 481.6 L1274.4 480 L1275.8 481.3 L1277.4 482.7 L1279 486.1 L1280.6 487.8 L1282.2 486.9 L1282.4 487.7 L1283.1 491.1 L1284 493.6 L1284.9 498.5 L1285.7 501 L1286.6 505.7 L1287.4 505.5 L1288.3 506.9 L1288.9 510.1 L1289.4 508.2 L1291.4 511 L1293.4 511.4 L1295.3 513.3 L1297.3 515.6 L1298.6 516.4 L1299.1 518.9 L1300.7 522 L1302.3 524.6 L1303.9 527.8 L1305.5 528.9 L1307.1 530.2 L1308.3 529.8 L1308.9 529.4 L1311 530.2 L1313.1 530.6 L1315.2 533.1 L1317.3 534.2 L1318 534.2 L1319.3 534.8 L1321.3 536.8 L1323.4 539.1 L1325.4 540.2 L1327.4 543.4 L1329.4 546.2 L1330.9 547.5 L1331.4 546.5 L1333.6 547.1 L1335.8 548.7 L1338 549.7 L1340.3 550.5 L1342.5 551.9 L1343.8 553.2 L1344.7 553.7 L1347.1 553.2 L1349.4 554.5 L1351.8 556.4 L1354.1 557.9 L1356.5 558.3 L1356.7 558.8 L1358.9 558.6 L1361.3 558.6 L1363.7 560.3 L1366.1 560.9 L1368.6 560.4 L1369.6 559.7 L1370.9 561 L1373.1 562.7 L1375.4 564.6 L1377.7 565.9 L1379.9 566.6 L1382.2 567.3 L1382.6 567.7 L1384.3 570.5 L1386.4 570.1 L1388.5 571.3 L1390.6 572.5 L1392.7 575 L1394.9 575.4 L1395.5 576.5 L1396.9 578.6 L1398.9 580.7 L1400.9 580.7 L1402.9 581.7 L1404.9 583 L1406.9 585.5 L1408.4 585.5 L1409 586.7 L1411.3 587.8 L1413.5 590.4 L1415.8 590.8 L1418 592 L1420.3 593.5 L1421.3 596 L1422.5 596.1 L1424.7 597.2 L1426.9 596.7 L1429.1 598 L1431.4 599.3 L1433.6 601 L1434.2 600.9 L1435.8 600.3 L1438.1 600.8 L1440.3 601.6 L1442.6 602.5 L1444.8 603.2 L1447.1 604.9 L1447.2 605.1 L1449.5 606.2 L1451.9 607.7 L1454.4 609.8 L1456.8 610.1 L1459.2 611.5 L1460.1 610.9 L1461.5 612.1 L1463.8 612 L1466 612.4 L1468.3 614.6 L1470.5 615 L1472.8 616.6 L1473 615.4 L1475.2 617.3 L1477.6 616.9 L1480 617.5 L1482.5 618.3 L1484.9 619 L1485.9 619.9 L1487.2 619.3 L1489.5 621.4 L1491.7 622.7 L1494 624.2 L1496.2 624.8 L1498.5 625.2 L1498.8 625.4 L1500.8 626.9 L1503.2 628.4 L1505.5 629.6 L1507.9 629.3 L1510.2 629.9 L1511.8 630.4 L1512.6 630.5 L1515 630.3 L1517.4 630.1 L1519.9 631.4 L1522.3 633 L1524.7 633.4 L1527.1 634.5 L1529.6 634.8 L1530.8 636 L1532 636.3 L1534.4 636.7 L1536.8 638.3 L1539.3 639.7 L1541.7 641.1 L1544.1 640.9 L1546.5 640.7 L1548.9 641.7 L1551.4 641.9 L1553.8 641.7 L1555.6 642 L1556.2 641.8 L1558.7 642.4 L1561.1 642.6 L1563.6 643.5 L1566 644.4 L1568.5 644.8 L1571 644.9 L1573.4 645.9 L1575.9 647.1 L1578 648.4 L1578.3 647.8 L1580.7 648.2 L1583.1 650.3 L1585.5 651.7 L1587.8 652.2 L1590.2 651.6 L1592.6 652.7 L1595 653.7 L1597.4 655 L1599.8 656.1 L1602.1 657.6 L1604.5 658 L1605.7 658.4 L1606.9 660 L1609.4 659.9 L1611.8 660.2 L1614.2 660.1 L1616.7 662 L1619.1 662 L1621.5 662.1 L1624 662.1 L1626.4 663 L1628.8 662.8 L1631.2 663.1 L1633.7 663.8 L1633.8 664.7 L1636.1 666.4 L1638.5 668.7 L1640.9 668.8 L1643.3 669.3 L1645.6 669.5 L1648 670.5 L1650.4 670.3 L1652.8 671.2 L1655.2 671.7 L1657.6 673.1 L1660 673.4 L1662.4 673.6 L1664.8 674.3 L1667.2 675.3 L1669.6 676.4 L1669.6 676.1 L1672 676.6 L1674.4 678 L1676.8 679.2 L1679.2 679.8 L1681.6 679.9 L1684 680.4 L1686.4 681.1 L1688.8 682.5 L1691.2 683.8 L1693.7 684.3 L1696.1 685.6 L1698.5 685.7 L1700.9 686.8 L1700.9 685.5 L1703.3 685.1 L1705.8 685.8 L1708.3 686.6 L1710.8 688.2 L1713.2 688.3 L1715.7 689.4 L1718.2 689.4 L1720.6 689.6 L1723.1 689.1 L1725.6 690.4 L1728 691.2 L1730.5 691.9 L1733 692.2 L1735.5 693.6 L1737.9 694.5 L1740.4 695.5 L1741.1 694.7 L1742.6 695.8 L1744.8 696.6 L1747 698 L1749.1 699.9 L1751.3 701.1 L1753.4 702.5 L1755.6 703.1 L1755.6 707 L1753.4 706.4 L1751.3 705.5 L1749.1 704.2 L1747 702.3 L1744.8 701.3 L1742.6 700.3 L1741.1 699.5 L1740.4 699.7 L1737.9 699.1 L1735.5 698.9 L1733 697.8 L1730.5 697.9 L1728 697 L1725.6 696.4 L1723.1 695.3 L1720.6 696.1 L1718.2 696 L1715.7 696.2 L1713.2 695.6 L1710.8 696 L1708.3 694.4 L1705.8 692.9 L1703.3 692.3 L1700.9 692.6 L1700.9 693.2 L1698.5 692.3 L1696.1 692.5 L1693.7 691.8 L1691.2 691.2 L1688.8 690.1 L1686.4 689.1 L1684 688.6 L1681.6 688.4 L1679.2 688.1 L1676.8 687.7 L1674.4 686.6 L1672 685.8 L1669.6 684.8 L1669.6 684.4 L1667.2 684.3 L1664.8 683.1 L1662.4 682.7 L1660 682 L1657.6 681.5 L1655.2 681.4 L1652.8 680.5 L1650.4 679.4 L1648 679.4 L1645.6 679.2 L1643.3 679.7 L1640.9 679.2 L1638.5 678.7 L1636.1 677.2 L1633.8 675.9 L1633.7 674.7 L1631.2 674.2 L1628.8 674.1 L1626.4 674.6 L1624 673.6 L1621.5 673.7 L1619.1 673.3 L1616.7 673.4 L1614.2 671.4 L1611.8 671.2 L1609.4 670.8 L1606.9 671 L1605.7 669.7 L1604.5 668.6 L1602.1 667 L1599.8 666.6 L1597.4 665.7 L1595 664.4 L1592.6 663.8 L1590.2 664.6 L1587.8 665.7 L1585.5 663.9 L1583.1 662.4 L1580.7 660.2 L1578.3 660.4 L1578 660.4 L1575.9 659.3 L1573.4 658.5 L1571 657.8 L1568.5 657.9 L1566 657.2 L1563.6 656.2 L1561.1 656.4 L1558.7 656.8 L1556.2 657.1 L1555.6 656.7 L1553.8 655.8 L1551.4 655.8 L1548.9 654.5 L1546.5 653.5 L1544.1 652.3 L1541.7 653 L1539.3 652.2 L1536.8 651 L1534.4 650.5 L1532 650.1 L1530.8 651.2 L1529.6 649.8 L1527.1 650.1 L1524.7 648.4 L1522.3 647.4 L1519.9 645.9 L1517.4 643.7 L1515 644.7 L1512.6 644.9 L1511.8 645.6 L1510.2 645.4 L1507.9 645 L1505.5 644.7 L1503.2 643.9 L1500.8 642 L1498.8 640.8 L1498.5 640.9 L1496.2 641 L1494 641.2 L1491.7 638.7 L1489.5 636.6 L1487.2 635.1 L1485.9 634.9 L1484.9 634.3 L1482.5 633.6 L1480 632.6 L1477.6 632.4 L1475.2 632.3 L1473 631 L1472.8 630.9 L1470.5 629.5 L1468.3 629.7 L1466 628.2 L1463.8 627.1 L1461.5 626.2 L1460.1 625.9 L1459.2 626.8 L1456.8 625 L1454.4 624.4 L1451.9 623.1 L1449.5 622.9 L1447.2 622.4 L1447.1 621.9 L1444.8 620.7 L1442.6 618.9 L1440.3 617.3 L1438.1 615.2 L1435.8 614.6 L1434.2 615.1 L1433.6 614.8 L1431.4 613.9 L1429.1 612.7 L1426.9 612 L1424.7 611.8 L1422.5 609.9 L1421.3 609.9 L1420.3 607.7 L1418 605.9 L1415.8 605.4 L1413.5 605.2 L1411.3 604.6 L1409 603.8 L1408.4 602.4 L1406.9 602.3 L1404.9 599.3 L1402.9 599.7 L1400.9 598.9 L1398.9 599 L1396.9 596.7 L1395.5 595.4 L1394.9 594.3 L1392.7 592.1 L1390.6 588.6 L1388.5 587.3 L1386.4 587.3 L1384.3 587.5 L1382.6 586 L1382.2 585.8 L1379.9 585.1 L1377.7 585.6 L1375.4 583.6 L1373.1 581.8 L1370.9 580.7 L1369.6 578.8 L1368.6 579 L1366.1 577.9 L1363.7 578.2 L1361.3 577.8 L1358.9 577.1 L1356.7 579 L1356.5 579.3 L1354.1 579.4 L1351.8 578 L1349.4 577.6 L1347.1 575.8 L1344.7 575.1 L1343.8 574.2 L1342.5 573.5 L1340.3 570.6 L1338 567.9 L1335.8 567.3 L1333.6 565.5 L1331.4 565.6 L1330.9 566.8 L1329.4 566.4 L1327.4 564.4 L1325.4 561.7 L1323.4 560.4 L1321.3 558 L1319.3 556.3 L1318 556.4 L1317.3 555.3 L1315.2 553.6 L1313.1 553 L1311 554 L1308.9 551.6 L1308.3 550.9 L1307.1 550.5 L1305.5 549.6 L1303.9 546.8 L1302.3 543.2 L1300.7 541.1 L1299.1 537.5 L1298.6 537 L1297.3 536.6 L1295.3 536.5 L1293.4 535.4 L1291.4 534.7 L1289.4 533.1 L1288.9 532.2 L1288.3 529.2 L1287.4 527.3 L1286.6 525.7 L1285.7 523.7 L1284.9 522.9 L1284 520.9 L1283.1 517.3 L1282.4 515.3 L1282.2 515.5 L1280.6 512.8 L1279 511 L1277.4 508 L1275.8 507.9 L1274.4 506.6 L1274.1 506.8 L1271.9 506.2 L1269.7 505.3 L1267.5 503.1 L1265.3 501.7 L1263.1 498.8 L1260.9 498.5 L1260.7 498.2 L1258.6 495.5 L1256.3 494.3 L1254 492.5 L1251.7 494.4 L1249.3 492.9 L1248.8 492.8 L1247.3 491 L1245.3 491.2 L1243.3 489.3 L1241.3 486.9 L1239.8 485.5 L1239.2 485.9 L1236.9 486.5 L1234.6 484.7 L1232.3 483.9 L1229.9 482.7 L1227.8 482.5 L1227.6 482.5 L1225.4 481.7 L1223.1 480.3 L1220.8 479.2 L1218.8 478.1 L1218.5 477.4 L1216.3 475.3 L1214.1 474.9 L1211.9 473.9 L1209.9 474.8 L1209.8 473.8 L1208.4 471.7 L1207.1 469.4 L1205.7 464.8 L1204.4 463.1 L1203 459.7 L1202.4 460.5 L1201.5 458.9 L1199.7 457.5 L1197.9 457 L1196.2 454.7 L1194.9 453.4 L1194.2 451.6 L1191.8 453.4 L1189.3 455.6 L1186.8 456 L1185.9 453.8 L1184.5 452.1 L1182.4 452.5 L1180.2 451.5 L1178.1 447.6 L1175.9 446.5 L1175.4 447.9 L1173.7 448.2 L1171.5 446.3 L1169.4 444.8 L1168 443.9 L1167.1 443 L1164.5 445.1 L1162 446 L1159.5 445.4 L1157.5 446.5 L1157.1 448 L1155.2 446.3 L1153.3 441.6 L1151.4 439 L1150 436.8 L1149.5 435.9 L1147.9 432 L1146.3 432.7 L1144.7 431.7 L1143.1 430.7 L1142.5 431.8 L1141.4 429.9 L1139.6 428.4 L1137.8 422.9 L1136.1 419.6 L1134.3 418.1 L1133.6 417.5 L1132.4 416.3 L1130.4 415.4 L1128.4 416.3 L1126.3 415.9 L1126.1 413.3 L1124.6 412.4 L1122.8 409.9 L1121 410.8 L1119.3 407.7 L1118.6 407.8 L1117.8 408 L1116.4 405.8 L1115.1 403.1 L1113.7 398.4 L1112.4 397.3 L1111.1 395.8 L1111.1 395.4 L1110.3 393.7 L1109.5 393.6 L1108.7 392 L1107.9 388.5 L1107.1 384.4 L1106.3 382.4 L1105.5 380.4 L1105.1 380.2 L1104.8 377.4 L1104.3 374.9 L1103.7 374.2 L1103.1 372.9 L1102.6 369.9 L1102 366.8 L1101.5 364.5 L1101 362.5 L1100.9 362.4 L1100.2 359.2 L1099.5 357.2 L1098.8 355.4 L1098.1 353 L1097.4 352.1 L1096.7 347.8 L1096 346.6 L1095.3 344.9 L1095 343.1 L1094.3 343 L1093.2 341.2 L1092 341.5 L1090.9 338.2 L1089.7 335 L1089 333.5 L1088.4 334 L1086.8 335.2 L1085.2 336.1 L1083.6 338.7 L1082 341 L1081.5 342.1 L1079.9 343.3 L1077.6 345.4 L1075.5 347.9 L1075.4 347.7 L1073.7 346.7 L1071.9 346.4 L1070.2 345.4 L1069.5 344.9 L1069.2 343.2 L1068.6 340.7 L1068.1 338.5 L1067.5 335.8 L1066.9 333.8 L1066.4 331.5 L1065.8 329.3 L1065.2 326.7 L1064.7 324.5 L1064.4 324.1 L1062.3 326.2 L1060.5 329.5 L1060.5 328.9 L1059.8 327.3 L1059.2 325.6 L1058.6 324 L1058 321.8 L1057.6 319.5 L1057.5 319.6 L1057.2 316.6 L1057 314.1 L1056.7 311.4 L1056.5 309 L1056.2 306.1 L1056 303.3 L1055.7 302 L1055.5 299.5 L1055.2 297.5 L1054.9 295.1 L1054.7 292.5 L1054.6 291 L1054.5 289.6 L1054.3 286.9 L1054.1 283.8 L1054 280.5 L1053.8 278.3 L1053.6 276.2 L1053.5 273.9 L1053.3 271.7 L1053.1 270.2 L1053 268.4 L1052.8 266 L1052.6 263.4 L1052.5 259.9 L1052.3 256.7 L1052.2 254.6 L1052 252.1 L1051.8 249.8 L1051.7 247.3 L1051.5 246.2 L1051.5 247.2 L1051.3 243.3 L1051.1 242.1 L1050.8 240.4 L1050.6 237.4 L1050.4 234.3 L1050.2 231.9 L1050 229.4 L1049.8 227.3 L1049.6 223.9 L1049.4 222.2 L1049.2 220.2 L1048.9 218 L1048.7 215.9 L1048.6 213.7 L1048.5 213 L1048.2 209.7 L1047.9 206.8 L1047.6 203.8 L1047.2 201.7 L1046.9 198.3 L1046.6 197 L1046.3 194.6 L1046 192.6 L1045.7 190.3 L1045.3 188.5 L1045 186.3 L1044.8 183.9 L1044.6 183.6 L1044.2 181 L1043.7 179.1 L1043.2 176.3 L1042.8 173.9 L1042.3 171 L1041.8 168.1 L1041.4 164.9 L1041.3 164.4 L1040.5 167.5 L1039.8 169.6 L1039 171.7 L1038.2 173.3 L1037.4 175.7 L1036.6 177.7 L1036.3 177.4 L1035.4 177.9 L1033.8 180.3 L1032.5 182 L1032.4 181.8 L1031.9 183 L1031.4 184.8 L1030.9 187.1 L1030.6 187.8 L1030.4 188.1 L1030.1 190.8 L1029.7 193.5 L1029.4 195.5 L1029 197.7 L1028.7 200.1 L1028.3 202.2 L1028 204.3 L1027.6 207.3 L1027.3 210.1 L1026.9 211.2 L1026.5 212.7 L1026.2 214.9 L1026.2 215.2 L1025.7 216 L1025.1 217.4 L1024.6 220.5 L1024.1 222.4 L1023.9 223.2 L1023.6 221.4 L1023 218.9 L1022.5 216.6 L1022.4 215.5 L1022.1 213.4 L1021.8 210.6 L1021.5 207.8 L1021.1 204.7 L1020.8 201.5 L1020.4 198.8 L1020.1 196 L1020.1 196.1 L1020 193.8 L1019.8 191.7 L1019.7 189.4 L1019.6 187.3 L1019.4 184.8 L1019.3 182.1 L1019.2 179.4 L1019 176.8 L1018.9 174.6 L1018.8 172.4 L1018.7 169.7 L1018.5 166.8 L1018.4 164.5 L1018.3 161.8 L1018.1 158.7 L1018 155.7 L1017.9 154.4 L1017.9 153.8 L1017.8 151.1 L1017.7 148.8 L1017.7 146.2 L1017.6 143.7 L1017.5 141.5 L1017.4 138.7 L1017.3 136.4 L1017.3 133.9 L1017.2 131.5 L1017.1 129 L1017 126.6 L1017 124 L1016.9 121.3 L1016.8 118.3 L1016.8 118.6 L1016.8 116.5 L1016.7 113.6 L1016.7 110.9 L1016.6 108.6 L1016.6 106.7 L1016.5 104.1 L1016.5 101.1 L1016.4 98.5 L1016.4 95.7 L1016.3 92.5 L1016.3 89.2 L1016.2 86.2 L1016.2 83.8 L1016.1 81.4 L1016.1 79 L1016 77.3 L1016 75.6 L1016 72.7 L1015.9 70.3 L1015.9 68 L1015.8 65.9 L1015.8 63.4 L1015.7 60.6 L1015.7 58.6 L1015.7 58.4 L1013.4 57.3 L1010.9 55.9 L1008.4 54.5 Z" fill="#0a850a" fill-opacity="0.2" stroke="#0a850a" stroke-opacity="0.2" stroke-width="2" stroke-linejoin="round"/>
<path d="M1008.4 39.4 L1010.9 39.4 L1013.4 39.4 L1015.7 39.4 L1015.7 39.6 L1015.7 42.1 L1015.8 44.7 L1015.8 47.2 L1015.9 49.7 L1015.9 52.2 L1016 54.7 L1016 57.2 L1016 59.7 L1016.1 62.2 L1016.1 64.7 L1016.2 67.2 L1016.2 69.7 L1016.3 72.2 L1016.3 74.7 L1016.4 77.2 L1016.4 79.7 L1016.5 82.2 L1016.5 84.7 L1016.6 87.2 L1016.6 89.7 L1016.7 92.2 L1016.7 94.7 L1016.8 97.2 L1016.8 99.3 L1016.8 99.7 L1016.9 102.2 L1017 104.7 L1017 107.2 L1017.1 109.7 L1017.2 112.2 L1017.3 114.7 L1017.3 117.2 L1017.4 119.7 L1017.5 122.3 L1017.6 124.8 L1017.7 127.3 L1017.7 129.8 L1017.8 132.3 L1017.9 134.8 L1017.9 135.8 L1018 137.3 L1018.1 139.8 L1018.3 142.3 L1018.4 144.8 L1018.5 147.3 L1018.7 149.8 L1018.8 152.3 L1018.9 154.8 L1019 157.3 L1019.2 159.8 L1019.3 162.3 L1019.4 164.8 L1019.6 167.3 L1019.7 169.8 L1019.8 172.3 L1020 174.8 L1020.1 177.1 L1020.1 177.3 L1020.4 179.8 L1020.8 182.2 L1021.1 184.7 L1021.5 187.2 L1021.8 189.7 L1022.1 192.2 L1022.4 194.3 L1022.5 194.6 L1023 197.1 L1023.6 199.5 L1023.9 201.2 L1024.1 200.4 L1024.6 197.9 L1025.1 195.5 L1025.7 193 L1026.2 190.8 L1026.2 190.6 L1026.5 188.1 L1026.9 185.6 L1027.3 183.1 L1027.6 180.7 L1028 178.2 L1028.3 175.7 L1028.7 173.2 L1029 170.8 L1029.4 168.3 L1029.7 165.8 L1030.1 163.3 L1030.4 160.8 L1030.6 159.9 L1030.9 158.4 L1031.4 155.9 L1031.9 153.5 L1032.4 151 L1032.5 150.6 L1033.8 149 L1035.4 147.1 L1036.3 146.1 L1036.6 144.9 L1037.4 142.6 L1038.2 140.2 L1039 137.8 L1039.8 135.4 L1040.5 133 L1041.3 130.7 L1041.4 130.5 L1041.8 132.7 L1042.3 135.2 L1042.8 137.7 L1043.2 140.1 L1043.7 142.6 L1044.2 145 L1044.6 147.5 L1044.8 148.4 L1045 150 L1045.3 152.5 L1045.7 154.9 L1046 157.4 L1046.3 159.9 L1046.6 162.4 L1046.9 164.9 L1047.2 167.4 L1047.6 169.8 L1047.9 172.3 L1048.2 174.8 L1048.5 177.3 L1048.6 177.8 L1048.7 179.8 L1048.9 182.3 L1049.2 184.8 L1049.4 187.3 L1049.6 189.8 L1049.8 192.3 L1050 194.8 L1050.2 197.2 L1050.4 199.7 L1050.6 202.2 L1050.8 204.7 L1051.1 207.2 L1051.3 209.7 L1051.5 212.2 L1051.5 212.2 L1051.7 214.7 L1051.8 217.2 L1052 219.7 L1052.2 222.2 L1052.3 224.7 L1052.5 227.2 L1052.6 229.7 L1052.8 232.2 L1053 234.7 L1053.1 237.2 L1053.3 239.7 L1053.5 242.2 L1053.6 244.7 L1053.8 247.2 L1054 249.7 L1054.1 252.2 L1054.3 254.7 L1054.5 257.2 L1054.6 258.3 L1054.7 259.7 L1054.9 262.2 L1055.2 264.7 L1055.5 267.2 L1055.7 269.6 L1056 272.1 L1056.2 274.6 L1056.5 277.1 L1056.7 279.6 L1057 282.1 L1057.2 284.6 L1057.5 287.1 L1057.6 287.9 L1058 289.5 L1058.6 292 L1059.2 294.4 L1059.8 296.8 L1060.5 299.2 L1060.5 299.6 L1062.3 298.5 L1064.4 297.1 L1064.7 296.9 L1065.2 298.9 L1065.8 301.3 L1066.4 303.8 L1066.9 306.2 L1067.5 308.7 L1068.1 311.1 L1068.6 313.5 L1069.2 316 L1069.5 317.5 L1070.2 318.2 L1071.9 320 L1073.7 321.8 L1075.4 323.6 L1075.5 323.7 L1077.6 322.7 L1079.9 321.7 L1081.5 321 L1082 320.4 L1083.6 318.5 L1085.2 316.6 L1086.8 314.6 L1088.4 312.7 L1089 312 L1089.7 313.4 L1090.9 315.6 L1092 317.9 L1093.2 320.1 L1094.3 322.3 L1095 323.7 L1095.3 324.6 L1096 327 L1096.7 329.4 L1097.4 331.8 L1098.1 334.2 L1098.8 336.6 L1099.5 339.1 L1100.2 341.5 L1100.9 343.9 L1101 344.3 L1101.5 346.3 L1102 348.7 L1102.6 351.2 L1103.1 353.6 L1103.7 356.1 L1104.3 358.6 L1104.8 361 L1105.1 362.3 L1105.5 363.3 L1106.3 365.7 L1107.1 368 L1107.9 370.4 L1108.7 373 L1109.5 375.3 L1110.3 377.6 L1111.1 379.7 L1111.1 380 L1112.4 382 L1113.7 384.2 L1115.1 386.3 L1116.4 388.3 L1117.8 390.5 L1118.6 391.8 L1119.3 392.6 L1121 394.5 L1122.8 396.2 L1124.6 397.9 L1126.1 399.4 L1126.3 399.5 L1128.4 400.7 L1130.4 402.1 L1132.4 403.4 L1133.6 404.4 L1134.3 405.2 L1136.1 407.1 L1137.8 408.8 L1139.6 410.7 L1141.4 412.4 L1142.5 413.3 L1143.1 413.9 L1144.7 415.7 L1146.3 418.3 L1147.9 420.5 L1149.5 422.6 L1150 422.7 L1151.4 423.9 L1153.3 425.9 L1155.2 427.9 L1157.1 429.1 L1157.5 429.6 L1159.5 429.3 L1162 429.7 L1164.5 429.3 L1167.1 429.4 L1168 429.4 L1169.4 430.2 L1171.5 432.3 L1173.7 433.7 L1175.4 434.1 L1175.9 433.3 L1178.1 434.5 L1180.2 436.2 L1182.4 436.7 L1184.5 437.3 L1185.9 438.2 L1186.8 439.7 L1189.3 440.1 L1191.8 440.4 L1194.2 440 L1194.9 440.6 L1196.2 442.3 L1197.9 443.8 L1199.7 446 L1201.5 447.1 L1202.4 448.4 L1203 448.6 L1204.4 451.3 L1205.7 452.7 L1207.1 455.2 L1208.4 457.8 L1209.8 460.8 L1209.9 461.5 L1211.9 461.7 L1214.1 463.1 L1216.3 464 L1218.5 465.1 L1218.8 464.7 L1220.8 465.8 L1223.1 467.5 L1225.4 469.2 L1227.6 469.3 L1227.8 469.4 L1229.9 469.9 L1232.3 471.4 L1234.6 472.1 L1236.9 472.9 L1239.2 473.9 L1239.8 473.7 L1241.3 475 L1243.3 476.4 L1245.3 478 L1247.3 479.2 L1248.8 480.4 L1249.3 480.6 L1251.7 482.3 L1254 482.6 L1256.3 484.1 L1258.6 484.9 L1260.7 486.3 L1260.9 486.5 L1263.1 487.6 L1265.3 487.9 L1267.5 489 L1269.7 490.6 L1271.9 492.2 L1274.1 494.2 L1274.4 492.8 L1275.8 494.4 L1277.4 495.5 L1279 498.8 L1280.6 500.3 L1282.2 501.6 L1282.4 501.1 L1283.1 504.2 L1284 507 L1284.9 509.9 L1285.7 512.1 L1286.6 514.8 L1287.4 517 L1288.3 519 L1288.9 521.1 L1289.4 521.6 L1291.4 523.4 L1293.4 524.2 L1295.3 525.2 L1297.3 526.4 L1298.6 528 L1299.1 528.3 L1300.7 530.8 L1302.3 532.4 L1303.9 535.4 L1305.5 536.7 L1307.1 538.1 L1308.3 539.4 L1308.9 539.8 L1311 541.9 L1313.1 542.6 L1315.2 544.4 L1317.3 545.4 L1318 546.1 L1319.3 546.5 L1321.3 547.6 L1323.4 549.4 L1325.4 550.5 L1327.4 552.9 L1329.4 554.7 L1330.9 556.4 L1331.4 556.2 L1333.6 557.2 L1335.8 558.1 L1338 559.2 L1340.3 560.7 L1342.5 562.2 L1343.8 562.8 L1344.7 562.3 L1347.1 562.9 L1349.4 564.2 L1351.8 565.6 L1354.1 567 L1356.5 567.4 L1356.7 567.6 L1358.9 567.6 L1361.3 568.6 L1363.7 569.4 L1366.1 570.4 L1368.6 571.6 L1369.6 570.9 L1370.9 571.4 L1373.1 572.7 L1375.4 574.4 L1377.7 575.6 L1379.9 575.2 L1382.2 576.7 L1382.6 577.4 L1384.3 579.9 L1386.4 580.2 L1388.5 581.2 L1390.6 581.8 L1392.7 583.7 L1394.9 585 L1395.5 585.9 L1396.9 586.9 L1398.9 588.8 L1400.9 589 L1402.9 590.6 L1404.9 590.7 L1406.9 592.7 L1408.4 593.7 L1409 595.3 L1411.3 596.6 L1413.5 598.3 L1415.8 599.2 L1418 600.4 L1420.3 601.2 L1421.3 602.8 L1422.5 602.8 L1424.7 603.8 L1426.9 603.3 L1429.1 604.7 L1431.4 606.7 L1433.6 608.5 L1434.2 608.8 L1435.8 608.6 L1438.1 609.4 L1440.3 610.8 L1442.6 611.6 L1444.8 613 L1447.1 614 L1447.2 614.1 L1449.5 614.3 L1451.9 614.8 L1454.4 616.3 L1456.8 616.4 L1459.2 618 L1460.1 617.6 L1461.5 618.5 L1463.8 619 L1466 620.2 L1468.3 621.9 L1470.5 622.7 L1472.8 624.3 L1473 623.7 L1475.2 625 L1477.6 625.3 L1480 625.9 L1482.5 626.7 L1484.9 627.1 L1485.9 627.6 L1487.2 627.2 L1489.5 629.2 L1491.7 630.4 L1494 632.2 L1496.2 633 L1498.5 633.6 L1498.8 634 L1500.8 634.8 L1503.2 636.4 L1505.5 637.2 L1507.9 636.9 L1510.2 637.2 L1511.8 637.9 L1512.6 638.1 L1515 638.2 L1517.4 637.7 L1519.9 639.2 L1522.3 640.7 L1524.7 641.1 L1527.1 641.8 L1529.6 642 L1530.8 643.4 L1532 642.9 L1534.4 643.7 L1536.8 644.5 L1539.3 645.7 L1541.7 647.1 L1544.1 647.1 L1546.5 648 L1548.9 648.7 L1551.4 649.7 L1553.8 650.1 L1555.6 649.9 L1556.2 649.5 L1558.7 649.6 L1561.1 649.7 L1563.6 650.2 L1566 650.9 L1568.5 651.6 L1571 651.7 L1573.4 652.6 L1575.9 653.3 L1578 654.1 L1578.3 653.9 L1580.7 653.9 L1583.1 656 L1585.5 657.3 L1587.8 658.5 L1590.2 658.1 L1592.6 658.1 L1595 658.8 L1597.4 659.9 L1599.8 660.9 L1602.1 661.7 L1604.5 662.7 L1605.7 663.5 L1606.9 664.8 L1609.4 664.9 L1611.8 665.2 L1614.2 665.3 L1616.7 667 L1619.1 667.2 L1621.5 667.8 L1624 667.8 L1626.4 668.7 L1628.8 668.3 L1631.2 668.7 L1633.7 669 L1633.8 670 L1636.1 671.6 L1638.5 673.6 L1640.9 673.9 L1643.3 674.4 L1645.6 674.4 L1648 675.2 L1650.4 675.1 L1652.8 676 L1655.2 676.9 L1657.6 677.7 L1660 677.9 L1662.4 678.3 L1664.8 678.9 L1667.2 679.8 L1669.6 680.5 L1669.6 680.7 L1672 681.4 L1674.4 682.8 L1676.8 683.9 L1679.2 684.7 L1681.6 684.9 L1684 685.1 L1686.4 685.9 L1688.8 687 L1691.2 688.1 L1693.7 688.7 L1696.1 689.6 L1698.5 689.5 L1700.9 690.2 L1700.9 689.2 L1703.3 689 L1705.8 689.5 L1708.3 690.5 L1710.8 692.2 L1713.2 692.2 L1715.7 693 L1718.2 692.8 L1720.6 693.1 L1723.1 692.4 L1725.6 693.5 L1728 694 L1730.5 694.9 L1733 694.9 L1735.5 695.9 L1737.9 696.6 L1740.4 697.6 L1741.1 697.4 L1742.6 698.4 L1744.8 699.1 L1747 700.3 L1749.1 702.1 L1751.3 703.2 L1753.4 704.2 L1755.6 704.7" fill="none" stroke="#0a850a" stroke-width="3.3" stroke-linejoin="round" stroke-linecap="square"/>
<path d="M1006.9 39.4 L1009.1 39.4 L1010.1 39.4 L1010.2 39.4 L1010.5 39.4 L1010.7 39.4 L1010.9 39.4 L1011.1 39.4 L1011.3 39.4 L1011.6 39.4 L1011.8 39.4 L1012 39.4 L1012.2 39.4 L1012.3 39.4 L1012.4 39.4 L1012.6 39.4 L1012.8 39.4 L1013 39.4 L1013.2 39.4 L1013.4 39.4 L1013.6 40.8 L1013.8 43.3 L1014 45.6 L1014.2 46.8 L1014.4 49.9 L1014.5 51.2 L1014.6 50.9 L1014.8 52.9 L1015.1 55.8 L1015.4 59.2 L1015.6 61.9 L1015.9 65.1 L1016.2 69.2 L1016.5 70.9 L1016.7 73.2 L1016.8 72.9 L1017 75 L1017.1 77.7 L1017.3 78.4 L1017.5 80.1 L1017.7 81.8 L1017.9 84.7 L1018.1 87.6 L1018.3 88.1 L1018.5 91.6 L1018.7 94.2 L1018.9 95.3 L1019 96.8 L1019.1 97.7 L1019.3 100.5 L1019.4 101.6 L1019.6 103.2 L1019.8 107.4 L1020 109.1 L1020.2 111.3 L1020.3 113.9 L1020.5 115.6 L1020.7 118.2 L1020.9 119.8 L1021.1 122.9 L1021.2 124 L1021.3 125 L1021.4 127.8 L1021.6 130.7 L1021.8 133.7 L1022 136 L1022.1 138 L1022.3 140.7 L1022.5 142.3 L1022.7 143.9 L1022.9 145.7 L1023 147.4 L1023.2 150 L1023.4 152.7 L1023.6 154.8 L1023.8 157.4 L1023.9 159.5 L1024 160.3 L1024.7 162.5 L1025.3 162.1 L1025.9 164.7 L1026.6 166.3 L1027.2 167 L1027.8 169.9 L1028.4 170.5 L1029.1 173.3 L1029.1 172.6 L1029.4 174 L1029.7 176 L1030 176.9 L1030.3 179.6 L1030.6 181.8 L1030.9 183.6 L1031.2 186.1 L1031.5 190.8 L1031.9 193.2 L1032.1 195.2 L1032.5 192.8 L1034 192.1 L1035.4 190.6 L1036.6 186.2 L1036.8 186.1 L1038 184.1 L1039.1 183 L1040.2 182.1 L1041.1 182.3 L1041.2 185.1 L1041.8 186.7 L1042.5 189.7 L1043.1 191.7 L1043.7 192.7 L1044.1 193.3 L1044.2 192.8 L1044.5 195.8 L1044.7 196.4 L1045 198.9 L1045.3 202.2 L1045.6 205.7 L1045.8 208.9 L1046.1 211.8 L1046.4 214.9 L1046.7 218.3 L1047 222.1 L1047.1 223.4 L1047.2 226.1 L1047.4 228.5 L1047.7 231.7 L1047.9 233.9 L1048.1 235.3 L1048.3 236.8 L1048.6 237 L1048.8 238.8 L1049 241.7 L1049.2 246 L1049.5 248.9 L1049.7 251.8 L1049.9 254.3 L1050.1 257.2 L1050.2 258.2 L1050.4 260.5 L1050.7 264.1 L1051 266.3 L1051.3 271.2 L1051.6 273.3 L1051.9 276.8 L1052.2 280.6 L1052.4 281.8 L1052.7 285.9 L1053 289.9 L1053.1 289.8 L1053.3 289.8 L1053.6 291.3 L1053.9 294.3 L1054.2 296.5 L1054.6 297.8 L1054.9 300.8 L1055.2 306.2 L1055.5 308.8 L1055.8 309.9 L1056.1 311.3 L1056.4 310.5 L1058.7 313.3 L1060.9 315.3 L1062 316.7 L1063.1 319.8 L1065 324.4 L1066.5 328.3 L1066.8 329.5 L1067.7 333.3 L1068.6 335.9 L1069.5 338.2 L1070.4 340.3 L1071 341.1 L1071.3 341.5 L1072.2 339.7 L1072.2 340.4 L1072.4 344.1 L1072.5 346.5 L1072.6 349.9 L1072.7 351 L1072.8 353.4 L1072.9 355.4 L1073.1 357.1 L1073.2 360 L1073.3 361.5 L1073.4 365.4 L1073.5 367 L1073.6 368.9 L1073.7 371.2 L1073.9 371.2 L1075.6 369.9 L1077.3 369.3 L1078.2 369.6 L1079.3 371.7 L1081.4 373.9 L1083.6 376.1 L1084.2 378.1 L1085.8 378.9 L1088 382.5 L1090.2 386.1 L1091.7 388 L1092.1 387.7 L1093.5 390.3 L1094.9 391.6 L1096.3 392.1 L1097.7 393.8 L1097.7 396 L1099 398.3 L1100.4 402.3 L1101.7 405.1 L1103.1 407.5 L1104.4 406.8 L1105.2 404.8 L1105.8 406.6 L1107.1 407.2 L1108.4 408 L1109.7 410.6 L1111 417.3 L1112.2 423.4 L1112.7 424.2 L1113.6 427.7 L1114.9 433.6 L1116.3 436.4 L1117.6 437.2 L1119 437.7 L1120.2 438.3 L1120.4 438 L1122.5 438.2 L1124.5 440.9 L1126.2 441 L1126.7 443.2 L1129.1 443.9 L1131.5 441.8 L1132.2 442.1 L1133.9 442.4 L1136.1 444 L1138.4 443.4 L1139.7 445.7 L1140.5 446.6 L1142.5 443 L1144.4 439.8 L1146.3 437.6 L1147.2 437.5 L1148.5 435.7 L1150.8 435.8 L1153.2 434.6 L1154.7 433.9 L1155.6 434.4 L1158.1 434.5 L1160.6 435.5 L1162.2 435.8 L1162.8 438.6 L1164.7 441.5 L1166.5 443.4 L1168.1 444.7 L1168.3 445.1 L1169.2 446.2 L1170.1 447.1 L1171 451.1 L1171.9 453.4 L1172.8 455.4 L1173.7 456 L1174 459.1 L1174.6 462.3 L1175.4 465.1 L1176.3 468.5 L1177.2 470.5 L1178.1 472.4 L1178.9 473.6 L1179.8 477.9 L1179.9 476.7 L1182 474.2 L1184.4 474.1 L1186.7 473.3 L1187.4 472.1 L1189.1 470.1 L1191.6 469.7 L1194.1 471.4 L1194.9 469.8 L1196.5 470.7 L1199 470.7 L1201.5 473.4 L1203.9 474.9 L1203.9 474.3 L1206.4 474.3 L1208.9 476.5 L1211.4 477.4 L1212.9 477.3 L1213.7 477.2 L1215.9 479.9 L1218.1 481.4 L1218.8 480 L1219.9 481.2 L1221.5 484.2 L1223.2 487.9 L1224.8 489.5 L1226.5 491.4 L1227.8 493.1 L1228.2 491.9 L1230.3 493.1 L1232.5 493.1 L1234.6 496.2 L1236.7 496.8 L1236.8 497.3 L1238.8 499.4 L1240.9 501.8 L1242.9 503.6 L1245 506 L1245.8 507.6 L1246.9 508.1 L1248.9 507.8 L1250.8 508.7 L1252.7 510.8 L1254.6 512.7 L1254.7 512.6 L1256.7 513 L1258.8 515 L1261 516.8 L1263.1 518.7 L1263.7 519 L1265.2 519.7 L1267.4 521.2 L1269.5 522.7 L1271.7 524.2 L1272.8 525.4 L1273.9 526.3 L1276.1 527 L1278.4 527.6 L1280.6 530 L1282.9 531.8 L1285.1 533.4 L1285.6 531.7 L1287.4 531.9 L1289.7 533.4 L1291.9 534.3 L1294.2 534.5 L1296.4 535.3 L1298.6 537.4 L1298.7 538.2 L1301 538.2 L1303.4 538.7 L1305.7 539.4 L1308.1 541.4 L1310.4 541.9 L1311.5 542.8 L1312.6 542.9 L1314.7 544.8 L1316.9 545.9 L1319 547.9 L1321.1 548.8 L1323.2 549.9 L1324.5 549.8 L1325.5 550.1 L1327.9 550.9 L1330.4 551.6 L1332.9 552.5 L1335.4 552.6 L1337.3 554.2 L1337.6 554.1 L1338.8 557.6 L1340 559.5 L1341.2 561.2 L1342.4 562.2 L1343.6 562.6 L1343.8 562.5 L1345.7 563.5 L1348 564.9 L1350.2 566.5 L1350.3 567.9 L1352.6 569.6 L1355.1 570.1 L1357.5 569.8 L1360 571.2 L1362.4 573.4 L1363.2 574 L1364.9 574.5 L1367.3 574.4 L1369.8 575 L1372.3 575.2 L1374.8 575.3 L1376.1 574.4 L1377.2 574.8 L1379.7 574.6 L1382.1 575.2 L1384.6 575.6 L1387 576.6 L1389 576.7 L1389.4 575.4 L1391.6 576.8 L1393.8 578.3 L1396 580.2 L1398.3 581.3 L1400.5 582.9 L1401.9 583.3 L1402.6 584.2 L1404.7 585.9 L1406.9 587.6 L1409 587.8 L1411.1 588.7 L1413.2 590.2 L1414.9 591.3 L1415.3 592.1 L1417.6 593.5 L1419.8 594.6 L1422.1 595.3 L1424.4 596.6 L1426.6 598 L1427.8 596.9 L1428.9 596.6 L1431.3 597.6 L1433.6 599 L1435.9 600.5 L1438.3 602.3 L1440.6 604.9 L1440.7 604.3 L1443.1 603.7 L1445.5 604.6 L1447.9 605.4 L1450.3 605.4 L1452.7 605.6 L1453.6 606 L1454.5 608.9 L1455.9 611.9 L1457.3 613.7 L1458.7 615.1 L1460.1 616.8 L1460.1 616.4 L1462.5 616.6 L1464.9 615.9 L1467.3 618 L1469.7 618.9 L1472.2 620.2 L1473 619.4 L1474.6 619.2 L1477 619.6 L1479.5 619.5 L1481.9 621.3 L1484.4 621.8 L1485.9 622.9 L1486.8 622.4 L1489.3 622.4 L1491.7 623 L1494.1 624.1 L1496.5 624.7 L1498.8 625.8 L1498.9 625.8 L1501.2 626.1 L1503.4 627.6 L1505.7 629.6 L1508 631.6 L1510.2 632.5 L1511.8 632.7 L1512.5 631.9 L1515 632.6 L1517.5 633 L1520 634.2 L1522.5 633.4 L1525 633.8 L1527.4 634.9 L1529.9 635.1 L1530.8 635.4 L1532.4 635.9 L1534.9 636.6 L1537.3 637.5 L1539.8 638.1 L1542.2 639.1 L1544.7 639.2 L1547.2 639.8 L1549.6 639.7 L1552.1 639.3 L1554.6 641 L1555.6 640.8 L1557 640.3 L1559.5 639.5 L1561.9 641 L1564.4 642.6 L1566.8 642.8 L1569.3 644.1 L1571.8 644.6 L1574.2 645.5 L1576.7 644.7 L1578 645.2 L1579.1 644.1 L1581.4 645.2 L1583.8 647.4 L1586.2 648.9 L1588.5 650.5 L1590.9 651 L1593.2 652.2 L1595.6 652.4 L1598 652.1 L1600.3 652.7 L1600.3 652.3 L1602.8 652.4 L1605.2 653.5 L1607.7 654.3 L1610.1 655.8 L1612.6 656.3 L1615 657.4 L1617.5 657.4 L1619.9 657.6 L1622.4 656.4 L1624.8 657 L1627.1 657.3 L1627.3 658 L1629.6 658.8 L1631.9 659.8 L1634.2 660.8 L1636.5 661.4 L1638.8 662.6 L1641.1 663.9 L1643.4 665.5 L1645.7 666.6 L1648 667.6 L1650.3 669.2 L1652.6 669.3 L1654.9 670.9 L1656.2 670.7 L1657.3 672.6 L1659.6 673.3 L1662 673.3 L1664.4 673.4 L1666.8 673.7 L1669.2 675.1 L1671.6 676.7 L1674 678.1 L1676.4 678.8 L1678.8 678.2 L1680.7 678.3 L1681.2 679 L1683.6 680.3 L1686 681.1 L1688.4 681.4 L1690.8 682.2 L1693.2 682.4 L1695.6 683.4 L1698 684.1 L1700.4 683.8 L1702.8 684.4 L1705.3 685.4 L1707.7 687.4 L1710.1 688.7 L1712.1 689.6 L1712.5 690.3 L1714.9 689.9 L1717.3 690.4 L1719.7 690.2 L1722.1 691.6 L1724.5 692.5 L1727 693.4 L1729.4 694.7 L1731.8 694.8 L1734.2 694.9 L1736.6 694.4 L1739 695 L1741.1 697 L1741.4 697.6 L1743.8 698.3 L1746.2 698.8 L1748.5 699.5 L1750.9 701.1 L1753.2 701 L1755.6 702.1 L1755.6 706.3 L1753.2 705.2 L1750.9 705.3 L1748.5 703.7 L1746.2 703.4 L1743.8 703.4 L1741.4 702.7 L1741.1 702.4 L1739 700.6 L1736.6 700.3 L1734.2 700.6 L1731.8 700 L1729.4 700 L1727 698.4 L1724.5 697.5 L1722.1 696.8 L1719.7 695.5 L1717.3 695.7 L1714.9 695.3 L1712.5 695.8 L1712.1 695.6 L1710.1 694.6 L1707.7 693.4 L1705.3 691.6 L1702.8 690.7 L1700.4 690.6 L1698 690.8 L1695.6 690.2 L1693.2 689.4 L1690.8 689.3 L1688.4 689 L1686 688.3 L1683.6 687.1 L1681.2 685.3 L1680.7 684.5 L1678.8 684.4 L1676.4 684.5 L1674 684.3 L1671.6 683 L1669.2 682.3 L1666.8 681.1 L1664.4 680.9 L1662 681 L1659.6 681.1 L1657.3 680.7 L1656.2 679.1 L1654.9 678.5 L1652.6 677.2 L1650.3 677 L1648 675.4 L1645.7 674.1 L1643.4 673 L1641.1 672.3 L1638.8 671 L1636.5 670 L1634.2 669.5 L1631.9 669.1 L1629.6 667.9 L1627.3 667.1 L1627.1 666.9 L1624.8 666.5 L1622.4 665.8 L1619.9 666.9 L1617.5 666.6 L1615 666.5 L1612.6 665.1 L1610.1 665.3 L1607.7 664 L1605.2 663.1 L1602.8 661.5 L1600.3 661.7 L1600.3 661.1 L1598 660.4 L1595.6 660.8 L1593.2 660.6 L1590.9 660.8 L1588.5 659.3 L1586.2 658.5 L1583.8 657.3 L1581.4 655.5 L1579.1 654.4 L1578 654.8 L1576.7 655.1 L1574.2 656 L1571.8 654.8 L1569.3 654.6 L1566.8 653.6 L1564.4 653.4 L1561.9 651.7 L1559.5 650.6 L1557 650.1 L1555.6 650.1 L1554.6 650.1 L1552.1 648.5 L1549.6 648.7 L1547.2 648.9 L1544.7 649.2 L1542.2 649 L1539.8 648.5 L1537.3 648 L1534.9 647.4 L1532.4 646.2 L1530.8 646 L1529.9 645.1 L1527.4 644.5 L1525 643.9 L1522.5 643.9 L1520 645 L1517.5 643.7 L1515 643.7 L1512.5 642.4 L1511.8 643.3 L1510.2 642.9 L1508 641.7 L1505.7 640 L1503.4 638.6 L1501.2 638.2 L1498.9 637.7 L1498.8 638 L1496.5 637.5 L1494.1 636.5 L1491.7 634.9 L1489.3 634.4 L1486.8 635.2 L1485.9 636.1 L1484.4 634.9 L1481.9 634.5 L1479.5 633.4 L1477 633.2 L1474.6 631.9 L1473 631.8 L1472.2 632.2 L1469.7 631.5 L1467.3 630.7 L1464.9 629 L1462.5 629.6 L1460.1 629.2 L1460.1 629.2 L1458.7 627 L1457.3 624.7 L1455.9 621.9 L1454.5 618.7 L1453.6 616 L1452.7 616.3 L1450.3 616.3 L1447.9 617 L1445.5 617.6 L1443.1 617.2 L1440.7 617.9 L1440.6 618.5 L1438.3 617.4 L1435.9 615.5 L1433.6 614.1 L1431.3 613.6 L1428.9 612.5 L1427.8 612.2 L1426.6 611.9 L1424.4 610.5 L1422.1 609.6 L1419.8 607.6 L1417.6 606.6 L1415.3 605.8 L1414.9 604.7 L1413.2 604.2 L1411.1 601.8 L1409 600.9 L1406.9 599.7 L1404.7 597.9 L1402.6 596.5 L1401.9 595 L1400.5 595.1 L1398.3 593.8 L1396 593.4 L1393.8 592.1 L1391.6 590.2 L1389.4 589.1 L1389 588.7 L1387 588.8 L1384.6 588.5 L1382.1 587.8 L1379.7 588 L1377.2 587.5 L1376.1 587.8 L1374.8 588.1 L1372.3 587.2 L1369.8 585.4 L1367.3 584.2 L1364.9 585.1 L1363.2 584.9 L1362.4 584.4 L1360 583.2 L1357.5 583.4 L1355.1 583.2 L1352.6 583.8 L1350.3 583.9 L1350.2 584.3 L1348 582.3 L1345.7 581.5 L1343.8 581.8 L1343.6 582 L1342.4 579.5 L1341.2 576.2 L1340 573.7 L1338.8 571 L1337.6 568.5 L1337.3 567.6 L1335.4 567.6 L1332.9 567.6 L1330.4 568.5 L1327.9 567.7 L1325.5 566.4 L1324.5 566.8 L1323.2 566.5 L1321.1 565.9 L1319 563.9 L1316.9 562.3 L1314.7 560.3 L1312.6 556.8 L1311.5 557.1 L1310.4 555.9 L1308.1 555.6 L1305.7 553.9 L1303.4 554.7 L1301 555.5 L1298.7 555.5 L1298.6 556.3 L1296.4 554.9 L1294.2 553.9 L1291.9 552.5 L1289.7 550.9 L1287.4 549.5 L1285.6 548.9 L1285.1 550.6 L1282.9 549.1 L1280.6 547.5 L1278.4 545.2 L1276.1 544.7 L1273.9 543.3 L1272.8 542.6 L1271.7 541.8 L1269.5 541.1 L1267.4 540.4 L1265.2 538.3 L1263.7 538.5 L1263.1 537.8 L1261 536.1 L1258.8 533.9 L1256.7 531.6 L1254.7 531.1 L1254.6 531.1 L1252.7 528.7 L1250.8 527.5 L1248.9 527.1 L1246.9 527 L1245.8 527.1 L1245 524 L1242.9 522.2 L1240.9 519.9 L1238.8 517.7 L1236.8 517.5 L1236.7 516.5 L1234.6 516.6 L1232.5 513.6 L1230.3 513.1 L1228.2 511.4 L1227.8 511.7 L1226.5 510.6 L1224.8 509.1 L1223.2 507.3 L1221.5 504.8 L1219.9 502.8 L1218.8 503.2 L1218.1 503.9 L1215.9 504.1 L1213.7 503.2 L1212.9 501.7 L1211.4 501.4 L1208.9 500.6 L1206.4 500.8 L1203.9 501.2 L1203.9 500.5 L1201.5 502.9 L1199 501.7 L1196.5 501.6 L1194.9 500.8 L1194.1 501.3 L1191.6 501.3 L1189.1 500.5 L1187.4 499.6 L1186.7 500.5 L1184.4 502 L1182 504.2 L1179.9 504.8 L1179.8 505.4 L1178.9 504.9 L1178.1 502.7 L1177.2 500.1 L1176.3 499.4 L1175.4 497.3 L1174.6 494.1 L1174 490.4 L1173.7 488.9 L1172.8 487.8 L1171.9 483.9 L1171 482.2 L1170.1 478.8 L1169.2 477.3 L1168.3 474.8 L1168.1 473.5 L1166.5 472.9 L1164.7 470.8 L1162.8 470.7 L1162.2 468.9 L1160.6 469.3 L1158.1 469.8 L1155.6 469.3 L1154.7 470.7 L1153.2 470.1 L1150.8 472.4 L1148.5 473.7 L1147.2 475.4 L1146.3 476.2 L1144.4 477.6 L1142.5 481.2 L1140.5 481.4 L1139.7 480.8 L1138.4 479.8 L1136.1 479.2 L1133.9 478 L1132.2 475.4 L1131.5 477.3 L1129.1 479.5 L1126.7 480 L1126.2 479.4 L1124.5 480.3 L1122.5 479.6 L1120.4 478.6 L1120.2 477.5 L1119 475.6 L1117.6 475.9 L1116.3 473.8 L1114.9 473.9 L1113.6 471.8 L1112.7 469.5 L1112.2 469.2 L1111 465.5 L1109.7 461.9 L1108.4 459.8 L1107.1 457.9 L1105.8 455.9 L1105.2 455.3 L1104.4 454.8 L1103.1 453.5 L1101.7 449.7 L1100.4 450 L1099 449.8 L1097.7 446.9 L1097.7 445.5 L1096.3 444.2 L1094.9 443.1 L1093.5 440.9 L1092.1 438.7 L1091.7 439.2 L1090.2 440.4 L1088 439.6 L1085.8 438.8 L1084.2 437.4 L1083.6 436.8 L1081.4 435.7 L1079.3 434.5 L1078.2 432.7 L1077.3 432.8 L1075.6 436.6 L1073.9 441.4 L1073.7 442 L1073.6 440.5 L1073.5 439.5 L1073.4 439 L1073.3 436.1 L1073.2 432.6 L1073.1 430.3 L1072.9 427.1 L1072.8 425.8 L1072.7 423.1 L1072.6 422 L1072.5 420.1 L1072.4 415.5 L1072.2 414.6 L1072.2 416 L1071.3 418.8 L1071 419 L1070.4 417.5 L1069.5 416.3 L1068.6 413.8 L1067.7 411 L1066.8 408.9 L1066.5 407.6 L1065 407.1 L1063.1 407.6 L1062 408.7 L1060.9 408.5 L1058.7 409.2 L1056.4 410.7 L1056.1 411.7 L1055.8 411.3 L1055.5 409.5 L1055.2 407.8 L1054.9 406.2 L1054.6 404.6 L1054.2 401.8 L1053.9 398.8 L1053.6 394.8 L1053.3 392.6 L1053.1 389.6 L1053 388.1 L1052.7 385.4 L1052.4 383 L1052.2 380.9 L1051.9 378.3 L1051.6 378.5 L1051.3 377.5 L1051 376 L1050.7 375.3 L1050.4 374 L1050.2 372 L1050.1 370.7 L1049.9 369.6 L1049.7 365.8 L1049.5 361.1 L1049.2 358.8 L1049 356.7 L1048.8 354.6 L1048.6 351.9 L1048.3 350.3 L1048.1 349.4 L1047.9 345.7 L1047.7 343.1 L1047.4 338.6 L1047.2 336 L1047.1 335.9 L1047 333.6 L1046.7 331.9 L1046.4 330.3 L1046.1 329.6 L1045.8 327.2 L1045.6 323.1 L1045.3 321.5 L1045 319.1 L1044.7 315.2 L1044.5 311.5 L1044.2 308.8 L1044.1 308.7 L1043.7 307.3 L1043.1 305 L1042.5 302.5 L1041.8 301.3 L1041.2 297.6 L1041.1 296.7 L1040.2 299.3 L1039.1 301.7 L1038 306.2 L1036.8 308.7 L1036.6 310.9 L1035.4 312.3 L1034 314.7 L1032.5 318.3 L1032.1 317.9 L1031.9 315.2 L1031.5 312.1 L1031.2 310.8 L1030.9 307.6 L1030.6 304 L1030.3 301.8 L1030 299.9 L1029.7 295.4 L1029.4 291.4 L1029.1 288.7 L1029.1 287 L1028.4 282.8 L1027.8 278.8 L1027.2 276.5 L1026.6 273.1 L1025.9 270 L1025.3 268.3 L1024.7 264.7 L1024 261.9 L1023.9 262 L1023.8 261.1 L1023.6 258.1 L1023.4 254.7 L1023.2 252.4 L1023 248.7 L1022.9 245.5 L1022.7 243 L1022.5 240 L1022.3 237.6 L1022.1 234 L1022 233.1 L1021.8 230.9 L1021.6 227.6 L1021.4 226.6 L1021.3 226.4 L1021.2 226.4 L1021.1 222.1 L1020.9 218.8 L1020.7 216.3 L1020.5 212.3 L1020.3 208.9 L1020.2 205.7 L1020 204.2 L1019.8 202.6 L1019.6 199.7 L1019.4 197 L1019.3 194 L1019.1 192.6 L1019 191.4 L1018.9 188 L1018.7 186.1 L1018.5 184 L1018.3 180.6 L1018.1 176.5 L1017.9 173.9 L1017.7 172.1 L1017.5 169.4 L1017.3 165.6 L1017.1 163.2 L1017 161.3 L1016.8 158.2 L1016.7 158.2 L1016.5 155.6 L1016.2 153.2 L1015.9 149.1 L1015.6 146.5 L1015.4 143.8 L1015.1 140.1 L1014.8 136.9 L1014.6 134.5 L1014.5 135.7 L1014.4 134.5 L1014.2 132.5 L1014 131.5 L1013.8 127.5 L1013.6 125.1 L1013.4 121.3 L1013.2 117.6 L1013 115.3 L1012.8 111.5 L1012.6 109.4 L1012.4 106 L1012.3 106.2 L1012.2 105.3 L1012 101.5 L1011.8 98.3 L1011.6 95.8 L1011.3 93.5 L1011.1 89.7 L1010.9 86.7 L1010.7 85.2 L1010.5 82.9 L1010.2 80.2 L1010.1 78.7 L1009.1 77.4 L1006.9 74.5 Z" fill="#cc0404" fill-opacity="0.2" stroke="#cc0404" stroke-opacity="0.2" stroke-width="2" stroke-linejoin="round"/>
<path d="M1006.9 39.4 L1009.1 40.5 L1010.1 41 L1010.2 42.4 L1010.5 44.9 L1010.7 47.4 L1010.9 49.9 L1011.1 52.4 L1011.3 54.9 L1011.6 57.4 L1011.8 59.9 L1012 62.3 L1012.2 64.8 L1012.3 65.6 L1012.4 67.3 L1012.6 69.8 L1012.8 72.3 L1013 74.8 L1013.2 77.3 L1013.4 79.8 L1013.6 82.3 L1013.8 84.8 L1014 87.3 L1014.2 89.8 L1014.4 92.3 L1014.5 94.7 L1014.6 94.8 L1014.8 97.3 L1015.1 99.8 L1015.4 102.3 L1015.6 104.7 L1015.9 107.2 L1016.2 109.7 L1016.5 112.2 L1016.7 114.7 L1016.8 115.1 L1017 117.2 L1017.1 119.7 L1017.3 122.2 L1017.5 124.7 L1017.7 127.2 L1017.9 129.7 L1018.1 132.2 L1018.3 134.7 L1018.5 137.2 L1018.7 139.7 L1018.9 142.1 L1019 144 L1019.1 144.6 L1019.3 147.1 L1019.4 149.6 L1019.6 152.1 L1019.8 154.6 L1020 157.1 L1020.2 159.6 L1020.3 162.1 L1020.5 164.6 L1020.7 167.1 L1020.9 169.6 L1021.1 172.1 L1021.2 174.6 L1021.3 175.3 L1021.4 177.1 L1021.6 179.6 L1021.8 182.1 L1022 184.6 L1022.1 187.1 L1022.3 189.6 L1022.5 192.1 L1022.7 194.6 L1022.9 197.1 L1023 199.6 L1023.2 202.1 L1023.4 204.6 L1023.6 207.1 L1023.8 209.6 L1023.9 211.5 L1024 212 L1024.7 214.5 L1025.3 216.9 L1025.9 219.3 L1026.6 221.7 L1027.2 224.2 L1027.8 226.6 L1028.4 229 L1029.1 231.4 L1029.1 231.5 L1029.4 233.9 L1029.7 236.4 L1030 238.9 L1030.3 241.4 L1030.6 243.9 L1030.9 246.3 L1031.2 248.8 L1031.5 251.3 L1031.9 253.8 L1032.1 255.6 L1032.5 255 L1034 252.9 L1035.4 250.9 L1036.6 249.4 L1036.8 248.8 L1038 246.6 L1039.1 244.4 L1040.2 242.1 L1041.1 240.4 L1041.2 241 L1041.8 243.4 L1042.5 245.8 L1043.1 248.2 L1043.7 250.7 L1044.1 252.1 L1044.2 253.1 L1044.5 255.6 L1044.7 258.1 L1045 260.6 L1045.3 263.1 L1045.6 265.6 L1045.8 268.1 L1046.1 270.5 L1046.4 273 L1046.7 275.5 L1047 278 L1047.1 279 L1047.2 280.5 L1047.4 283 L1047.7 285.5 L1047.9 288 L1048.1 290.5 L1048.3 293 L1048.6 295.5 L1048.8 297.9 L1049 300.4 L1049.2 302.9 L1049.5 305.4 L1049.7 307.9 L1049.9 310.4 L1050.1 312 L1050.2 312.9 L1050.4 315.4 L1050.7 317.9 L1051 320.4 L1051.3 322.9 L1051.6 325.3 L1051.9 327.8 L1052.2 330.3 L1052.4 332.8 L1052.7 335.3 L1053 337.8 L1053.1 338.2 L1053.3 340.3 L1053.6 342.7 L1053.9 345.2 L1054.2 347.7 L1054.6 350.2 L1054.9 352.7 L1055.2 355.2 L1055.5 357.6 L1055.8 360.1 L1056.1 362.3 L1056.4 362.4 L1058.7 363.5 L1060.9 364.5 L1062 365 L1063.1 365.8 L1065 367.3 L1066.5 368.5 L1066.8 369 L1067.7 371.4 L1068.6 373.7 L1069.5 376 L1070.4 378.4 L1071 380.2 L1071.3 379.6 L1072.2 377.4 L1072.2 377.5 L1072.4 380 L1072.5 382.5 L1072.6 385 L1072.7 387.5 L1072.8 390 L1072.9 392.5 L1073.1 395 L1073.2 397.5 L1073.3 400 L1073.4 402.5 L1073.5 405 L1073.6 407.5 L1073.7 409.8 L1073.9 409.6 L1075.6 407.7 L1077.3 405.9 L1078.2 404.9 L1079.3 405.5 L1081.4 406.8 L1083.6 408 L1084.2 408.4 L1085.8 409.2 L1088 410.4 L1090.2 411.7 L1091.7 412.5 L1092.1 413.1 L1093.5 415.2 L1094.9 417.3 L1096.3 419.4 L1097.7 421.4 L1097.7 421.5 L1099 423.5 L1100.4 425.7 L1101.7 427.8 L1103.1 429.9 L1104.4 432 L1105.2 433.2 L1105.8 434.1 L1107.1 436.3 L1108.4 438.4 L1109.7 440.5 L1111 442.6 L1112.2 444.6 L1112.7 445.5 L1113.6 447.1 L1114.9 449.4 L1116.3 451.3 L1117.6 453.1 L1119 455.3 L1120.2 457.2 L1120.4 457.7 L1122.5 459 L1124.5 460.4 L1126.2 461.3 L1126.7 461.3 L1129.1 460.6 L1131.5 459.9 L1132.2 459.8 L1133.9 460.7 L1136.1 461.9 L1138.4 462.7 L1139.7 463.5 L1140.5 463.2 L1142.5 461.7 L1144.4 459.9 L1146.3 457.9 L1147.2 457.6 L1148.5 457.4 L1150.8 456.2 L1153.2 454.8 L1154.7 454.1 L1155.6 453.8 L1158.1 454.3 L1160.6 453.7 L1162.2 453.7 L1162.8 454.2 L1164.7 456.3 L1166.5 458.5 L1168.1 459.3 L1168.3 460 L1169.2 462.9 L1170.1 466.4 L1171 469.6 L1171.9 471.5 L1172.8 473 L1173.7 474 L1174 474.9 L1174.6 476.6 L1175.4 478.7 L1176.3 480.9 L1177.2 483.3 L1178.1 486.2 L1178.9 488.8 L1179.8 490.7 L1179.9 490.7 L1182 489.9 L1184.4 489.1 L1186.7 488 L1187.4 486.8 L1189.1 486.9 L1191.6 486.8 L1194.1 487.3 L1194.9 485.9 L1196.5 486 L1199 486 L1201.5 487.1 L1203.9 487.3 L1203.9 487.3 L1206.4 487.9 L1208.9 488.4 L1211.4 488.8 L1212.9 490 L1213.7 491.4 L1215.9 492.7 L1218.1 492.8 L1218.8 492.2 L1219.9 493.3 L1221.5 495.4 L1223.2 497.5 L1224.8 499.3 L1226.5 501.2 L1227.8 503 L1228.2 501.9 L1230.3 503.8 L1232.5 504.2 L1234.6 507.7 L1236.7 508.2 L1236.8 508.9 L1238.8 509.3 L1240.9 510.8 L1242.9 512.6 L1245 514.6 L1245.8 516.3 L1246.9 516.7 L1248.9 517.5 L1250.8 518.4 L1252.7 520.4 L1254.6 522.7 L1254.7 522.8 L1256.7 523.2 L1258.8 524.7 L1261 526.1 L1263.1 527.9 L1263.7 528.2 L1265.2 528.6 L1267.4 530.2 L1269.5 531.1 L1271.7 532.7 L1272.8 533.2 L1273.9 533.5 L1276.1 534.4 L1278.4 534.9 L1280.6 537.5 L1282.9 538.5 L1285.1 539.9 L1285.6 538.6 L1287.4 539.2 L1289.7 540.8 L1291.9 542.4 L1294.2 543.3 L1296.4 545 L1298.6 546.4 L1298.7 546.4 L1301 546.5 L1303.4 546.9 L1305.7 547.6 L1308.1 548.8 L1310.4 549.6 L1311.5 550.6 L1312.6 550.4 L1314.7 552.4 L1316.9 554 L1319 556.4 L1321.1 557.4 L1323.2 558.3 L1324.5 558.1 L1325.5 558.3 L1327.9 558.9 L1330.4 559.6 L1332.9 559.8 L1335.4 560.3 L1337.3 560.4 L1337.6 560.8 L1338.8 563.8 L1340 566.2 L1341.2 568 L1342.4 570 L1343.6 572.7 L1343.8 572.7 L1345.7 572.7 L1348 573.9 L1350.2 576 L1350.3 576.6 L1352.6 576.8 L1355.1 576.8 L1357.5 577.3 L1360 577.3 L1362.4 578.8 L1363.2 578.8 L1364.9 579.3 L1367.3 579 L1369.8 579.8 L1372.3 581.1 L1374.8 582 L1376.1 581.5 L1377.2 581.5 L1379.7 581.6 L1382.1 582.1 L1384.6 582.7 L1387 582.9 L1389 582.8 L1389.4 582.5 L1391.6 583.7 L1393.8 584.9 L1396 586.3 L1398.3 587.3 L1400.5 589 L1401.9 589.7 L1402.6 590.9 L1404.7 592.7 L1406.9 594.3 L1409 595 L1411.1 595.9 L1413.2 597.4 L1414.9 598.3 L1415.3 599.2 L1417.6 600.5 L1419.8 601.4 L1422.1 602.7 L1424.4 603.6 L1426.6 604.7 L1427.8 604.4 L1428.9 604.1 L1431.3 604.8 L1433.6 605.8 L1435.9 607.3 L1438.3 609.6 L1440.6 611 L1440.7 610.8 L1443.1 611 L1445.5 611.8 L1447.9 612.1 L1450.3 611.6 L1452.7 612 L1453.6 612.2 L1454.5 615 L1455.9 617 L1457.3 619.6 L1458.7 621.2 L1460.1 623.1 L1460.1 622.3 L1462.5 622.6 L1464.9 623 L1467.3 624.6 L1469.7 625.5 L1472.2 626.2 L1473 626.1 L1474.6 626.3 L1477 626.8 L1479.5 626.8 L1481.9 627.8 L1484.4 628.6 L1485.9 629.4 L1486.8 628.3 L1489.3 628.1 L1491.7 628.4 L1494.1 630 L1496.5 630.9 L1498.8 631.9 L1498.9 632.1 L1501.2 632.5 L1503.4 633.8 L1505.7 635.1 L1508 636.9 L1510.2 637.7 L1511.8 637.4 L1512.5 636.7 L1515 637.3 L1517.5 637.8 L1520 639.1 L1522.5 638.3 L1525 638.8 L1527.4 639.4 L1529.9 640 L1530.8 640.5 L1532.4 641.2 L1534.9 642.3 L1537.3 643.1 L1539.8 643.5 L1542.2 644.4 L1544.7 644.6 L1547.2 644.2 L1549.6 644 L1552.1 644 L1554.6 645.7 L1555.6 645.3 L1557 645.5 L1559.5 645.2 L1561.9 646.4 L1564.4 647.8 L1566.8 648.5 L1569.3 649.6 L1571.8 649.8 L1574.2 650.8 L1576.7 649.9 L1578 649.9 L1579.1 648.9 L1581.4 650.1 L1583.8 651.8 L1586.2 653.3 L1588.5 654.7 L1590.9 655.5 L1593.2 655.8 L1595.6 656.2 L1598 656 L1600.3 656.8 L1600.3 656.8 L1602.8 657.1 L1605.2 658.5 L1607.7 659.2 L1610.1 660.7 L1612.6 660.7 L1615 662 L1617.5 661.9 L1619.9 662.2 L1622.4 661 L1624.8 661.6 L1627.1 662.1 L1627.3 662.6 L1629.6 663.2 L1631.9 663.9 L1634.2 664.9 L1636.5 665.7 L1638.8 666.7 L1641.1 668 L1643.4 669.5 L1645.7 670.8 L1648 671.5 L1650.3 673 L1652.6 673.1 L1654.9 674.4 L1656.2 674.3 L1657.3 676.1 L1659.6 677 L1662 677.3 L1664.4 677.3 L1666.8 677.7 L1669.2 679.4 L1671.6 680.5 L1674 681.8 L1676.4 682.1 L1678.8 681.5 L1680.7 681.5 L1681.2 682.1 L1683.6 683.8 L1686 684.7 L1688.4 685.2 L1690.8 685.9 L1693.2 686.4 L1695.6 687.2 L1698 687.8 L1700.4 688 L1702.8 688.3 L1705.3 689.1 L1707.7 691 L1710.1 692.1 L1712.1 692.6 L1712.5 692.8 L1714.9 692.4 L1717.3 692.9 L1719.7 692.7 L1722.1 694.2 L1724.5 695.2 L1727 696 L1729.4 697.1 L1731.8 697.2 L1734.2 697.3 L1736.6 697.1 L1739 697.7 L1741.1 699.5 L1741.4 700.1 L1743.8 700.8 L1746.2 701.2 L1748.5 701.7 L1750.9 703.5 L1753.2 703.5 L1755.6 704.5" fill="none" stroke="#cc0404" stroke-width="3.3" stroke-linejoin="round" stroke-linecap="square"/>
<path d="M1011.7 39.4 L1011.8 39.4 L1011.9 39.4 L1012 39.4 L1012.2 39.4 L1012.3 39.4 L1012.4 39.4 L1012.5 39.4 L1012.6 39.4 L1012.7 39.4 L1012.8 39.4 L1013 39.4 L1013.1 39.4 L1013.2 39.4 L1013.3 39.4 L1013.4 39.6 L1013.5 41.6 L1013.6 45.3 L1013.8 47.9 L1013.9 50.6 L1014 53.2 L1014.1 56.1 L1014.2 58.5 L1014.3 61.1 L1014.4 63.6 L1014.6 66.3 L1014.7 68.5 L1014.8 71.2 L1014.9 73.9 L1015 76 L1015.1 78.3 L1015.2 80.3 L1015.3 82.8 L1015.4 85.6 L1015.4 87.9 L1015.4 89.5 L1015.5 91.7 L1015.5 95.2 L1015.6 97.2 L1015.6 99.2 L1015.7 101.6 L1015.7 104.9 L1015.7 105.6 L1015.7 107.7 L1015.8 110.2 L1015.8 113.1 L1015.9 115.6 L1015.9 117.4 L1015.9 119.8 L1016 121.4 L1016 124.5 L1016 126.5 L1016.1 129.2 L1016.1 131.9 L1016.2 134.6 L1016.2 136.7 L1016.2 138.9 L1016.3 141.1 L1016.3 143.7 L1016.3 146.2 L1016.4 148.9 L1016.4 151.6 L1016.5 153.8 L1016.5 157 L1016.5 158.6 L1016.6 160.9 L1016.6 162.8 L1016.6 165.4 L1016.7 168.1 L1016.7 170.4 L1016.8 173.2 L1016.8 176.4 L1016.8 179.6 L1016.9 181.8 L1016.9 184.5 L1016.9 186.9 L1017 189.4 L1017 191.1 L1017.1 193.2 L1017.1 196.1 L1017.1 198.1 L1017.2 200.5 L1017.2 203.1 L1017.2 206 L1017.3 208 L1017.3 210.7 L1017.4 213.5 L1017.4 216.2 L1017.4 218.7 L1017.5 221 L1017.5 223.7 L1017.5 226 L1017.6 228.1 L1017.6 228.5 L1017.7 230.7 L1017.8 233.2 L1017.9 236 L1018 238 L1018.1 240.2 L1018.2 242.4 L1018.3 244.9 L1018.4 247.2 L1018.5 248.9 L1018.6 250.6 L1018.8 253.1 L1018.9 255.7 L1019 257.6 L1019.1 260.7 L1019.2 263.3 L1019.3 266.3 L1019.4 268.5 L1019.5 271.2 L1019.6 274 L1019.7 276.1 L1019.8 279.2 L1019.9 281.5 L1020 283.9 L1020.1 286.2 L1020.2 288.6 L1020.3 291.5 L1020.5 293.4 L1020.6 295.7 L1020.7 298.2 L1020.8 300.6 L1020.9 303.5 L1021 305.6 L1021.1 308.7 L1021.2 312 L1021.3 314.6 L1021.4 316.9 L1021.5 319.4 L1021.6 321.7 L1021.7 323.1 L1021.8 325.1 L1021.9 327.6 L1022 330 L1022.1 331.7 L1022.1 332.5 L1022.2 336 L1022.3 338 L1022.4 340.7 L1022.4 343.8 L1022.5 346.2 L1022.6 348 L1022.7 350.5 L1022.8 354.3 L1022.8 357.2 L1022.9 359.2 L1023 361.6 L1023.1 364 L1023.2 366.2 L1023.3 368.3 L1023.3 370.4 L1023.4 373 L1023.5 375.3 L1023.6 378.4 L1023.7 381.2 L1023.7 383.8 L1023.8 386.6 L1023.9 389.1 L1024 391.7 L1024.1 394.2 L1024.1 395.7 L1024.1 395.4 L1024.3 397.7 L1024.4 400.6 L1024.6 402.7 L1024.7 405 L1024.8 407.2 L1025 410 L1025.1 412.5 L1025.3 414.5 L1025.4 417.9 L1025.6 420.7 L1025.7 424 L1025.8 425.9 L1026 428.3 L1026.1 430.3 L1026.3 432.7 L1026.4 435.1 L1026.5 437.2 L1026.7 439.7 L1026.8 442.3 L1027 445.5 L1027.1 447.8 L1027.1 448.1 L1027.6 450.2 L1028.1 453.2 L1028.6 454.4 L1029.1 456 L1029.3 456.7 L1029.6 458.4 L1029.9 460.6 L1030.3 463 L1030.7 466.7 L1031 469.9 L1031.4 472.2 L1031.8 474.5 L1032.3 477 L1032.7 480 L1033.2 483.1 L1033.3 483.5 L1033.5 485.6 L1033.8 489.4 L1034.1 492.8 L1034.4 495.4 L1034.6 498.1 L1034.9 501.7 L1035.2 504.6 L1035.4 507.6 L1035.7 510.6 L1036 513.5 L1036.2 516.5 L1036.5 518.2 L1036.8 521.3 L1036.9 521.8 L1037.4 524.2 L1038.3 527.7 L1039.2 531 L1040.1 534.6 L1041 538.6 L1041.8 541.8 L1042.7 544.8 L1042.9 545.6 L1044 548.5 L1045.6 551.5 L1047.1 554.2 L1048.7 557 L1050.3 559.4 L1051.8 562.3 L1053.4 565.1 L1054.6 566.9 L1055 567.5 L1056.6 570 L1058.2 572.9 L1059.8 575.2 L1061.4 577.9 L1063 580.5 L1063.5 581.2 L1065.1 582.9 L1067.3 585 L1069.4 586.8 L1069.6 586.9 L1071.5 589.3 L1073.5 591.8 L1075.5 593.9 L1076.9 595.3 L1077.6 596 L1080 597.8 L1082.4 599 L1084.8 599.6 L1087.2 600.7 L1089.6 602 L1092 602.6 L1094.4 603.5 L1096.8 604.3 L1099.2 605.3 L1099.2 605.1 L1101.6 605.5 L1104 606.7 L1106.4 607.4 L1108.8 608.4 L1111.2 608.9 L1113.6 609.9 L1116 610.8 L1118.3 611.6 L1120.7 612.6 L1123 613.2 L1123.1 613.4 L1125.5 613.9 L1127.9 614.7 L1130.3 615.2 L1132.7 616 L1135.1 616.7 L1137.5 617.5 L1139.8 618.4 L1142.2 619.5 L1144.6 620.1 L1147 620.9 L1149.4 622 L1151.8 622.9 L1154.2 624.1 L1155.7 624.2 L1156.5 624.7 L1158.9 625.1 L1161.3 626.1 L1163.7 626.7 L1166.1 626.9 L1168.5 627.6 L1170.9 628.2 L1173.3 629.1 L1175.7 629.4 L1178.1 631 L1180.5 632 L1182.9 632.7 L1185.3 633.9 L1187.7 634.3 L1190.1 635.3 L1192.5 635.7 L1194.9 636.4 L1197.2 637.5 L1199.6 638.1 L1202 639.3 L1203.4 639.6 L1204.4 639.4 L1206.9 640.4 L1209.3 640.6 L1211.7 641.2 L1214.2 641.8 L1216.6 642.7 L1219 643.4 L1221.5 643.7 L1223.9 644.7 L1226.3 645.3 L1228.8 645.6 L1231.2 645.9 L1233.6 646.6 L1236.1 647.4 L1238.5 648 L1240.9 648.7 L1243.4 649.5 L1245.8 650.2 L1248.2 650.6 L1250.7 651.2 L1253.1 651.6 L1254.5 652 L1255.5 652.4 L1258 652.8 L1260.4 653.4 L1262.9 653.9 L1265.4 654.2 L1267.8 654.6 L1270.3 655.1 L1272.7 655.6 L1275.2 656.2 L1277.6 656.5 L1280.1 657.3 L1282.6 658 L1285 658.4 L1287.5 658.7 L1289.9 659.1 L1292.4 660 L1294.9 660.4 L1297.3 660.6 L1299.8 661 L1302.2 661.6 L1304.7 662.4 L1305 662.2 L1307.2 662.3 L1309.6 662.6 L1312.1 663.1 L1314.6 663.8 L1317.1 663.8 L1319.6 663.9 L1322.1 664.4 L1324.5 664.7 L1327 664.9 L1329.5 664.9 L1332 665.4 L1334.5 665.9 L1336.9 666.3 L1339.4 666.8 L1341.9 666.8 L1344.4 667.4 L1346.9 667.6 L1349.4 668.1 L1351.8 668.5 L1354.3 668.6 L1356.8 669.3 L1359.3 669.5 L1361.8 669.9 L1364.3 670.1 L1366.7 670.3 L1369.2 670.6 L1371.7 670.9 L1374.2 671.3 L1376.7 671.4 L1379.1 671.7 L1380.9 672.1 L1381.6 672.1 L1384.1 672.4 L1386.6 672.6 L1389.1 673 L1391.6 673.4 L1394 673.6 L1396.5 674.2 L1399 674.2 L1401.5 674.7 L1404 674.9 L1406.5 675.4 L1408.9 675.9 L1411.4 676.2 L1413.9 677 L1416.4 677.3 L1418.9 677.6 L1421.4 677.6 L1423.8 677.9 L1426.3 678.3 L1428.8 678.5 L1431.3 678.8 L1433.8 679.2 L1436.3 679.7 L1438.7 679.9 L1441.2 680.3 L1443.7 680.5 L1446.2 680.9 L1448.7 681.2 L1451.2 681.6 L1453.6 682 L1455.9 682.1 L1456.1 682.2 L1458.6 682.3 L1461.1 682.7 L1463.6 682.9 L1466.1 683.2 L1468.6 683.6 L1471 683.7 L1473.5 684.1 L1476 684.3 L1478.5 684.4 L1481 684.7 L1483.5 684.8 L1486 685.3 L1488.5 685.6 L1490.9 686.1 L1493.4 686.7 L1495.9 687.1 L1498.4 687.3 L1499.7 687.4 L1500.9 687.6 L1503.4 687.7 L1505.9 687.9 L1508.4 688.1 L1510.8 688.8 L1513.3 689.1 L1515.8 689.3 L1518.3 689.7 L1520.8 689.9 L1523.3 690.1 L1525.8 690.2 L1528.2 690.4 L1530.7 690.7 L1530.8 690.6 L1533.2 691 L1535.7 691.3 L1538.2 691.5 L1540.7 691.7 L1543.2 691.8 L1545.7 692.2 L1548.2 692.2 L1550.7 692.3 L1553.2 692.5 L1555.7 692.7 L1558.2 692.7 L1560.7 692.7 L1563.2 692.7 L1565.7 692.9 L1568.2 693 L1570.7 693.1 L1573.2 693.3 L1575.7 693.3 L1578.2 693.6 L1580.7 693.8 L1583.2 693.9 L1585.7 694 L1588.2 694.2 L1590.7 694.5 L1593.2 694.6 L1595.7 694.5 L1598.2 694.5 L1600.7 694.6 L1603.2 694.8 L1605.7 695 L1608.2 695.2 L1610.7 695.6 L1613.2 695.7 L1615.7 696.1 L1618.2 696.2 L1620.7 696.4 L1623.2 696.4 L1625.7 696.3 L1628.2 696.5 L1630.7 696.4 L1633.2 696.4 L1635.7 696.3 L1638.2 696.6 L1640.7 696.9 L1643.2 697.1 L1645.7 697.4 L1648.2 697.7 L1650.7 697.9 L1653.2 698 L1655.7 698.2 L1658.2 698.4 L1660.7 698.6 L1663.2 698.8 L1665.7 698.9 L1668.2 698.9 L1670.7 699.1 L1673.1 699.3 L1675.6 699.4 L1678.1 699.5 L1680.6 699.6 L1683.1 699.8 L1685.6 700 L1688.1 700.1 L1690.6 700.3 L1693.1 700.4 L1695.6 700.6 L1698.1 700.8 L1700.6 700.8 L1703.1 701 L1705.6 701.1 L1708.1 701.2 L1710.6 701.5 L1713.1 701.7 L1715.6 701.9 L1718.1 702 L1720.6 702.2 L1723.1 702.4 L1725.6 702.4 L1728.1 702.6 L1730.6 702.7 L1733.1 703 L1735.6 703 L1738.1 703.1 L1740.6 703.2 L1743.1 703.3 L1745.6 703.5 L1748.1 703.6 L1750.6 703.7 L1753.1 704 L1755.6 704.1 L1755.6 706.9 L1753.1 706.7 L1750.6 706.6 L1748.1 706.4 L1745.6 706.3 L1743.1 706.2 L1740.6 706 L1738.1 705.9 L1735.6 705.6 L1733.1 705.5 L1730.6 705.4 L1728.1 705.3 L1725.6 705.1 L1723.1 705 L1720.6 705 L1718.1 705 L1715.6 705 L1713.1 704.9 L1710.6 704.9 L1708.1 704.7 L1705.6 704.5 L1703.1 704.3 L1700.6 704.1 L1698.1 704 L1695.6 703.9 L1693.1 703.8 L1690.6 703.6 L1688.1 703.5 L1685.6 703.4 L1683.1 703.2 L1680.6 703.1 L1678.1 703 L1675.6 703.1 L1673.1 702.9 L1670.7 702.9 L1668.2 702.9 L1665.7 702.6 L1663.2 702.5 L1660.7 702.3 L1658.2 702.1 L1655.7 701.9 L1653.2 701.8 L1650.7 701.8 L1648.2 701.6 L1645.7 701.5 L1643.2 701.5 L1640.7 701.5 L1638.2 701.3 L1635.7 701 L1633.2 701 L1630.7 700.9 L1628.2 700.7 L1625.7 700.6 L1623.2 700.5 L1620.7 700.5 L1618.2 700.2 L1615.7 699.8 L1613.2 699.7 L1610.7 699.6 L1608.2 699.5 L1605.7 699.2 L1603.2 699.3 L1600.7 699.4 L1598.2 699.2 L1595.7 699 L1593.2 698.8 L1590.7 698.9 L1588.2 698.9 L1585.7 698.7 L1583.2 698.7 L1580.7 698.6 L1578.2 698.4 L1575.7 698.3 L1573.2 697.9 L1570.7 697.9 L1568.2 697.9 L1565.7 697.7 L1563.2 697.8 L1560.7 697.6 L1558.2 697.7 L1555.7 697.4 L1553.2 697.3 L1550.7 697.2 L1548.2 697 L1545.7 696.9 L1543.2 696.6 L1540.7 696.7 L1538.2 696.4 L1535.7 696.3 L1533.2 696.2 L1530.8 696.1 L1530.7 696.2 L1528.2 695.8 L1525.8 695.7 L1523.3 695.4 L1520.8 695.1 L1518.3 694.7 L1515.8 694.4 L1513.3 694 L1510.8 693.7 L1508.4 693.3 L1505.9 693 L1503.4 693 L1500.9 692.8 L1499.7 692.7 L1498.4 692.4 L1495.9 692.4 L1493.4 692.2 L1490.9 691.8 L1488.5 691.4 L1486 691.3 L1483.5 691.1 L1481 690.7 L1478.5 690.6 L1476 690.4 L1473.5 690.4 L1471 690.2 L1468.6 690.1 L1466.1 689.6 L1463.6 689 L1461.1 688.7 L1458.6 688.4 L1456.1 688 L1455.9 687.9 L1453.6 687.8 L1451.2 687.4 L1448.7 687.1 L1446.2 686.7 L1443.7 686.4 L1441.2 686.4 L1438.7 686.2 L1436.3 686.1 L1433.8 686 L1431.3 685.6 L1428.8 685.3 L1426.3 684.8 L1423.8 684.5 L1421.4 684 L1418.9 683.6 L1416.4 683.4 L1413.9 683.1 L1411.4 682.9 L1408.9 682.7 L1406.5 682.4 L1404 682 L1401.5 681.8 L1399 681.6 L1396.5 681.2 L1394 680.9 L1391.6 680.8 L1389.1 680.8 L1386.6 680.5 L1384.1 680.3 L1381.6 680.2 L1380.9 679.8 L1379.1 679.6 L1376.7 679 L1374.2 678.7 L1371.7 678.2 L1369.2 677.9 L1366.7 678 L1364.3 677.3 L1361.8 676.8 L1359.3 676.5 L1356.8 676 L1354.3 675.7 L1351.8 675.6 L1349.4 675.2 L1346.9 675.1 L1344.4 674.9 L1341.9 674.7 L1339.4 674.4 L1336.9 673.9 L1334.5 673.9 L1332 673.6 L1329.5 673.1 L1327 672.9 L1324.5 672.5 L1322.1 672.2 L1319.6 671.9 L1317.1 671.4 L1314.6 671.3 L1312.1 670.9 L1309.6 670.6 L1307.2 670.2 L1305 669.9 L1304.7 669.9 L1302.2 669.8 L1299.8 669.7 L1297.3 669.2 L1294.9 668.9 L1292.4 668.6 L1289.9 668.1 L1287.5 667.6 L1285 666.9 L1282.6 666.6 L1280.1 666.1 L1277.6 665.8 L1275.2 665.3 L1272.7 664.6 L1270.3 664.2 L1267.8 663.6 L1265.4 663.2 L1262.9 662.7 L1260.4 662.4 L1258 661.8 L1255.5 661.1 L1254.5 661.1 L1253.1 661 L1250.7 660.2 L1248.2 659.2 L1245.8 659.1 L1243.4 658.8 L1240.9 658.2 L1238.5 657.3 L1236.1 657 L1233.6 656.7 L1231.2 656.1 L1228.8 655.5 L1226.3 655 L1223.9 654.3 L1221.5 653.6 L1219 653.2 L1216.6 652.4 L1214.2 652 L1211.7 651.4 L1209.3 651.5 L1206.9 650.8 L1204.4 650.2 L1203.4 649.7 L1202 649 L1199.6 648.1 L1197.2 647 L1194.9 646 L1192.5 645.1 L1190.1 644.7 L1187.7 644.1 L1185.3 643.6 L1182.9 642.9 L1180.5 642.6 L1178.1 642.2 L1175.7 641.4 L1173.3 640.7 L1170.9 640.3 L1168.5 639.4 L1166.1 638.5 L1163.7 637.7 L1161.3 637 L1158.9 636.3 L1156.5 635.5 L1155.7 635.5 L1154.2 635 L1151.8 634.4 L1149.4 634.1 L1147 633.3 L1144.6 632.8 L1142.2 631.7 L1139.8 631.2 L1137.5 630.2 L1135.1 629 L1132.7 628.5 L1130.3 627.9 L1127.9 627.4 L1125.5 626.7 L1123.1 626.3 L1123 626.4 L1120.7 625.5 L1118.3 625 L1116 624.5 L1113.6 623.8 L1111.2 623.1 L1108.8 623 L1106.4 622.7 L1104 621.6 L1101.6 620.9 L1099.2 620.7 L1099.2 620.8 L1096.8 619.8 L1094.4 619.1 L1092 618.5 L1089.6 618 L1087.2 616.9 L1084.8 616.1 L1082.4 615.5 L1080 615.1 L1077.6 615.1 L1076.9 615 L1075.5 614.5 L1073.5 613.8 L1071.5 613 L1069.6 612.2 L1069.4 612.2 L1067.3 612.1 L1065.1 612 L1063.5 611.8 L1063 611.7 L1061.4 610.4 L1059.8 609.3 L1058.2 608.2 L1056.6 606.7 L1055 605.6 L1054.6 605.2 L1053.4 604.3 L1051.8 603 L1050.3 601.6 L1048.7 600.8 L1047.1 599.9 L1045.6 598.7 L1044 597.5 L1042.6 597.1 L1042.4 597.1 L1041.2 596.1 L1040 595 L1038.8 593.9 L1037.6 593.2 L1036.4 592.4 L1035.2 591.6 L1034.5 590.5 L1034.3 589.6 L1034 587.4 L1033.6 585 L1033.2 582.5 L1032.9 580.7 L1032.5 578.6 L1032.1 575.9 L1031.8 573.8 L1031.4 570.8 L1031.1 569.5 L1030.7 567 L1030.3 564.7 L1030 563.5 L1029.7 562.1 L1029.5 562.6 L1028.9 560.7 L1028.2 559.4 L1027.6 557.7 L1026.9 554.8 L1026.1 552.1 L1025.4 550.6 L1024.7 547.3 L1024 544.4 L1023.3 542.3 L1022.9 541.2 L1022.5 540.2 L1021.4 537.1 L1020.4 535.2 L1019.4 533 L1018.7 531.8 L1018.7 530.8 L1018.5 528.7 L1018.3 526.5 L1018.2 524.1 L1018 521.5 L1017.8 518.6 L1017.7 516.6 L1017.5 514.4 L1017.3 511.4 L1017.2 509 L1017 506.5 L1016.8 504.3 L1016.6 501 L1016.5 497.9 L1016.3 495.9 L1016.1 493.9 L1016 492.1 L1015.8 490 L1015.6 488.2 L1015.5 485.6 L1015.3 483.3 L1015.1 479.8 L1015.1 479.6 L1015 477.2 L1014.9 474.6 L1014.8 471.3 L1014.7 468.6 L1014.6 466.8 L1014.5 463.9 L1014.4 461.3 L1014.3 458.3 L1014.2 456.8 L1014.1 454.5 L1014.1 451.4 L1014 448.8 L1013.9 446.3 L1013.8 444.1 L1013.7 442.2 L1013.6 439.5 L1013.5 437.1 L1013.4 434.4 L1013.3 431.5 L1013.2 429.2 L1013.1 425.6 L1013 422.7 L1012.9 420.3 L1012.8 418.1 L1012.7 415.8 L1012.7 415 L1012.6 413.5 L1012.5 410.7 L1012.4 408 L1012.3 405.6 L1012.2 402.8 L1012.2 400 L1012.1 397.6 L1012 395.7 L1011.9 393.9 L1011.8 391 L1011.7 388.9 L1011.6 386.8 L1011.5 384.9 L1011.4 382.3 L1011.3 379.6 L1011.3 377.3 L1011.2 374.4 L1011.1 371.6 L1011 368.9 L1010.9 366.5 L1010.8 363.5 L1010.7 361.6 L1010.6 359 L1010.5 356.4 L1010.5 353.3 L1010.4 350.6 L1010.3 348.7 L1010.2 345.2 L1010.1 343.4 L1010 341.6 L1009.9 339 L1009.8 336.4 L1009.7 333 L1009.6 330.7 L1009.6 327.1 L1009.5 323.7 L1009.4 321.6 L1009.3 318.7 L1009.2 316 L1009.1 313.4 L1009 311.2 L1008.9 308 L1008.8 304.8 L1008.8 304.8 L1008.8 302.7 L1008.8 300.2 L1008.7 297.9 L1008.7 296.5 L1008.7 294.3 L1008.6 290.9 L1008.6 288.5 L1008.6 285.7 L1008.5 283.2 L1008.5 280.1 L1008.5 277.4 L1008.4 275.2 L1008.4 272.6 L1008.4 269.8 L1008.4 267.3 L1008.3 265.2 L1008.3 262.6 L1008.3 260.1 L1008.2 257.6 L1008.2 255.3 L1008.2 252.5 L1008.1 249.6 L1008.1 247.2 L1008.1 245.3 L1008 242.8 L1008 240.2 L1008 237.5 L1007.9 235.1 L1007.9 233.1 L1007.9 230.8 L1007.8 228 L1007.8 225.4 L1007.8 222.8 L1007.8 219.7 L1007.7 216.9 L1007.7 213.6 L1007.7 211.7 L1007.6 209.5 L1007.6 206.8 L1007.6 204.2 L1007.5 201.7 L1007.5 199.3 L1007.5 196.6 L1007.4 194.6 L1007.4 191.7 L1007.4 189.8 L1007.3 186.8 L1007.3 184.3 L1007.3 182.4 L1007.3 179.9 L1007.2 179.6 L1007.2 176.3 L1007.2 174.1 L1007.1 171.9 L1007.1 168.4 L1007.1 165.5 L1007 163.1 L1007 160.9 L1007 157.9 L1006.9 155 L1006.9 153.3 L1006.9 151.1 L1006.9 149 L1006.9 147.2 L1006.9 145 L1006.9 142.8 L1006.9 139.6 L1006.8 136.6 L1006.8 133.2 L1006.8 130.5 L1006.8 128 L1006.8 125.6 L1006.8 123.6 L1006.8 121.2 L1006.8 119.4 L1006.8 116.7 L1006.8 114.2 L1006.8 111.1 L1006.8 108.5 L1006.8 106.1 L1006.7 103.4 L1006.7 101.1 L1006.7 98.1 L1006.7 95.8 L1006.7 92.8 L1006.7 90.4 L1006.7 88.1 L1006.7 85 L1006.7 83 L1006.7 80.5 L1006.7 78.2 L1006.7 75.7 Z" fill="#804cb4" fill-opacity="0.2" stroke="#804cb4" stroke-opacity="0.2" stroke-width="2" stroke-linejoin="round"/>
<path d="M1008.1 39.4 L1008.1 41.9 L1008.2 44.4 L1008.2 46.9 L1008.3 49.4 L1008.3 51.9 L1008.3 54.4 L1008.4 56.9 L1008.4 59.4 L1008.4 61.9 L1008.5 64.4 L1008.5 66.9 L1008.6 69.4 L1008.6 71.9 L1008.6 74.4 L1008.7 76.9 L1008.7 79.4 L1008.7 81.9 L1008.8 84.4 L1008.8 86.9 L1008.9 89.4 L1008.9 91.9 L1008.9 94.4 L1009 96.9 L1009 99.4 L1009.1 101.9 L1009.1 104.4 L1009.1 106.9 L1009.2 109.5 L1009.2 112 L1009.2 114.5 L1009.3 117 L1009.3 119.5 L1009.4 122 L1009.4 124.5 L1009.4 127 L1009.5 129.5 L1009.5 132 L1009.5 134.5 L1009.6 137 L1009.6 139.5 L1009.7 142 L1009.7 142.7 L1009.7 144.5 L1009.7 147 L1009.8 149.5 L1009.8 152 L1009.8 154.5 L1009.9 157 L1009.9 159.5 L1009.9 162 L1010 164.5 L1010 167 L1010 169.5 L1010.1 172 L1010.1 174.5 L1010.1 177 L1010.2 179.5 L1010.2 182 L1010.2 184.5 L1010.3 187 L1010.3 189.5 L1010.3 192 L1010.4 194.5 L1010.4 197 L1010.4 199.5 L1010.5 202 L1010.5 204.5 L1010.5 207 L1010.6 209.5 L1010.6 212 L1010.6 214.5 L1010.7 217 L1010.7 219.5 L1010.7 222 L1010.8 224.5 L1010.8 227 L1010.8 229.5 L1010.9 232 L1010.9 234.5 L1010.9 237 L1011 239.6 L1011 242.1 L1011 244.6 L1011.1 247.1 L1011.1 249.6 L1011.1 252.1 L1011.2 254.6 L1011.2 257.1 L1011.2 259.6 L1011.3 262.1 L1011.3 264.6 L1011.3 266.6 L1011.3 267.1 L1011.4 269.6 L1011.5 272.1 L1011.6 274.6 L1011.7 277.1 L1011.8 279.6 L1011.9 282.1 L1012 284.6 L1012.1 287.1 L1012.2 289.6 L1012.3 292.1 L1012.4 294.6 L1012.5 297.1 L1012.6 299.6 L1012.7 302.1 L1012.8 304.6 L1012.8 307.1 L1012.9 309.6 L1013 312.1 L1013.1 314.6 L1013.2 317.1 L1013.3 319.6 L1013.4 322.1 L1013.5 324.6 L1013.6 327.1 L1013.7 329.6 L1013.8 332.1 L1013.9 334.6 L1014 337.1 L1014.1 339.6 L1014.2 342.1 L1014.3 344.6 L1014.4 347.1 L1014.4 349.6 L1014.5 352.1 L1014.6 354.6 L1014.7 357.1 L1014.8 359.6 L1014.9 362.1 L1015 364.6 L1015.1 367.1 L1015.2 369.6 L1015.3 372.1 L1015.4 374 L1015.4 374.6 L1015.5 377.1 L1015.6 379.6 L1015.7 382.1 L1015.8 384.6 L1015.9 387.1 L1015.9 389.6 L1016 392.1 L1016.1 394.6 L1016.2 397.1 L1016.3 399.6 L1016.4 402.1 L1016.5 404.6 L1016.6 407.1 L1016.7 409.6 L1016.8 412.1 L1016.9 414.6 L1017 417.1 L1017 419.6 L1017.1 422.1 L1017.2 424.6 L1017.3 427.1 L1017.4 429.6 L1017.5 432.1 L1017.6 434.6 L1017.7 437 L1017.7 437.1 L1017.9 439.6 L1018 442.1 L1018.2 444.6 L1018.3 447.1 L1018.5 449.6 L1018.7 452.1 L1018.8 454.6 L1019 457.1 L1019.2 459.6 L1019.3 462.1 L1019.5 464.6 L1019.6 467.1 L1019.8 469.6 L1020 472.1 L1020.1 474.6 L1020.3 477 L1020.4 479.5 L1020.6 482 L1020.8 484.5 L1020.9 487 L1021.1 489.5 L1021.1 490.3 L1021.7 491.9 L1022.6 494.3 L1023.5 496.6 L1024.4 499 L1024.7 499.9 L1025.1 501.3 L1025.7 503.8 L1026.3 506.2 L1026.9 508.6 L1027.5 511.1 L1028.2 513.5 L1028.8 515.9 L1029.4 518.3 L1030 520.8 L1030.6 523.2 L1030.7 523.7 L1031 525.7 L1031.3 528.1 L1031.7 530.6 L1032 533.1 L1032.3 535.6 L1032.7 538 L1033 540.5 L1033.3 543 L1033.7 545.5 L1034 548 L1034.3 550.4 L1034.7 552.9 L1035 555.4 L1035.1 556.4 L1035.8 557.7 L1036.9 560 L1038 562.2 L1039.1 564.5 L1040.3 566.7 L1041.4 569 L1042.5 571.2 L1042.6 571.5 L1044 573.2 L1045.6 575.1 L1047.1 577.1 L1048.7 579 L1050.3 581 L1051.8 582.9 L1053.4 584.9 L1054.6 586.3 L1055 586.8 L1056.6 588.7 L1058.2 590.7 L1059.8 592.6 L1061.4 594.5 L1063 596.4 L1063.5 597 L1065.1 597.7 L1067.3 598.8 L1069.4 599.8 L1069.6 599.9 L1071.5 601.4 L1073.5 603 L1075.5 604.5 L1076.9 605.6 L1077.6 605.8 L1080 606.5 L1082.4 607.2 L1084.8 607.9 L1087.2 608.6 L1089.6 609.3 L1092 610 L1094.4 610.7 L1096.8 611.4 L1099.2 612.1 L1099.2 612.1 L1101.6 612.9 L1104 613.6 L1106.4 614.3 L1108.8 615.1 L1111.2 615.8 L1113.6 616.5 L1116 617.2 L1118.3 618 L1120.7 618.7 L1123 619.4 L1123.1 619.4 L1125.5 620.2 L1127.9 620.9 L1130.3 621.7 L1132.7 622.4 L1135.1 623.2 L1137.5 623.9 L1139.8 624.7 L1142.2 625.4 L1144.6 626.2 L1147 627 L1149.4 627.7 L1151.8 628.5 L1154.2 629.2 L1155.7 629.7 L1156.5 630 L1158.9 630.7 L1161.3 631.4 L1163.7 632.1 L1166.1 632.9 L1168.5 633.6 L1170.9 634.3 L1173.3 635 L1175.7 635.8 L1178.1 636.5 L1180.5 637.2 L1182.9 637.9 L1185.3 638.7 L1187.7 639.4 L1190.1 640.1 L1192.5 640.9 L1194.9 641.6 L1197.2 642.3 L1199.6 643 L1202 643.8 L1203.4 644.2 L1204.4 644.4 L1206.9 645 L1209.3 645.6 L1211.7 646.2 L1214.2 646.8 L1216.6 647.4 L1219 648 L1221.5 648.5 L1223.9 649.1 L1226.3 649.7 L1228.8 650.3 L1231.2 650.9 L1233.6 651.5 L1236.1 652.1 L1238.5 652.7 L1240.9 653.3 L1243.4 653.8 L1245.8 654.4 L1248.2 655 L1250.7 655.6 L1253.1 656.2 L1254.5 656.6 L1255.5 656.7 L1258 657.2 L1260.4 657.7 L1262.9 658.1 L1265.4 658.6 L1267.8 659.1 L1270.3 659.6 L1272.7 660 L1275.2 660.5 L1277.6 661 L1280.1 661.4 L1282.6 661.9 L1285 662.4 L1287.5 662.8 L1289.9 663.3 L1292.4 663.8 L1294.9 664.2 L1297.3 664.7 L1299.8 665.2 L1302.2 665.7 L1304.7 666.1 L1305 666.2 L1307.2 666.5 L1309.6 666.8 L1312.1 667.1 L1314.6 667.4 L1317.1 667.7 L1319.6 668 L1322.1 668.3 L1324.5 668.7 L1327 669 L1329.5 669.3 L1332 669.6 L1334.5 669.9 L1336.9 670.2 L1339.4 670.6 L1341.9 670.9 L1344.4 671.2 L1346.9 671.5 L1349.4 671.8 L1351.8 672.1 L1354.3 672.4 L1356.8 672.8 L1359.3 673.1 L1361.8 673.4 L1364.3 673.7 L1366.7 674 L1369.2 674.3 L1371.7 674.7 L1374.2 675 L1376.7 675.3 L1379.1 675.6 L1380.9 675.8 L1381.6 675.9 L1384.1 676.2 L1386.6 676.5 L1389.1 676.8 L1391.6 677.1 L1394 677.4 L1396.5 677.8 L1399 678.1 L1401.5 678.4 L1404 678.7 L1406.5 679 L1408.9 679.3 L1411.4 679.6 L1413.9 679.9 L1416.4 680.2 L1418.9 680.5 L1421.4 680.8 L1423.8 681.1 L1426.3 681.5 L1428.8 681.8 L1431.3 682.1 L1433.8 682.4 L1436.3 682.7 L1438.7 683 L1441.2 683.3 L1443.7 683.6 L1446.2 683.9 L1448.7 684.2 L1451.2 684.5 L1453.6 684.8 L1455.9 685.1 L1456.1 685.1 L1458.6 685.4 L1461.1 685.7 L1463.6 686 L1466.1 686.2 L1468.6 686.5 L1471 686.8 L1473.5 687.1 L1476 687.3 L1478.5 687.6 L1481 687.9 L1483.5 688.2 L1486 688.4 L1488.5 688.7 L1490.9 689 L1493.4 689.2 L1495.9 689.5 L1498.4 689.8 L1499.7 689.9 L1500.9 690.1 L1503.4 690.3 L1505.9 690.6 L1508.4 690.9 L1510.8 691.2 L1513.3 691.4 L1515.8 691.7 L1518.3 692 L1520.8 692.3 L1523.3 692.5 L1525.8 692.8 L1528.2 693.1 L1530.7 693.4 L1530.8 693.4 L1533.2 693.5 L1535.7 693.6 L1538.2 693.8 L1540.7 693.9 L1543.2 694 L1545.7 694.2 L1548.2 694.3 L1550.7 694.5 L1553.2 694.6 L1555.7 694.7 L1558.2 694.9 L1560.7 695 L1563.2 695.1 L1565.7 695.3 L1568.2 695.4 L1570.7 695.5 L1573.2 695.7 L1575.7 695.8 L1578.2 695.9 L1580.7 696.1 L1583.2 696.2 L1585.7 696.3 L1588.2 696.5 L1590.7 696.6 L1593.2 696.7 L1595.7 696.9 L1598.2 697 L1600.7 697.1 L1603.2 697.3 L1605.7 697.4 L1608.2 697.6 L1610.7 697.7 L1613.2 697.8 L1615.7 698 L1618.2 698.1 L1620.7 698.2 L1623.2 698.4 L1625.7 698.5 L1628.2 698.6 L1630.7 698.8 L1633.2 698.9 L1635.7 699 L1638.2 699.2 L1640.7 699.3 L1643.2 699.4 L1645.7 699.6 L1648.2 699.7 L1650.7 699.8 L1653.2 700 L1655.7 700.1 L1658.2 700.2 L1660.7 700.4 L1663.2 700.5 L1665.7 700.6 L1668.2 700.8 L1670.7 700.9 L1673.1 701.1 L1675.6 701.2 L1678.1 701.3 L1680.6 701.5 L1683.1 701.6 L1685.6 701.7 L1688.1 701.9 L1690.6 702 L1693.1 702.1 L1695.6 702.3 L1698.1 702.4 L1700.6 702.5 L1703.1 702.7 L1705.6 702.8 L1708.1 702.9 L1710.6 703.1 L1713.1 703.2 L1715.6 703.3 L1718.1 703.5 L1720.6 703.6 L1723.1 703.7 L1725.6 703.9 L1728.1 704 L1730.6 704.1 L1733.1 704.3 L1735.6 704.4 L1738.1 704.6 L1740.6 704.7 L1743.1 704.8 L1745.6 705 L1748.1 705.1 L1750.6 705.2 L1753.1 705.4 L1755.6 705.5" fill="none" stroke="#804cb4" stroke-width="3.3" stroke-linejoin="round" stroke-linecap="square"/>
<path d="M1006.3 725.7 L1007.3 723.4 L1008.4 721.1 L1009.4 718.9 L1010.4 716.6 L1011.5 714.4 L1012.5 712.1 L1013.6 709.8 L1014.6 707.6 L1015.6 705.3 L1016.7 703 L1017.7 700.7 L1018.7 698.4 L1019.8 696.1 L1020.8 693.8 L1021.9 691.5 L1022.9 689.3 L1023.9 687 L1025 684.7 L1026 682.5 L1027 680.2 L1028.1 677.9 L1029.1 675.7 L1030.2 673.4 L1031.2 671.1 L1032.2 668.8 L1033.3 666.6 L1034.3 664.3 L1035.3 662 L1036.4 659.7 L1037.4 657.5 L1038.5 655.2 L1039.5 652.9 L1040.5 650.6 L1041.6 648.4 L1042.6 646.1 L1043.6 643.9 L1044.7 641.7 L1045.7 639.4 L1046.7 637.1 L1047.8 634.8 L1048.8 632.5 L1049.9 630.2 L1050.9 627.9 L1051.9 625.6 L1053 623.3 L1053.1 623.1 L1053.4 620.9 L1053.8 618.4 L1054.2 615.9 L1054.3 615.6 L1055.6 613.9 L1057.1 611.9 L1058.6 609.9 L1060.1 607.9 L1061.6 606 L1063.1 604 L1063.5 603.6 L1065.4 604 L1067.8 604.5 L1070.3 604.9 L1072.7 605.5 L1075.2 606 L1077.6 606.5 L1080.1 607.1 L1082.5 607.7 L1084.9 608.2 L1087.4 608.7 L1089.8 609.3 L1092.3 609.8 L1094.7 610.2 L1097.2 610.7 L1099.6 611.3 L1102 612 L1104.5 612.5 L1106.9 613.2 L1109.4 613.7 L1111.8 614.3 L1114.3 614.7 L1116.7 615.2 L1119.1 615.8 L1121.6 616.2 L1124 616.8 L1126.5 617.2 L1128.9 617.8 L1131.4 618.3 L1133.8 618.8 L1136.2 619.2 L1138.7 619.8 L1141.1 620.5 L1143.6 620.9 L1146 621.4 L1148.5 621.9 L1150.9 622.6 L1153.3 623.1 L1155.8 623.5 L1158.2 624.2 L1160.7 624.7 L1163.1 625.3 L1165.6 625.6 L1166.1 625.6 L1168 625.9 L1170.5 626.2 L1173 626.5 L1175.4 626.9 L1177.9 627.5 L1180.4 628 L1182.8 628.4 L1184 628.6 L1184.5 627.4 L1185.3 625.1 L1185.5 624.1 L1187.2 624.1 L1189.7 624.2 L1192.2 624.4 L1194.7 624.5 L1197.2 624.7 L1199.7 624.9 L1202.2 625.2 L1204.7 625.4 L1207.2 625.6 L1209.4 625.3 L1209.5 624.7 L1210.9 621.6 L1212.3 618.4 L1212.4 618.2 L1214.8 616.9 L1217.3 616 L1219.8 616.5 L1222.3 616.8 L1224.7 617.6 L1227.2 617.4 L1229.7 617.9 L1230.2 618.9 L1232.2 619.4 L1234.6 619.7 L1237.1 619.8 L1239.5 620.5 L1242 620.5 L1244.4 619.9 L1246.9 619.9 L1249.4 620.4 L1251.8 620.9 L1254.3 621.2 L1256.7 621.5 L1259.2 622.3 L1261.6 623.1 L1264.1 624.3 L1266.5 624.9 L1269 625.6 L1271.4 626.3 L1273.9 626.9 L1276.3 627.2 L1278.8 627.4 L1281.2 627.8 L1283.7 628.4 L1286.2 628.6 L1288.6 628.6 L1291.1 629.3 L1293.5 630.2 L1296 630.6 L1298.4 631.1 L1300.9 631.9 L1303.3 633.3 L1305.8 633.7 L1308.2 634.2 L1310.7 635.1 L1313.1 635.3 L1315.6 635.8 L1318 635.9 L1320.5 636.6 L1323 637 L1325.4 637.2 L1327.9 637.9 L1330.3 638.3 L1332.8 638.9 L1335.2 639.4 L1337.7 639.7 L1340.1 640 L1342.6 640.2 L1345 640.2 L1347.5 641.1 L1349.9 641.6 L1352.4 642 L1354.8 642.5 L1357.3 642.9 L1359.8 643.5 L1362.2 643.6 L1364.7 644 L1367.1 644.6 L1369.6 645.4 L1372 646 L1374.5 646.7 L1376.9 647.1 L1379.4 647.1 L1381.8 647.3 L1384.3 647.9 L1386.7 648.6 L1389.2 649.2 L1391.6 649.8 L1394.1 650.6 L1396.6 651.3 L1399 651.7 L1401.5 652.3 L1403.9 653.1 L1406.4 653.6 L1408.8 654.6 L1411.3 655.4 L1413.7 655.1 L1416.2 655.6 L1418.6 656.3 L1421.1 656.7 L1423.5 657 L1426 657.2 L1428.4 658.5 L1430.9 659.3 L1433.4 659.3 L1435.8 660 L1438.3 661.2 L1440.7 661.9 L1443.2 662 L1445.6 662.1 L1448.1 663 L1450.5 663.7 L1453 663.5 L1455.4 664.2 L1457.9 665 L1460.3 665.7 L1462.8 666.1 L1465.2 666.6 L1467.7 667.1 L1470.2 667.3 L1472.6 667.9 L1475.1 668.6 L1477.5 669 L1480 669.6 L1482.4 670.3 L1484.9 670.8 L1487.3 671.2 L1489.8 671.6 L1492.2 672.3 L1494.7 672.7 L1497.1 672.9 L1499.6 673.4 L1502 673.8 L1504.5 674.7 L1507 675.3 L1509.4 675.5 L1511.9 676.2 L1514.3 676.8 L1516.8 677.4 L1519.2 677.6 L1521.7 677.9 L1524.1 678.6 L1526.6 679 L1529 679.4 L1530.8 679.6 L1531.5 680.1 L1534 680.4 L1536.5 680.4 L1539 680.9 L1541.5 681.3 L1544 681.8 L1546.4 681.8 L1548.9 682.1 L1551.4 682.8 L1553.9 682.9 L1556.4 683 L1558.9 682.9 L1561.4 683.1 L1563.9 683.3 L1566.4 683.2 L1568.9 683.6 L1571.3 683.8 L1573.8 684.5 L1576.3 684.7 L1578.8 685 L1581.3 685.3 L1583.8 685.7 L1586.3 686.2 L1588.8 686.3 L1591.3 686.7 L1593.8 686.8 L1596.2 687 L1598.7 687 L1601.2 687.3 L1603.7 687.6 L1606.2 687.7 L1608.7 688.2 L1611.2 688.6 L1613.7 689 L1616.2 688.9 L1618.7 689.3 L1621.1 689.3 L1623.6 689.6 L1626.1 689.9 L1628.6 690 L1631.1 690.6 L1633.6 691 L1636.1 691.6 L1638.6 691.8 L1641.1 692 L1643.6 692.4 L1646 692.6 L1648.5 692.8 L1651 692.8 L1653.5 693.1 L1656 693.2 L1658.5 693.4 L1661 693.6 L1663.5 693.6 L1666 693.9 L1668.5 694.2 L1670.9 694.3 L1673.4 694.6 L1675.9 695 L1678.4 695.4 L1680.9 695.7 L1683.4 696.1 L1685.9 696.4 L1688.4 696.7 L1690.9 696.9 L1693.4 697.3 L1695.8 697.6 L1698.3 697.8 L1700.8 698 L1703.3 698.3 L1705.8 698.5 L1708.3 698.6 L1710.8 698.8 L1713.3 699.1 L1715.8 699.5 L1718.3 699.6 L1720.7 700 L1723.2 700.4 L1725.7 700.6 L1728.2 700.9 L1730.7 701.1 L1733.2 701.5 L1735.7 701.7 L1738.2 702 L1740.7 702.2 L1743.2 702.4 L1745.6 702.7 L1748.1 702.9 L1750.6 703.2 L1753.1 703.4 L1755.6 703.7 L1755.6 706.4 L1753.1 706.2 L1750.6 705.9 L1748.1 705.7 L1745.6 705.5 L1743.2 705.3 L1740.7 705.2 L1738.2 705 L1735.7 704.7 L1733.2 704.5 L1730.7 704.3 L1728.2 704.1 L1725.7 704 L1723.2 703.7 L1720.7 703.6 L1718.3 703.5 L1715.8 703.3 L1713.3 703.1 L1710.8 702.7 L1708.3 702.6 L1705.8 702.4 L1703.3 702.1 L1700.8 701.9 L1698.3 701.7 L1695.8 701.5 L1693.4 701.2 L1690.9 701 L1688.4 700.7 L1685.9 700.5 L1683.4 700.4 L1680.9 700.1 L1678.4 700 L1675.9 699.7 L1673.4 699.5 L1670.9 699.4 L1668.5 699.1 L1666 699 L1663.5 698.9 L1661 698.8 L1658.5 698.7 L1656 698.3 L1653.5 698.2 L1651 697.9 L1648.5 697.4 L1646 697.2 L1643.6 696.9 L1641.1 696.9 L1638.6 696.6 L1636.1 696.4 L1633.6 696.4 L1631.1 696.1 L1628.6 696 L1626.1 695.8 L1623.6 695.7 L1621.1 695.6 L1618.7 695.1 L1616.2 695 L1613.7 694.7 L1611.2 694.4 L1608.7 694.2 L1606.2 694 L1603.7 693.9 L1601.2 693.6 L1598.7 693.4 L1596.2 693.1 L1593.8 692.9 L1591.3 692.7 L1588.8 692.4 L1586.3 692.2 L1583.8 692 L1581.3 692.1 L1578.8 691.8 L1576.3 691.5 L1573.8 691.5 L1571.3 691.4 L1568.9 691.1 L1566.4 690.5 L1563.9 690.3 L1561.4 690.3 L1558.9 690 L1556.4 689.9 L1553.9 689.7 L1551.4 689.6 L1548.9 689.6 L1546.4 689.4 L1544 689 L1541.5 688.7 L1539 688.5 L1536.5 688.4 L1534 687.7 L1531.5 687.4 L1530.8 687.1 L1529 686.8 L1526.6 686.3 L1524.1 685.8 L1521.7 685.7 L1519.2 685.5 L1516.8 685.3 L1514.3 684.9 L1511.9 684.5 L1509.4 684.1 L1507 683.7 L1504.5 683.1 L1502 682.9 L1499.6 682.2 L1497.1 681.9 L1494.7 681.6 L1492.2 681.2 L1489.8 680.4 L1487.3 679.8 L1484.9 679.6 L1482.4 678.8 L1480 678.1 L1477.5 677.6 L1475.1 677.4 L1472.6 676.8 L1470.2 676.3 L1467.7 676.1 L1465.2 675.5 L1462.8 674.9 L1460.3 674.3 L1457.9 673.9 L1455.4 673.2 L1453 672.3 L1450.5 672 L1448.1 671.8 L1445.6 671.6 L1443.2 671.1 L1440.7 670.8 L1438.3 670.6 L1435.8 670.1 L1433.4 669.6 L1430.9 669 L1428.4 668.5 L1426 667.9 L1423.5 667.4 L1421.1 666.7 L1418.6 666.4 L1416.2 665.7 L1413.7 665.4 L1411.3 665.1 L1408.8 664.8 L1406.4 664.5 L1403.9 663.8 L1401.5 663.6 L1399 663.4 L1396.6 662.3 L1394.1 661.8 L1391.6 661.2 L1389.2 660.8 L1386.7 660.4 L1384.3 659.8 L1381.8 659.7 L1379.4 659.2 L1376.9 658.7 L1374.5 658.3 L1372 657.8 L1369.6 657.4 L1367.1 657.1 L1364.7 656.8 L1362.2 656.9 L1359.8 656.4 L1357.3 655.8 L1354.8 655.4 L1352.4 655 L1349.9 654.3 L1347.5 653.5 L1345 653.2 L1342.6 652.9 L1340.1 652.5 L1337.7 652 L1335.2 651.4 L1332.8 650.9 L1330.3 650.2 L1327.9 649.7 L1325.4 648.8 L1323 648.2 L1320.5 647.3 L1318 647.1 L1315.6 646.8 L1313.1 646.2 L1310.7 645.9 L1308.2 645.3 L1305.8 645.8 L1303.3 645.1 L1300.9 644.9 L1298.4 644.1 L1296 643.6 L1293.5 643.3 L1291.1 642.2 L1288.6 641.8 L1286.2 641 L1283.7 640.7 L1281.2 640.1 L1278.8 639.8 L1276.3 639.8 L1273.9 639.2 L1271.4 639.1 L1269 638.5 L1266.5 638.5 L1264.1 638 L1261.6 637.4 L1259.2 636.9 L1256.7 636.1 L1254.3 635.7 L1251.8 635 L1249.4 634.6 L1246.9 634 L1244.4 633.7 L1242 633.5 L1239.5 633.1 L1237.1 632.4 L1234.6 631.8 L1232.2 631.2 L1230.2 631 L1229.7 630.6 L1227.2 630.1 L1224.7 629.9 L1222.3 629.7 L1219.8 629.2 L1217.3 629 L1214.8 628.4 L1212.4 627.5 L1212.3 627.3 L1210.9 628.8 L1209.5 630.6 L1209.4 630.8 L1207.2 630.5 L1204.7 630.4 L1202.2 630.4 L1199.7 630.4 L1197.2 630.2 L1194.7 630 L1192.2 629.7 L1189.7 629.6 L1187.2 629.2 L1185.5 629.1 L1185.3 630 L1184.5 632.2 L1184 633.3 L1182.8 633.1 L1180.4 632.7 L1177.9 632.2 L1175.4 631.6 L1173 631.2 L1170.5 630.6 L1168 630.2 L1166.1 630 L1165.6 629.8 L1163.1 629.3 L1160.7 628.7 L1158.2 628.3 L1155.8 627.8 L1153.3 627.2 L1150.9 626.6 L1148.5 626.2 L1146 625.7 L1143.6 625.3 L1141.1 624.8 L1138.7 624.2 L1136.2 623.7 L1133.8 623.2 L1131.4 622.7 L1128.9 622 L1126.5 621.5 L1124 621 L1121.6 620.5 L1119.1 620 L1116.7 619.4 L1114.3 618.7 L1111.8 618.2 L1109.4 617.6 L1106.9 617 L1104.5 616.5 L1102 615.9 L1099.6 615.4 L1097.2 614.8 L1094.7 614.3 L1092.3 613.9 L1089.8 613.3 L1087.4 612.8 L1084.9 612.3 L1082.5 611.7 L1080.1 611.1 L1077.6 610.6 L1075.2 610.2 L1072.7 609.7 L1070.3 609.1 L1067.8 608.6 L1065.4 608.2 L1063.5 607.7 L1063.1 608.1 L1061.6 610.1 L1060.1 612.1 L1058.6 614.1 L1057.1 616 L1055.6 618 L1054.3 619.7 L1054.2 620.1 L1053.8 622.6 L1053.4 625 L1053.1 627.3 L1053 627.5 L1051.9 629.8 L1050.9 632 L1049.9 634.3 L1048.8 636.6 L1047.8 638.9 L1046.7 641.2 L1045.7 643.4 L1044.7 645.7 L1043.6 648 L1042.6 650.2 L1041.6 652.5 L1040.5 654.8 L1039.5 657 L1038.5 659.4 L1037.4 661.7 L1036.4 664 L1035.3 666.3 L1034.3 668.5 L1033.3 670.8 L1032.2 673.1 L1031.2 675.3 L1030.2 677.5 L1029.1 679.8 L1028.1 682.1 L1027 684.3 L1026 686.6 L1025 689 L1023.9 691.2 L1022.9 693.5 L1021.9 695.8 L1020.8 698.1 L1019.8 700.4 L1018.7 702.6 L1017.7 704.9 L1016.7 707.1 L1015.6 709.4 L1014.6 711.7 L1013.6 713.9 L1012.5 716.2 L1011.5 718.5 L1010.4 720.8 L1009.4 723 L1008.4 725.3 L1007.3 727.6 L1006.3 727.8 Z" fill="#7a3226" fill-opacity="0.2" stroke="#7a3226" stroke-opacity="0.2" stroke-width="2" stroke-linejoin="round"/>
<path d="M1006.3 727.8 L1007.3 725.5 L1008.4 723.2 L1009.4 721 L1010.4 718.7 L1011.5 716.4 L1012.5 714.1 L1013.6 711.9 L1014.6 709.6 L1015.6 707.3 L1016.7 705 L1017.7 702.8 L1018.7 700.5 L1019.8 698.2 L1020.8 695.9 L1021.9 693.7 L1022.9 691.4 L1023.9 689.1 L1025 686.8 L1026 684.6 L1027 682.3 L1028.1 680 L1029.1 677.7 L1030.2 675.5 L1031.2 673.2 L1032.2 670.9 L1033.3 668.6 L1034.3 666.4 L1035.3 664.1 L1036.4 661.8 L1037.4 659.5 L1038.5 657.3 L1039.5 655 L1040.5 652.7 L1041.6 650.4 L1042.6 648.2 L1043.6 645.9 L1044.7 643.6 L1045.7 641.3 L1046.7 639.1 L1047.8 636.8 L1048.8 634.5 L1049.9 632.2 L1050.9 630 L1051.9 627.7 L1053 625.4 L1053.1 625.2 L1053.4 623 L1053.8 620.5 L1054.2 618 L1054.3 617.7 L1055.6 616 L1057.1 614 L1058.6 612 L1060.1 610 L1061.6 608 L1063.1 606 L1063.5 605.6 L1065.4 606 L1067.8 606.6 L1070.3 607.1 L1072.7 607.6 L1075.2 608.2 L1077.6 608.7 L1080.1 609.2 L1082.5 609.8 L1084.9 610.3 L1087.4 610.8 L1089.8 611.4 L1092.3 611.9 L1094.7 612.4 L1097.2 612.9 L1099.6 613.5 L1102 614 L1104.5 614.5 L1106.9 615.1 L1109.4 615.6 L1111.8 616.1 L1114.3 616.7 L1116.7 617.2 L1119.1 617.7 L1121.6 618.3 L1124 618.8 L1126.5 619.3 L1128.9 619.9 L1131.4 620.4 L1133.8 620.9 L1136.2 621.5 L1138.7 622 L1141.1 622.5 L1143.6 623.1 L1146 623.6 L1148.5 624.1 L1150.9 624.7 L1153.3 625.2 L1155.8 625.7 L1158.2 626.3 L1160.7 626.8 L1163.1 627.3 L1165.6 627.9 L1166.1 628 L1168 628.3 L1170.5 628.7 L1173 629.1 L1175.4 629.5 L1177.9 629.9 L1180.4 630.3 L1182.8 630.7 L1184 630.9 L1184.5 629.7 L1185.3 627.4 L1185.5 626.6 L1187.2 626.7 L1189.7 626.8 L1192.2 627 L1194.7 627.1 L1197.2 627.3 L1199.7 627.4 L1202.2 627.6 L1204.7 627.7 L1207.2 627.9 L1209.4 628 L1209.5 627.7 L1210.9 625.6 L1212.3 623.6 L1212.4 623.5 L1214.8 623.7 L1217.3 624 L1219.8 624.2 L1222.3 624.5 L1224.7 624.7 L1227.2 624.9 L1229.7 625.2 L1230.2 625.2 L1232.2 625.6 L1234.6 626.1 L1237.1 626.6 L1239.5 627.1 L1242 627.6 L1244.4 628 L1246.9 628.5 L1249.4 629 L1251.8 629.5 L1254.3 630 L1256.7 630.5 L1259.2 630.9 L1261.6 631.4 L1264.1 631.9 L1266.5 632.4 L1269 632.9 L1271.4 633.4 L1273.9 633.8 L1276.3 634.3 L1278.8 634.8 L1281.2 635.3 L1283.7 635.8 L1286.2 636.2 L1288.6 636.7 L1291.1 637.2 L1293.5 637.7 L1296 638.2 L1298.4 638.7 L1300.9 639.1 L1303.3 639.6 L1305.8 640.1 L1308.2 640.6 L1310.7 641.1 L1313.1 641.6 L1315.6 642 L1318 642.5 L1320.5 643 L1323 643.5 L1325.4 644 L1327.9 644.5 L1330.3 644.9 L1332.8 645.4 L1335.2 645.9 L1337.7 646.4 L1340.1 646.9 L1342.6 647.4 L1345 647.8 L1347.5 648.3 L1349.9 648.8 L1352.4 649.3 L1354.8 649.8 L1357.3 650.3 L1359.8 650.7 L1362.2 651.2 L1364.7 651.7 L1367.1 652.2 L1369.6 652.7 L1372 653.2 L1374.5 653.6 L1376.9 654.1 L1379.4 654.6 L1381.8 655.1 L1384.3 655.6 L1386.7 656.1 L1389.2 656.5 L1391.6 657 L1394.1 657.5 L1396.6 658 L1399 658.5 L1401.5 659 L1403.9 659.4 L1406.4 659.9 L1408.8 660.4 L1411.3 660.9 L1413.7 661.4 L1416.2 661.9 L1418.6 662.3 L1421.1 662.8 L1423.5 663.3 L1426 663.8 L1428.4 664.3 L1430.9 664.8 L1433.4 665.2 L1435.8 665.7 L1438.3 666.2 L1440.7 666.7 L1443.2 667.2 L1445.6 667.7 L1448.1 668.1 L1450.5 668.6 L1453 669.1 L1455.4 669.6 L1457.9 670.1 L1460.3 670.6 L1462.8 671 L1465.2 671.5 L1467.7 672 L1470.2 672.5 L1472.6 673 L1475.1 673.5 L1477.5 673.9 L1480 674.4 L1482.4 674.9 L1484.9 675.4 L1487.3 675.9 L1489.8 676.4 L1492.2 676.8 L1494.7 677.3 L1497.1 677.8 L1499.6 678.3 L1502 678.8 L1504.5 679.3 L1507 679.7 L1509.4 680.2 L1511.9 680.7 L1514.3 681.2 L1516.8 681.7 L1519.2 682.1 L1521.7 682.6 L1524.1 683.1 L1526.6 683.6 L1529 684.1 L1530.8 684.4 L1531.5 684.5 L1534 684.7 L1536.5 685 L1539 685.2 L1541.5 685.4 L1544 685.6 L1546.4 685.9 L1548.9 686.1 L1551.4 686.3 L1553.9 686.6 L1556.4 686.8 L1558.9 687 L1561.4 687.2 L1563.9 687.5 L1566.4 687.7 L1568.9 687.9 L1571.3 688.2 L1573.8 688.4 L1576.3 688.6 L1578.8 688.8 L1581.3 689.1 L1583.8 689.3 L1586.3 689.5 L1588.8 689.8 L1591.3 690 L1593.8 690.2 L1596.2 690.4 L1598.7 690.7 L1601.2 690.9 L1603.7 691.1 L1606.2 691.4 L1608.7 691.6 L1611.2 691.8 L1613.7 692 L1616.2 692.3 L1618.7 692.5 L1621.1 692.7 L1623.6 693 L1626.1 693.2 L1628.6 693.4 L1631.1 693.6 L1633.6 693.9 L1636.1 694.1 L1638.6 694.3 L1641.1 694.6 L1643.6 694.8 L1646 695 L1648.5 695.2 L1651 695.5 L1653.5 695.7 L1656 695.9 L1658.5 696.2 L1661 696.4 L1663.5 696.6 L1666 696.8 L1668.5 697.1 L1670.9 697.3 L1673.4 697.5 L1675.9 697.8 L1678.4 698 L1680.9 698.2 L1683.4 698.4 L1685.9 698.7 L1688.4 698.9 L1690.9 699.1 L1693.4 699.4 L1695.8 699.6 L1698.3 699.8 L1700.8 700.1 L1703.3 700.3 L1705.8 700.5 L1708.3 700.7 L1710.8 701 L1713.3 701.2 L1715.8 701.4 L1718.3 701.7 L1720.7 701.9 L1723.2 702.1 L1725.7 702.3 L1728.2 702.6 L1730.7 702.8 L1733.2 703 L1735.7 703.3 L1738.2 703.5 L1740.7 703.7 L1743.2 703.9 L1745.6 704.2 L1748.1 704.4 L1750.6 704.6 L1753.1 704.9 L1755.6 705.1" fill="none" stroke="#7a3226" stroke-width="3.3" stroke-linejoin="round" stroke-linecap="square"/>
<path d="M1006.3 724.4 L1007.3 722 L1008.4 719.7 L1009.4 717.3 L1010.5 715 L1011.5 712.6 L1012.5 710.3 L1013.6 707.8 L1014.6 705.3 L1015.7 703 L1016.7 700.5 L1017.7 698.2 L1018.8 695.8 L1019.8 693.6 L1020.8 691.3 L1021.9 689 L1022.9 686.7 L1024 684.3 L1025 682 L1026 679.7 L1027.1 677.2 L1028.1 674.7 L1029.2 672.4 L1030.2 669.9 L1031.2 667.5 L1032.3 665.1 L1033.3 662.8 L1034.4 660.4 L1035.4 658.1 L1036.4 655.9 L1037.5 653.5 L1038.5 651.2 L1039.6 648.9 L1040.6 646.6 L1041.6 644.2 L1042.7 641.8 L1043.7 639.4 L1044.8 636.9 L1045.8 634.6 L1046.8 632.2 L1047.9 629.9 L1048.9 627.6 L1049.9 625.3 L1051 623.1 L1052 620.6 L1053.1 618 L1053.1 617.9 L1053.5 615.2 L1053.8 612.7 L1054.2 610.1 L1054.3 610.1 L1055.7 607.9 L1057.2 605.6 L1058.7 603.3 L1060.3 600.9 L1061.8 598.4 L1063.3 595.8 L1063.5 595.5 L1065.7 595.5 L1068.2 596.2 L1070.7 597 L1073.1 597.8 L1075.4 598.7 L1075.6 599 L1078 599.8 L1080.4 600.7 L1082.9 601.7 L1085.3 602.4 L1087.7 603 L1090.1 603.5 L1092.6 604 L1095 604.7 L1097.4 605 L1099.8 605.6 L1102.2 606.5 L1104.7 607.3 L1107.1 608.3 L1109.5 608.9 L1111.9 609.9 L1114 610.2 L1114.3 610.3 L1116.8 611.1 L1119.2 611.3 L1121.6 612.1 L1124.1 613.1 L1126.5 613.8 L1128.9 615 L1131.4 615.5 L1133.8 616.4 L1136.2 616.8 L1138.7 617.1 L1141.1 617.9 L1143.5 618.1 L1146 619.2 L1148.4 619.8 L1150.8 620.6 L1153.3 621.4 L1155.7 622.3 L1155.7 622.6 L1158.1 622.8 L1160.5 624 L1162.9 624.9 L1165.3 626 L1167.7 627.1 L1170.2 627.6 L1172.6 628.3 L1175 629 L1177.4 629.7 L1179.8 629.9 L1182.2 630 L1184.6 630.7 L1187 631.4 L1189.4 631.7 L1191.9 632.3 L1194.3 633.2 L1196.7 633.7 L1199.1 634.2 L1201.5 635.2 L1203.4 635.8 L1203.9 635.7 L1206.3 636.4 L1208.8 637.3 L1211.2 638.1 L1213.6 638.5 L1216 639.6 L1218.5 640.5 L1220.9 641.6 L1223.3 642.3 L1225.7 643.3 L1228.2 644.1 L1230.6 644.7 L1233 645.2 L1235.4 645.5 L1237.8 646.4 L1240.3 646.9 L1242.7 647.7 L1245.1 648.3 L1247.5 649.1 L1250 649.6 L1252.4 650 L1254.5 650.5 L1254.8 650.3 L1257.3 650.7 L1259.7 651.2 L1262.2 651.9 L1264.7 652.6 L1267.1 653.1 L1269.6 653.7 L1272 654 L1274.5 654.4 L1277 655 L1279.4 655.5 L1281.9 656 L1284.4 656.4 L1286.8 657.3 L1289.3 658.1 L1291.7 658.3 L1294.2 658.7 L1296.7 659.1 L1299.1 659.5 L1301.6 659.9 L1304 660.2 L1305 660.5 L1306.5 660.4 L1309 660.7 L1311.5 661.3 L1314 661.3 L1316.5 661.9 L1319 662 L1321.5 662.6 L1324 663 L1326.4 662.9 L1328.9 663.1 L1331.4 663.1 L1333.9 663.6 L1336.4 664 L1338.9 664.2 L1341.4 664.5 L1343.9 664.8 L1346.4 665 L1348.9 665.2 L1351.4 665.2 L1353.9 665.5 L1356.3 666.1 L1358.8 666.4 L1361.3 666.8 L1363.8 667.2 L1366.3 667.5 L1368.8 667.6 L1371.3 667.8 L1373.8 668.1 L1376.3 668.3 L1378.8 668.5 L1381.3 668.9 L1383.7 669.4 L1386.2 669.6 L1388.7 670 L1391.2 670.5 L1393.7 670.9 L1396.2 671.3 L1398.7 671.7 L1401.2 671.7 L1403.7 671.9 L1406.2 672.2 L1408.7 672.5 L1411.1 672.8 L1413.6 672.9 L1416.1 673.3 L1418.6 673.8 L1421.1 674.1 L1423.6 674.3 L1426.1 674.8 L1428.6 675.1 L1431.1 675.5 L1433.6 675.8 L1436.1 675.9 L1438.6 675.9 L1441 675.9 L1443.5 676.4 L1446 676.5 L1448.5 676.7 L1451 677 L1453.5 677.5 L1456 677.7 L1458.5 677.7 L1461 677.8 L1463.5 678.3 L1466 678.5 L1468.4 678.6 L1470.9 679.2 L1473.4 679.6 L1475.9 680.1 L1478.4 680.3 L1480.9 680.7 L1483.4 681.2 L1485.9 681.3 L1488.4 681.5 L1490.9 681.8 L1493.4 682.1 L1495.8 682.1 L1498.3 682.3 L1499.7 682.5 L1500.8 682.9 L1503.3 683.1 L1505.8 683.5 L1508.3 683.8 L1510.8 684.1 L1513.3 684.3 L1515.8 684.3 L1518.3 684.5 L1520.8 684.8 L1523.3 685.1 L1525.7 685.5 L1528.2 685.8 L1530.7 686.2 L1530.8 686.2 L1533.2 686.3 L1535.7 686.5 L1538.2 686.7 L1540.7 686.9 L1543.2 687 L1545.7 687.1 L1548.2 687.5 L1550.7 687.7 L1553.2 687.7 L1555.7 687.8 L1558.2 687.8 L1560.7 688.2 L1563.2 688.3 L1565.7 688.6 L1568.2 689 L1570.7 689.3 L1573.2 689.8 L1575.7 690.2 L1578.2 690.3 L1580.7 690.5 L1583.2 690.6 L1585.7 690.9 L1588.2 690.8 L1590.7 690.9 L1593.2 691.2 L1595.7 691.3 L1598.2 691.5 L1600.7 691.6 L1603.2 692 L1605.7 692.2 L1608.2 692.4 L1610.7 692.7 L1613.2 692.7 L1615.7 693 L1618.2 693.1 L1620.7 693.5 L1623.2 693.5 L1625.7 693.6 L1628.2 694 L1630.7 694.1 L1633.2 694.4 L1635.7 694.5 L1638.2 694.7 L1640.7 695 L1643.2 695.1 L1645.7 695.3 L1648.2 695.4 L1650.7 695.6 L1653.2 695.9 L1655.7 696.1 L1658.2 696.4 L1660.7 696.6 L1663.2 697 L1665.6 697.2 L1668.1 697.3 L1670.6 697.4 L1673.1 697.4 L1675.6 697.6 L1678.1 697.7 L1680.6 697.9 L1683.1 698.1 L1685.6 698.3 L1688.1 698.6 L1690.6 698.8 L1693.1 699 L1695.6 699.2 L1698.1 699.4 L1700.6 699.6 L1703.1 699.8 L1705.6 700 L1708.1 700.3 L1710.6 700.5 L1713.1 700.7 L1715.6 700.9 L1718.1 701.2 L1720.6 701.5 L1723.1 701.6 L1725.6 701.9 L1728.1 702.1 L1730.6 702.3 L1733.1 702.4 L1735.6 702.6 L1738.1 702.8 L1740.6 702.9 L1743.1 703.1 L1745.6 703.3 L1748.1 703.5 L1750.6 703.7 L1753.1 703.9 L1755.6 704.1 L1755.6 706.8 L1753.1 706.7 L1750.6 706.5 L1748.1 706.4 L1745.6 706.2 L1743.1 706 L1740.6 705.9 L1738.1 705.6 L1735.6 705.5 L1733.1 705.3 L1730.6 705.2 L1728.1 705.1 L1725.6 704.9 L1723.1 704.8 L1720.6 704.6 L1718.1 704.4 L1715.6 704.1 L1713.1 704 L1710.6 703.8 L1708.1 703.7 L1705.6 703.5 L1703.1 703.3 L1700.6 703.1 L1698.1 702.9 L1695.6 702.8 L1693.1 702.5 L1690.6 702.3 L1688.1 702.1 L1685.6 702 L1683.1 701.9 L1680.6 701.7 L1678.1 701.6 L1675.6 701.5 L1673.1 701.4 L1670.6 701.2 L1668.1 701 L1665.6 700.9 L1663.2 700.7 L1660.7 700.6 L1658.2 700.5 L1655.7 700.3 L1653.2 700.2 L1650.7 700 L1648.2 699.9 L1645.7 699.7 L1643.2 699.4 L1640.7 699.2 L1638.2 698.9 L1635.7 698.6 L1633.2 698.5 L1630.7 698.3 L1628.2 698.1 L1625.7 698.1 L1623.2 697.9 L1620.7 697.7 L1618.2 697.5 L1615.7 697.3 L1613.2 697.2 L1610.7 696.9 L1608.2 696.7 L1605.7 696.5 L1603.2 696.4 L1600.7 696.3 L1598.2 696.2 L1595.7 696 L1593.2 695.7 L1590.7 695.5 L1588.2 695.2 L1585.7 694.9 L1583.2 694.7 L1580.7 694.7 L1578.2 694.7 L1575.7 694.6 L1573.2 694.5 L1570.7 694.2 L1568.2 694.1 L1565.7 694 L1563.2 693.7 L1560.7 693.5 L1558.2 693.4 L1555.7 693.3 L1553.2 693.1 L1550.7 692.8 L1548.2 692.6 L1545.7 692.5 L1543.2 692.4 L1540.7 692.2 L1538.2 691.9 L1535.7 691.7 L1533.2 691.6 L1530.8 691.4 L1530.7 691.5 L1528.2 691.2 L1525.7 690.9 L1523.3 690.6 L1520.8 690 L1518.3 689.7 L1515.8 689.1 L1513.3 689 L1510.8 688.8 L1508.3 688.4 L1505.8 688.6 L1503.3 688.4 L1500.8 688.2 L1499.7 688.1 L1498.3 687.9 L1495.8 687.7 L1493.4 687.1 L1490.9 686.9 L1488.4 686.7 L1485.9 686.6 L1483.4 686.3 L1480.9 686.1 L1478.4 685.9 L1475.9 685.8 L1473.4 685.5 L1470.9 685.2 L1468.4 685 L1466 684.9 L1463.5 684.7 L1461 684.3 L1458.5 684.1 L1456 683.8 L1453.5 683.5 L1451 683.3 L1448.5 682.9 L1446 682.6 L1443.5 682.5 L1441 682.3 L1438.6 682.3 L1436.1 682 L1433.6 681.7 L1431.1 681.7 L1428.6 681.3 L1426.1 680.8 L1423.6 680.5 L1421.1 680.2 L1418.6 680.1 L1416.1 680 L1413.6 679.7 L1411.1 679.7 L1408.7 679.5 L1406.2 679.3 L1403.7 678.8 L1401.2 678.3 L1398.7 678.1 L1396.2 677.7 L1393.7 677.2 L1391.2 676.9 L1388.7 676.8 L1386.2 676.4 L1383.7 676 L1381.3 675.8 L1378.8 675.5 L1376.3 675.3 L1373.8 675 L1371.3 675.1 L1368.8 674.9 L1366.3 674.6 L1363.8 674.6 L1361.3 674.2 L1358.8 674 L1356.3 673.8 L1353.9 673.7 L1351.4 673.5 L1348.9 673.3 L1346.4 673.1 L1343.9 673 L1341.4 672.2 L1338.9 672 L1336.4 671.6 L1333.9 671.3 L1331.4 671 L1328.9 670.5 L1326.4 670.5 L1324 670.4 L1321.5 670.3 L1319 669.9 L1316.5 669.6 L1314 669.3 L1311.5 669 L1309 668.3 L1306.5 668.3 L1305 668.2 L1304 668.3 L1301.6 667.9 L1299.1 667.4 L1296.7 667.2 L1294.2 666.5 L1291.7 665.8 L1289.3 665.3 L1286.8 664.9 L1284.4 664.3 L1281.9 663.9 L1279.4 663.5 L1277 663.2 L1274.5 662.6 L1272 662.1 L1269.6 661.7 L1267.1 661.1 L1264.7 660.7 L1262.2 660.3 L1259.7 660 L1257.3 659.9 L1254.8 659.6 L1254.5 659.5 L1252.4 659 L1250 658.6 L1247.5 657.8 L1245.1 656.7 L1242.7 656.1 L1240.3 655.6 L1237.8 655 L1235.4 654.2 L1233 653.8 L1230.6 653.4 L1228.2 652.9 L1225.7 652.4 L1223.3 652.1 L1220.9 651.5 L1218.5 650.8 L1216 650.2 L1213.6 649.6 L1211.2 648.9 L1208.8 647.9 L1206.3 647.1 L1203.9 646.3 L1203.4 645.9 L1201.5 645.6 L1199.1 645 L1196.7 644.5 L1194.3 644.3 L1191.9 643.5 L1189.4 643.3 L1187 642.7 L1184.6 641.9 L1182.2 641.2 L1179.8 640 L1177.4 639.4 L1175 638.5 L1172.6 637.5 L1170.2 637 L1167.7 636.1 L1165.3 635.7 L1162.9 635.5 L1160.5 634.8 L1158.1 634.1 L1155.7 634 L1155.7 634.2 L1153.3 633.6 L1150.8 632.8 L1148.4 632.2 L1146 631.7 L1143.5 630.6 L1141.1 630 L1138.7 629.9 L1136.2 629.2 L1133.8 628.7 L1131.4 628.4 L1128.9 628.3 L1126.5 627.9 L1124.1 627.3 L1121.6 627.1 L1119.2 626.6 L1116.8 625.4 L1114.3 624.4 L1114 624.2 L1111.9 623.2 L1109.5 622.2 L1107.1 622 L1104.7 622 L1102.2 621.4 L1099.8 620.8 L1097.4 620.4 L1095 619.7 L1092.6 619 L1090.1 618.5 L1087.7 618 L1085.3 617.6 L1082.9 617.1 L1080.4 616.8 L1078 616.6 L1075.6 616.3 L1075.4 616.4 L1073.1 616.3 L1070.7 616.4 L1068.2 616.3 L1065.7 616.1 L1063.5 615.2 L1063.3 615.4 L1061.8 617.1 L1060.3 618.7 L1058.7 620.4 L1057.2 621.9 L1055.7 623.6 L1054.3 625.1 L1054.2 625.1 L1053.8 627.6 L1053.5 629.9 L1053.1 632.3 L1053.1 632.3 L1052 634.3 L1051 636.5 L1049.9 638.7 L1048.9 640.9 L1047.9 643.1 L1046.8 645.4 L1045.8 647.5 L1044.8 649.7 L1043.7 651.9 L1042.7 654.1 L1041.6 656.4 L1040.6 658.6 L1039.6 660.9 L1038.5 663 L1037.5 665.2 L1036.4 667.4 L1035.4 669.6 L1034.4 671.8 L1033.3 673.9 L1032.3 676.2 L1031.2 678.5 L1030.2 680.6 L1029.2 682.7 L1028.1 684.9 L1027.1 687.2 L1026 689.4 L1025 691.5 L1024 693.8 L1022.9 696 L1021.9 698.2 L1020.8 700.4 L1019.8 702.7 L1018.8 704.8 L1017.7 707.1 L1016.7 709.3 L1015.7 711.5 L1014.6 713.7 L1013.6 715.9 L1012.5 718.1 L1011.5 720.3 L1010.5 722.5 L1009.4 724.7 L1008.4 726.9 L1007.3 727.8 L1006.3 727.8 Z" fill="#e058b8" fill-opacity="0.2" stroke="#e058b8" stroke-opacity="0.2" stroke-width="2" stroke-linejoin="round"/>
<path d="M1006.3 727.8 L1007.3 725.5 L1008.4 723.2 L1009.4 721 L1010.5 718.7 L1011.5 716.4 L1012.5 714.1 L1013.6 711.8 L1014.6 709.6 L1015.7 707.3 L1016.7 705 L1017.7 702.7 L1018.8 700.4 L1019.8 698.2 L1020.8 695.9 L1021.9 693.6 L1022.9 691.3 L1024 689 L1025 686.8 L1026 684.5 L1027.1 682.2 L1028.1 679.9 L1029.2 677.6 L1030.2 675.4 L1031.2 673.1 L1032.3 670.8 L1033.3 668.5 L1034.4 666.2 L1035.4 664 L1036.4 661.7 L1037.5 659.4 L1038.5 657.1 L1039.6 654.8 L1040.6 652.6 L1041.6 650.3 L1042.7 648 L1043.7 645.7 L1044.8 643.4 L1045.8 641.2 L1046.8 638.9 L1047.9 636.6 L1048.9 634.3 L1049.9 632 L1051 629.8 L1052 627.5 L1053.1 625.2 L1053.1 625.2 L1053.5 622.7 L1053.8 620.3 L1054.2 617.8 L1054.3 617.7 L1055.7 615.8 L1057.2 613.8 L1058.7 611.8 L1060.3 609.8 L1061.8 607.8 L1063.3 605.8 L1063.5 605.6 L1065.7 605.9 L1068.2 606.3 L1070.7 606.6 L1073.1 607 L1075.4 607.3 L1075.6 607.4 L1078 608 L1080.4 608.7 L1082.9 609.3 L1085.3 610 L1087.7 610.6 L1090.1 611.3 L1092.6 611.9 L1095 612.6 L1097.4 613.2 L1099.8 613.9 L1102.2 614.5 L1104.7 615.1 L1107.1 615.8 L1109.5 616.4 L1111.9 617.1 L1114 617.7 L1114.3 617.7 L1116.8 618.3 L1119.2 618.9 L1121.6 619.5 L1124.1 620.1 L1126.5 620.7 L1128.9 621.3 L1131.4 621.9 L1133.8 622.6 L1136.2 623.2 L1138.7 623.8 L1141.1 624.4 L1143.5 625 L1146 625.6 L1148.4 626.2 L1150.8 626.8 L1153.3 627.4 L1155.7 628 L1155.7 628 L1158.1 628.7 L1160.5 629.3 L1162.9 630 L1165.3 630.7 L1167.7 631.4 L1170.2 632.1 L1172.6 632.7 L1175 633.4 L1177.4 634.1 L1179.8 634.8 L1182.2 635.4 L1184.6 636.1 L1187 636.8 L1189.4 637.5 L1191.9 638.2 L1194.3 638.8 L1196.7 639.5 L1199.1 640.2 L1201.5 640.9 L1203.4 641.4 L1203.9 641.6 L1206.3 642.2 L1208.8 642.8 L1211.2 643.5 L1213.6 644.1 L1216 644.7 L1218.5 645.4 L1220.9 646 L1223.3 646.6 L1225.7 647.3 L1228.2 647.9 L1230.6 648.5 L1233 649.2 L1235.4 649.8 L1237.8 650.5 L1240.3 651.1 L1242.7 651.7 L1245.1 652.4 L1247.5 653 L1250 653.6 L1252.4 654.3 L1254.5 654.8 L1254.8 654.9 L1257.3 655.4 L1259.7 655.8 L1262.2 656.3 L1264.7 656.8 L1267.1 657.2 L1269.6 657.7 L1272 658.2 L1274.5 658.6 L1277 659.1 L1279.4 659.6 L1281.9 660 L1284.4 660.5 L1286.8 661 L1289.3 661.5 L1291.7 661.9 L1294.2 662.4 L1296.7 662.9 L1299.1 663.3 L1301.6 663.8 L1304 664.3 L1305 664.5 L1306.5 664.6 L1309 664.9 L1311.5 665.2 L1314 665.4 L1316.5 665.7 L1319 666 L1321.5 666.2 L1324 666.5 L1326.4 666.8 L1328.9 667 L1331.4 667.3 L1333.9 667.6 L1336.4 667.8 L1338.9 668.1 L1341.4 668.4 L1343.9 668.6 L1346.4 668.9 L1348.9 669.2 L1351.4 669.4 L1353.9 669.7 L1356.3 670 L1358.8 670.2 L1361.3 670.5 L1363.8 670.8 L1366.3 671.1 L1368.8 671.3 L1371.3 671.6 L1373.8 671.9 L1376.3 672.1 L1378.8 672.4 L1381.3 672.7 L1383.7 672.9 L1386.2 673.2 L1388.7 673.5 L1391.2 673.7 L1393.7 674 L1396.2 674.3 L1398.7 674.5 L1401.2 674.8 L1403.7 675.1 L1406.2 675.3 L1408.7 675.6 L1411.1 675.9 L1413.6 676.1 L1416.1 676.4 L1418.6 676.7 L1421.1 676.9 L1423.6 677.2 L1426.1 677.5 L1428.6 677.7 L1431.1 678 L1433.6 678.3 L1436.1 678.6 L1438.6 678.8 L1441 679.1 L1443.5 679.4 L1446 679.6 L1448.5 679.9 L1451 680.2 L1453.5 680.4 L1456 680.7 L1458.5 681 L1461 681.2 L1463.5 681.5 L1466 681.8 L1468.4 682 L1470.9 682.3 L1473.4 682.6 L1475.9 682.8 L1478.4 683.1 L1480.9 683.4 L1483.4 683.6 L1485.9 683.9 L1488.4 684.2 L1490.9 684.4 L1493.4 684.7 L1495.8 685 L1498.3 685.2 L1499.7 685.4 L1500.8 685.5 L1503.3 685.8 L1505.8 686.1 L1508.3 686.3 L1510.8 686.6 L1513.3 686.9 L1515.8 687.1 L1518.3 687.4 L1520.8 687.7 L1523.3 687.9 L1525.7 688.2 L1528.2 688.5 L1530.7 688.8 L1530.8 688.8 L1533.2 688.9 L1535.7 689.1 L1538.2 689.3 L1540.7 689.5 L1543.2 689.7 L1545.7 689.9 L1548.2 690.1 L1550.7 690.2 L1553.2 690.4 L1555.7 690.6 L1558.2 690.8 L1560.7 691 L1563.2 691.2 L1565.7 691.4 L1568.2 691.6 L1570.7 691.7 L1573.2 691.9 L1575.7 692.1 L1578.2 692.3 L1580.7 692.5 L1583.2 692.7 L1585.7 692.9 L1588.2 693 L1590.7 693.2 L1593.2 693.4 L1595.7 693.6 L1598.2 693.8 L1600.7 694 L1603.2 694.2 L1605.7 694.3 L1608.2 694.5 L1610.7 694.7 L1613.2 694.9 L1615.7 695.1 L1618.2 695.3 L1620.7 695.5 L1623.2 695.6 L1625.7 695.8 L1628.2 696 L1630.7 696.2 L1633.2 696.4 L1635.7 696.6 L1638.2 696.8 L1640.7 696.9 L1643.2 697.1 L1645.7 697.3 L1648.2 697.5 L1650.7 697.7 L1653.2 697.9 L1655.7 698.1 L1658.2 698.2 L1660.7 698.4 L1663.2 698.6 L1665.6 698.8 L1668.1 699 L1670.6 699.2 L1673.1 699.4 L1675.6 699.5 L1678.1 699.7 L1680.6 699.9 L1683.1 700.1 L1685.6 700.3 L1688.1 700.5 L1690.6 700.7 L1693.1 700.8 L1695.6 701 L1698.1 701.2 L1700.6 701.4 L1703.1 701.6 L1705.6 701.8 L1708.1 702 L1710.6 702.1 L1713.1 702.3 L1715.6 702.5 L1718.1 702.7 L1720.6 702.9 L1723.1 703.1 L1725.6 703.3 L1728.1 703.5 L1730.6 703.6 L1733.1 703.8 L1735.6 704 L1738.1 704.2 L1740.6 704.4 L1743.1 704.6 L1745.6 704.8 L1748.1 704.9 L1750.6 705.1 L1753.1 705.3 L1755.6 705.5" fill="none" stroke="#e058b8" stroke-width="3.3" stroke-linejoin="round" stroke-linecap="square"/>
</g>
<path d="M89.6 734.5 v7.3 M82.1 727.8 h-7.3 M164.5 734.5 v7.3 M82.1 659 h-7.3 M239.5 734.5 v7.3 M82.1 590.1 h-7.3 M314.4 734.5 v7.3 M82.1 521.3 h-7.3 M389.3 734.5 v7.3 M82.1 452.4 h-7.3 M464.2 734.5 v7.3 M82.1 383.6 h-7.3 M539.2 734.5 v7.3 M82.1 314.8 h-7.3 M614.1 734.5 v7.3 M82.1 245.9 h-7.3 M689 734.5 v7.3 M82.1 177.1 h-7.3 M764 734.5 v7.3 M82.1 108.2 h-7.3 M838.9 734.5 v7.3 M82.1 39.4 h-7.3" stroke="#000" stroke-width="1.67" fill="none"/>
<rect x="82.1" y="32.2" width="763.9" height="702.3" fill="none" stroke="#000" stroke-width="1.67" stroke-linejoin="miter"/>
<text x="89.6" y="766.5" font-size="21.3" text-anchor="middle">0.0</text>
<text x="66.5" y="736" font-size="21.3" text-anchor="end">0.0</text>
<text x="164.5" y="766.5" font-size="21.3" text-anchor="middle">0.1</text>
<text x="66.5" y="667.2" font-size="21.3" text-anchor="end">0.1</text>
<text x="239.5" y="766.5" font-size="21.3" text-anchor="middle">0.2</text>
<text x="66.5" y="598.3" font-size="21.3" text-anchor="end">0.2</text>
<text x="314.4" y="766.5" font-size="21.3" text-anchor="middle">0.3</text>
<text x="66.5" y="529.5" font-size="21.3" text-anchor="end">0.3</text>
<text x="389.3" y="766.5" font-size="21.3" text-anchor="middle">0.4</text>
<text x="66.5" y="460.6" font-size="21.3" text-anchor="end">0.4</text>
<text x="464.2" y="766.5" font-size="21.3" text-anchor="middle">0.5</text>
<text x="66.5" y="391.8" font-size="21.3" text-anchor="end">0.5</text>
<text x="539.2" y="766.5" font-size="21.3" text-anchor="middle">0.6</text>
<text x="66.5" y="323" font-size="21.3" text-anchor="end">0.6</text>
<text x="614.1" y="766.5" font-size="21.3" text-anchor="middle">0.7</text>
<text x="66.5" y="254.1" font-size="21.3" text-anchor="end">0.7</text>
<text x="689" y="766.5" font-size="21.3" text-anchor="middle">0.8</text>
<text x="66.5" y="185.3" font-size="21.3" text-anchor="end">0.8</text>
<text x="764" y="766.5" font-size="21.3" text-anchor="middle">0.9</text>
<text x="66.5" y="116.4" font-size="21.3" text-anchor="end">0.9</text>
<text x="838.9" y="766.5" font-size="21.3" text-anchor="middle">1.0</text>
<text x="66.5" y="47.6" font-size="21.3" text-anchor="end">1.0</text>
<path d="M1006.3 734.5 v7.3 M998.8 727.8 h-7.3 M1081.2 734.5 v7.3 M998.8 659 h-7.3 M1156.2 734.5 v7.3 M998.8 590.1 h-7.3 M1231.1 734.5 v7.3 M998.8 521.3 h-7.3 M1306 734.5 v7.3 M998.8 452.4 h-7.3 M1380.9 734.5 v7.3 M998.8 383.6 h-7.3 M1455.9 734.5 v7.3 M998.8 314.8 h-7.3 M1530.8 734.5 v7.3 M998.8 245.9 h-7.3 M1605.7 734.5 v7.3 M998.8 177.1 h-7.3 M1680.7 734.5 v7.3 M998.8 108.2 h-7.3 M1755.6 734.5 v7.3 M998.8 39.4 h-7.3" stroke="#000" stroke-width="1.67" fill="none"/>
<rect x="998.8" y="32.2" width="764.7" height="702.3" fill="none" stroke="#000" stroke-width="1.67" stroke-linejoin="miter"/>
<text x="1006.3" y="766.5" font-size="21.3" text-anchor="middle">0.0</text>
<text x="983.2" y="736" font-size="21.3" text-anchor="end">0.0</text>
<text x="1081.2" y="766.5" font-size="21.3" text-anchor="middle">0.1</text>
<text x="983.2" y="667.2" font-size="21.3" text-anchor="end">0.1</text>
<text x="1156.2" y="766.5" font-size="21.3" text-anchor="middle">0.2</text>
<text x="983.2" y="598.3" font-size="21.3" text-anchor="end">0.2</text>
<text x="1231.1" y="766.5" font-size="21.3" text-anchor="middle">0.3</text>
<text x="983.2" y="529.5" font-size="21.3" text-anchor="end">0.3</text>
<text x="1306" y="766.5" font-size="21.3" text-anchor="middle">0.4</text>
<text x="983.2" y="460.6" font-size="21.3" text-anchor="end">0.4</text>
<text x="1380.9" y="766.5" font-size="21.3" text-anchor="middle">0.5</text>
<text x="983.2" y="391.8" font-size="21.3" text-anchor="end">0.5</text>
<text x="1455.9" y="766.5" font-size="21.3" text-anchor="middle">0.6</text>
<text x="983.2" y="323" font-size="21.3" text-anchor="end">0.6</text>
<text x="1530.8" y="766.5" font-size="21.3" text-anchor="middle">0.7</text>
<text x="983.2" y="254.1" font-size="21.3" text-anchor="end">0.7</text>
<text x="1605.7" y="766.5" font-size="21.3" text-anchor="middle">0.8</text>
<text x="983.2" y="185.3" font-size="21.3" text-anchor="end">0.8</text>
<text x="1680.7" y="766.5" font-size="21.3" text-anchor="middle">0.9</text>
<text x="983.2" y="116.4" font-size="21.3" text-anchor="end">0.9</text>
<text x="1755.6" y="766.5" font-size="21.3" text-anchor="middle">1.0</text>
<text x="983.2" y="47.6" font-size="21.3" text-anchor="end">1.0</text>
<text x="463.9" y="19.9" font-size="25.85" text-anchor="middle">Receiver Operating Characteristic Curves</text>
<text x="1381.2" y="19.9" font-size="25.85" text-anchor="middle">Precision Recall Curves</text>
<text x="463.0" y="798.5" font-size="25.85" text-anchor="middle">1-Specificity</text>
<text x="1381.2" y="798.3" font-size="25.85" text-anchor="middle">Recall</text>
<text transform="translate(20.4 385.8) rotate(-90)" font-size="25.85" text-anchor="middle">Sensitivity</text>
<text transform="translate(937.8 385.8) rotate(-90)" font-size="25.85" text-anchor="middle">Precision</text>
<rect x="355.6" y="495.3" width="479.4" height="228.1" rx="4.2" ry="4.2" fill="#fff" fill-opacity="0.8" stroke="#cccccc" stroke-opacity="0.8" stroke-width="1.67"/>
<path d="M363.1 513 H409.2" stroke="#065aa6" stroke-width="3.3"/>
<text class="mono" xml:space="preserve" x="425.1" y="521.6" font-size="21.55">XGB opt  , AUROC: 0.862 ± 0.011</text>
<path d="M363.1 544.7 H409.2" stroke="#ff6a00" stroke-width="3.3"/>
<text class="mono" xml:space="preserve" x="425.1" y="553.3" font-size="21.55">XGB lite , AUROC: 0.856 ± 0.006</text>
<path d="M363.1 576.4 H409.2" stroke="#0a850a" stroke-width="3.3"/>
<text class="mono" xml:space="preserve" x="425.1" y="585" font-size="21.55">XGB unopt, AUROC: 0.857 ± 0.007</text>
<path d="M363.1 608.2 H409.2" stroke="#cc0404" stroke-width="3.3"/>
<text class="mono" xml:space="preserve" x="425.1" y="616.8" font-size="21.55">LogReg   , AUROC: 0.857 ± 0.008</text>
<path d="M363.1 639.9 H409.2" stroke="#804cb4" stroke-width="3.3"/>
<text class="mono" xml:space="preserve" x="425.1" y="648.5" font-size="21.55">NEWS2    , AUROC: 0.699 ± 0.012</text>
<path d="M363.1 671.6 H409.2" stroke="#7a3226" stroke-width="3.3"/>
<text class="mono" xml:space="preserve" x="425.1" y="680.2" font-size="21.55">qSOFA    , AUROC: 0.705 ± 0.013</text>
<path d="M363.1 703.3 H409.2" stroke="#e058b8" stroke-width="3.3"/>
<text class="mono" xml:space="preserve" x="425.1" y="711.9" font-size="21.55">SIRS     , AUROC: 0.679 ± 0.010</text>
<rect x="1272.6" y="43.1" width="479.6" height="227.7" rx="4.2" ry="4.2" fill="#fff" fill-opacity="0.8" stroke="#cccccc" stroke-opacity="0.8" stroke-width="1.67"/>
<path d="M1280 60.3 H1326.1" stroke="#065aa6" stroke-width="3.3"/>
<text class="mono" xml:space="preserve" x="1342" y="68.9" font-size="21.55">XGB opt  , AUPRC: 0.294 ± 0.021</text>
<path d="M1280 92 H1326.1" stroke="#ff6a00" stroke-width="3.3"/>
<text class="mono" xml:space="preserve" x="1342" y="100.6" font-size="21.55">XGB lite , AUPRC: 0.244 ± 0.013</text>
<path d="M1280 123.7 H1326.1" stroke="#0a850a" stroke-width="3.3"/>
<text class="mono" xml:space="preserve" x="1342" y="132.3" font-size="21.55">XGB unopt, AUPRC: 0.287 ± 0.017</text>
<path d="M1280 155.5 H1326.1" stroke="#cc0404" stroke-width="3.3"/>
<text class="mono" xml:space="preserve" x="1342" y="164.1" font-size="21.55">LogReg   , AUPRC: 0.256 ± 0.024</text>
<path d="M1280 187.2 H1326.1" stroke="#804cb4" stroke-width="3.3"/>
<text class="mono" xml:space="preserve" x="1342" y="195.8" font-size="21.55">NEWS2    , AUPRC: 0.092 ± 0.009</text>
<path d="M1280 218.9 H1326.1" stroke="#7a3226" stroke-width="3.3"/>
<text class="mono" xml:space="preserve" x="1342" y="227.5" font-size="21.55">qSOFA    , AUPRC: 0.079 ± 0.006</text>
<path d="M1280 250.6 H1326.1" stroke="#e058b8" stroke-width="3.3"/>
<text class="mono" xml:space="preserve" x="1342" y="259.2" font-size="21.55">SIRS     , AUPRC: 0.066 ± 0.004</text>
</svg></body></html>
